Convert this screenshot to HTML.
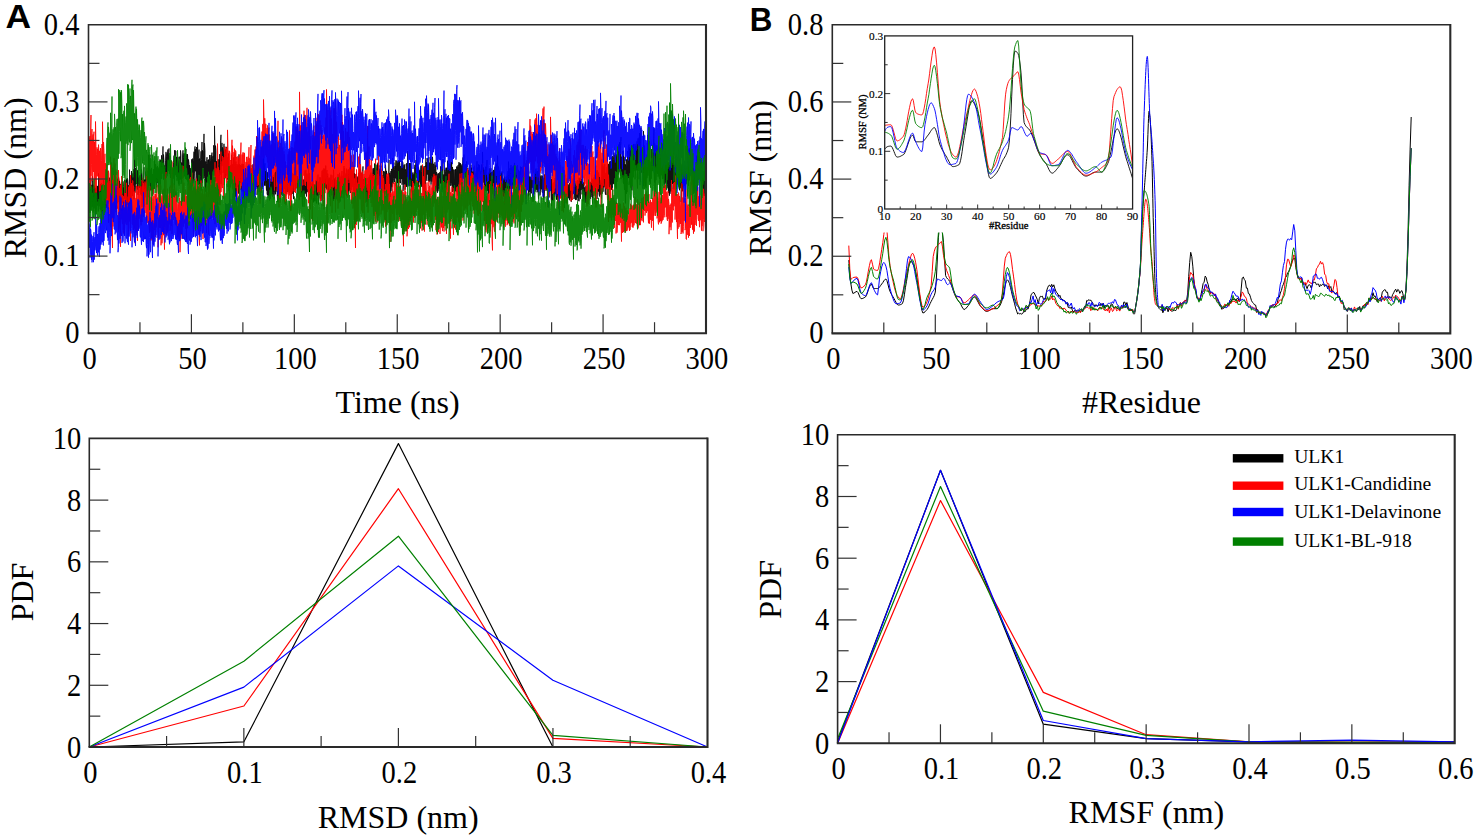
<!DOCTYPE html>
<html><head><meta charset="utf-8"><title>RMSD RMSF</title>
<style>html,body{margin:0;padding:0;background:#fff;overflow:hidden}svg{display:block}</style></head>
<body><svg width="1478" height="838" viewBox="0 0 1478 838">
<rect width="1478" height="838" fill="#fff"/>
<defs>
<clipPath id="clipA"><rect x="88.5" y="24.8" width="617.5" height="308.4"/></clipPath>
<clipPath id="clipB"><rect x="832.3" y="24.8" width="618.0" height="308.59999999999997"/></clipPath>
<clipPath id="clipI"><rect x="884.7" y="35.9" width="247.89999999999986" height="173.1"/></clipPath>
</defs>
<g clip-path="url(#clipA)"><polyline fill="none" stroke="#000000" stroke-width="0.8" stroke-linejoin="round" points="88.5,205.4 88.5,192.3 89,189.2 89,212.8 89.5,211.7 89.5,187.1 90,187.8 90,213 90.5,208.4 90.5,183.5 91,179.7 91,210.2 91.5,199.4 91.5,186.9 92,184.8 92,207.2 92.5,206.2 92.5,176.3 93,182.3 93,212.5 93.5,202.9 93.5,184.8 94,185.3 94,208.5 94.5,206.6 94.5,186.4 95,186.9 95,213.9 95.5,215.7 95.5,188.1 96,189.4 96,214 96.5,209.7 96.5,193.3 97,185.8 97,205.2 97.5,205.7 97.5,186.1 98,190.9 98,211.6 98.5,211.2 98.5,173.5 99,189.9 99,206.5 99.5,205.4 99.5,185.7 100,186 100,208.7 100.5,209.6 100.5,183.9 101,186.6 101,212.8 101.5,212.6 101.5,183.3 102,193.1 102,213.8 102.5,212.8 102.5,193.3 103,191.2 103,207.7 103.5,203.6 103.5,180 104,186.6 104,210.9 104.5,201.5 104.5,188.6 105,185.5 105,203.9 105.5,208.2 105.5,180 106,180.8 106,203.2 106.5,207.7 106.5,176.6 107,179.9 107,198.7 107.5,196.9 107.5,171.6 108,177.3 108,203.7 108.5,201.3 108.5,180.1 109,181.8 109,201.6 109.5,199 109.5,177.7 110,184.1 110,198.4 110.5,206 110.5,184 111,183.8 111,213.9 111.5,208 111.5,184.6 112,167.8 112,204.8 112.5,199.1 112.5,182.7 113,174.8 113,195 113.5,200.6 113.5,179.3 114,186.4 114,199.7 114.5,205.1 114.5,175.5 115,190.4 115,207.1 115.5,209.3 115.5,192.6 116,188.7 116,212.2 116.5,208.9 116.5,189.5 117,186.9 117,202 117.5,203.3 117.5,178.7 118,179.7 118,202 118.5,200.7 118.5,176.9 119,179.7 119,199.2 119.5,204.2 119.5,180.9 120,184.3 120,201.6 120.5,198.9 120.5,184.4 121,184.5 121,210.4 121.5,205.3 121.5,186.2 122,181.6 122,202.7 122.5,203.3 122.5,187.5 123,187.8 123,203.1 123.5,200.7 123.5,186.3 124,181.3 124,199 124.5,197.7 124.5,179.8 125,181.7 125,202.9 125.5,198.9 125.5,183.1 126,180.2 126,203.4 126.5,204.9 126.5,178.7 127,184.9 127,202.3 127.5,204.8 127.5,178.2 128,181.8 128,205.1 128.5,207.4 128.5,185.4 129,187.5 129,198.4 129.5,200.2 129.5,169.6 130,183.5 130,203.6 130.5,196.8 130.5,179.9 131,176.4 131,199.6 131.5,190.9 131.5,171.1 132,177.9 132,188.7 132.5,196.1 132.5,178 133,173.3 133,191.2 133.5,191.9 133.5,169.3 134,172.2 134,199.2 134.5,187.3 134.5,159.2 135,174.5 135,192.7 135.5,185.7 135.5,168 136,171.5 136,183.6 136.5,184.1 136.5,167 137,171.3 137,188.2 137.5,189.5 137.5,170.3 138,175.4 138,194.8 138.5,187.6 138.5,177.8 139,176.7 139,187.4 139.5,188 139.5,175.5 140,176.4 140,192.1 140.5,194.3 140.5,176.6 141,174.8 141,192.7 141.5,195.7 141.5,169.6 142,175.9 142,206.9 142.5,193.8 142.5,180.6 143,180.9 143,196.5 143.5,203.1 143.5,179 144,167.2 144,196.6 144.5,206.4 144.5,179.6 145,184.3 145,197.5 145.5,194.7 145.5,171.6 146,183 146,191.6 146.5,190.5 146.5,174.7 147,176.9 147,188.7 147.5,187.8 147.5,170.7 148,173.2 148,186.8 148.5,197.2 148.5,154.8 149,172.6 149,186 149.5,181.7 149.5,167.3 150,154.6 150,183.8 150.5,190.4 150.5,171.2 151,169.3 151,183 151.5,190.2 151.5,167.9 152,173.9 152,188.6 152.5,190.7 152.5,174.1 153,175.8 153,194.4 153.5,186.5 153.5,169.2 154,173.3 154,186.6 154.5,188.7 154.5,160.4 155,170.9 155,182.5 155.5,179.8 155.5,164.1 156,166.5 156,179.5 156.5,187.3 156.5,167.6 157,167.3 157,183.1 157.5,182 157.5,166 158,167.9 158,186.3 158.5,188.1 158.5,168.5 159,169.1 159,184.8 159.5,179.2 159.5,165.5 160,159.4 160,179.2 160.5,187.1 160.5,160.9 161,160.1 161,172.2 161.5,179.1 161.5,155.3 162,161.5 162,173.9 162.5,170.7 162.5,161 163,146.4 163,177.6 163.5,179.5 163.5,154.5 164,160.8 164,179.6 164.5,176.1 164.5,165.5 165,166.3 165,176.3 165.5,178.8 165.5,160.7 166,151.9 166,177.7 166.5,177.9 166.5,156.7 167,153.3 167,176.4 167.5,174.1 167.5,151.2 168,149.4 168,168.9 168.5,171 168.5,154.9 169,148.4 169,167.6 169.5,174 169.5,157.4 170,155.9 170,173.6 170.5,178 170.5,164.6 171,171.8 171,187.4 171.5,185.3 171.5,160.8 172,171.2 172,185.4 172.5,187.7 172.5,168.9 173,167.8 173,178.8 173.5,175.6 173.5,162.5 174,155.6 174,177.5 174.5,187.9 174.5,150.2 175,156.7 175,174.4 175.5,174.9 175.5,150.5 176,151 176,175.8 176.5,176.8 176.5,156.9 177,164.1 177,180.7 177.5,175.8 177.5,157.1 178,164.5 178,178.1 178.5,183.7 178.5,166 179,156.8 179,185.6 179.5,180.6 179.5,158.9 180,156.5 180,177.5 180.5,179.4 180.5,150.4 181,155 181,183.9 181.5,182.1 181.5,162.7 182,162.6 182,178.8 182.5,178.4 182.5,156 183,150.3 183,177.9 183.5,174.6 183.5,157.3 184,153.3 184,171.6 184.5,176.3 184.5,153.8 185,157.3 185,175.1 185.5,178.8 185.5,152.5 186,149 186,176.2 186.5,179.6 186.5,157.3 187,154 187,177.5 187.5,181.5 187.5,154.3 188,163.7 188,185.6 188.5,180.2 188.5,159.4 189,163.1 189,190.3 189.5,188.8 189.5,165.2 190,170 190,182.8 190.5,190.1 190.5,168.3 191,169.2 191,188.3 191.5,189.9 191.5,159.5 192,159.6 192,182.9 192.5,183 192.5,158.6 193,159.8 193,186.2 193.5,178.1 193.5,160.8 194,151.7 194,180.1 194.5,173.2 194.5,151.6 195,146.4 195,171.3 195.5,171.1 195.5,149.2 196,157.6 196,181.1 196.5,175.9 196.5,147 197,155 197,174 197.5,182.1 197.5,142.8 198,157.2 198,183.4 198.5,184.7 198.5,158.6 199,149.6 199,172 199.5,186.8 199.5,158.5 200,161.1 200,184.6 200.5,176.3 200.5,160.5 201,151.3 201,190.6 201.5,180.1 201.5,159.5 202,142 202,177.5 202.5,182.7 202.5,150.3 203,157.2 203,178.4 203.5,168.5 203.5,150.4 204,133.9 204,178.4 204.5,176.3 204.5,143.1 205,150.7 205,175.1 205.5,191.7 205.5,161.6 206,161.8 206,185.5 206.5,196.8 206.5,163.3 207,157.2 207,182.5 207.5,182.3 207.5,163.9 208,160 208,183.8 208.5,196.9 208.5,159.5 209,162.9 209,185.2 209.5,193.9 209.5,155.1 210,161.8 210,185.6 210.5,183.5 210.5,160.8 211,155 211,181.6 211.5,183.2 211.5,156.7 212,152.6 212,179.8 212.5,181.2 212.5,158.3 213,155.8 213,171.9 213.5,170.8 213.5,145.4 214,147.6 214,175.7 214.5,169 214.5,125.9 215,150.7 215,176.6 215.5,181.5 215.5,145.6 216,150.5 216,181.3 216.5,179.2 216.5,161.2 217,167.2 217,190.3 217.5,189.9 217.5,166.7 218,159.3 218,196.9 218.5,190.6 218.5,164.5 219,159.4 219,184.1 219.5,194.3 219.5,154.2 220,154.9 220,174.8 220.5,174.1 220.5,140.8 221,134.8 221,184.2 221.5,175.4 221.5,150.4 222,142.9 222,166 222.5,165.4 222.5,147.3 223,151.9 223,172.9 223.5,170.6 223.5,153.1 224,143.8 224,179 224.5,176 224.5,153.8 225,146.7 225,177.4 225.5,178.2 225.5,149.6 226,156 226,176.2 226.5,167.7 226.5,146.9 227,152.6 227,171.7 227.5,179.6 227.5,157.4 228,164.2 228,187 228.5,180.3 228.5,153.5 229,161.3 229,191.1 229.5,187.5 229.5,166.4 230,168 230,187.7 230.5,185.3 230.5,165.6 231,164.8 231,183.7 231.5,181.4 231.5,154.8 232,165 232,178.1 232.5,181.6 232.5,164.3 233,165.5 233,180.1 233.5,183.5 233.5,157.6 234,167.6 234,197.6 234.5,197.4 234.5,166.5 235,153.2 235,183.2 235.5,196.7 235.5,165.6 236,161.5 236,183.8 236.5,198.9 236.5,168.1 237,164 237,187.1 237.5,182.8 237.5,168 238,164.8 238,183.4 238.5,193.6 238.5,167.2 239,154.3 239,180.8 239.5,185.4 239.5,164.1 240,168.1 240,181.4 240.5,182.9 240.5,165.1 241,171.8 241,187.2 241.5,191 241.5,167 242,163.9 242,191.6 242.5,184.7 242.5,163.9 243,167.7 243,194 243.5,199.3 243.5,164.1 244,172.2 244,187.7 244.5,199.8 244.5,172.8 245,173 245,193.7 245.5,194.9 245.5,174.2 246,172.8 246,195 246.5,196.4 246.5,177.3 247,181.1 247,196 247.5,195.9 247.5,173.9 248,177 248,196.8 248.5,195.2 248.5,169 249,173.6 249,193.7 249.5,190.8 249.5,171.1 250,171.1 250,182.2 250.5,184.3 250.5,168.5 251,165.2 251,192.8 251.5,182.3 251.5,168.4 252,170.6 252,185.4 252.5,180.3 252.5,165.7 253,164.4 253,181.8 253.5,183.8 253.5,170.5 254,168 254,181.2 254.5,195.6 254.5,171.9 255,173 255,183.8 255.5,190.2 255.5,170.2 256,171.6 256,185.7 256.5,186.8 256.5,166.8 257,175.3 257,194.9 257.5,189.4 257.5,169.9 258,169.6 258,185.2 258.5,187.5 258.5,173.3 259,173.8 259,192.2 259.5,189.9 259.5,177.5 260,178.5 260,191.4 260.5,199 260.5,180.6 261,172.1 261,193 261.5,189.1 261.5,178.1 262,174.7 262,189.2 262.5,187.3 262.5,166.9 263,159.3 263,179.8 263.5,180.4 263.5,153.4 264,155.6 264,180 264.5,185.3 264.5,167.9 265,163.3 265,185.9 265.5,183.2 265.5,170.9 266,171.5 266,183.9 266.5,190.5 266.5,169.8 267,176 267,193.7 267.5,195.3 267.5,172.3 268,180.8 268,197.9 268.5,197.6 268.5,179 269,179.6 269,194.1 269.5,200.4 269.5,168.8 270,177.8 270,194.9 270.5,198.7 270.5,183.6 271,178.7 271,192 271.5,194.5 271.5,175.9 272,181.6 272,194.2 272.5,196.9 272.5,176.7 273,177 273,195.7 273.5,192.6 273.5,176.7 274,174.9 274,198.6 274.5,190.2 274.5,173.6 275,172.5 275,189.3 275.5,194.3 275.5,170.7 276,172.9 276,191.7 276.5,189.9 276.5,170.5 277,174.2 277,190.4 277.5,201.8 277.5,178.9 278,181.8 278,202.1 278.5,199.3 278.5,184.3 279,173.1 279,199.4 279.5,197.5 279.5,185.3 280,180.8 280,199.7 280.5,197.2 280.5,170.2 281,180.2 281,193.9 281.5,194.6 281.5,180.6 282,178.5 282,190.1 282.5,189 282.5,175.5 283,172.1 283,190.5 283.5,192.5 283.5,178.4 284,175.3 284,186.9 284.5,189.1 284.5,173.1 285,176.6 285,193.3 285.5,192.9 285.5,171.9 286,175.6 286,194.1 286.5,192.7 286.5,176.9 287,179.3 287,192 287.5,191.8 287.5,177.4 288,174.7 288,191.8 288.5,190.7 288.5,166.6 289,179.5 289,190.3 289.5,193.1 289.5,175.8 290,178.6 290,189 290.5,191.7 290.5,174.4 291,165.5 291,194.7 291.5,195 291.5,174.7 292,172.8 292,188.7 292.5,193.7 292.5,173 293,176.6 293,187.1 293.5,199.1 293.5,174 294,175.3 294,190.2 294.5,187.8 294.5,174.2 295,167.2 295,185.1 295.5,190.2 295.5,172.3 296,160.1 296,188.4 296.5,181.7 296.5,172.3 297,170.4 297,197.7 297.5,188.1 297.5,176.1 298,179.9 298,191.1 298.5,194 298.5,178.7 299,181.7 299,191.2 299.5,199.5 299.5,178.3 300,182.2 300,197.1 300.5,192.1 300.5,179.2 301,182 301,197 301.5,195 301.5,179.2 302,175.9 302,196.2 302.5,206.5 302.5,180.7 303,179.1 303,199 303.5,192.1 303.5,179.9 304,182.9 304,206.8 304.5,194.8 304.5,183.2 305,170.4 305,192.4 305.5,193.5 305.5,180 306,169.8 306,192.9 306.5,196.5 306.5,178.1 307,173.5 307,192.3 307.5,187.3 307.5,177.5 308,174.3 308,191.8 308.5,189.9 308.5,165.2 309,172.5 309,193.4 309.5,188.9 309.5,173 310,180.4 310,198.2 310.5,200.8 310.5,181.9 311,182.6 311,195.2 311.5,199.5 311.5,186.7 312,183.4 312,196.6 312.5,199.8 312.5,182 313,181.4 313,195.8 313.5,202.4 313.5,185.6 314,184 314,196.9 314.5,201.2 314.5,185.6 315,184.9 315,201.2 315.5,198.4 315.5,185.1 316,180.3 316,197.6 316.5,203.4 316.5,188 317,179.9 317,195.7 317.5,196.2 317.5,186.2 318,174.5 318,195.5 318.5,204.5 318.5,182.5 319,181.6 319,194.8 319.5,193 319.5,177.2 320,177.9 320,197.4 320.5,199 320.5,177.4 321,181.8 321,201.3 321.5,196.1 321.5,184.2 322,170.7 322,193.5 322.5,189.6 322.5,174.3 323,169.7 323,192.4 323.5,198.6 323.5,171.5 324,168.2 324,188.1 324.5,190.9 324.5,169 325,169.8 325,183.4 325.5,187.8 325.5,165.7 326,165.7 326,186.8 326.5,188.7 326.5,173 327,170.1 327,189.8 327.5,185.5 327.5,173.7 328,173.8 328,193 328.5,190.3 328.5,178.6 329,177.5 329,194 329.5,197.1 329.5,177.9 330,181.7 330,194.5 330.5,205.1 330.5,177.9 331,174.6 331,190.5 331.5,195.4 331.5,182.1 332,175.3 332,193.1 332.5,195 332.5,179.8 333,182.7 333,195.4 333.5,200.9 333.5,169.6 334,181.1 334,198.3 334.5,199.2 334.5,178.5 335,182 335,194.5 335.5,195.2 335.5,177.3 336,183 336,199.4 336.5,192.2 336.5,181.5 337,180.2 337,198.5 337.5,193.3 337.5,181.3 338,174 338,192.4 338.5,192.9 338.5,176.6 339,175.3 339,200.1 339.5,192.2 339.5,172.8 340,176.3 340,201.6 340.5,194.6 340.5,178.4 341,176.4 341,197.6 341.5,189.9 341.5,176.4 342,171 342,191.6 342.5,187.9 342.5,177.2 343,175.5 343,190.2 343.5,190.1 343.5,171.7 344,166 344,191.9 344.5,185.5 344.5,168.1 345,174.3 345,187.6 345.5,191.4 345.5,174.5 346,173.4 346,189 346.5,195.2 346.5,168.6 347,178.6 347,195.8 347.5,190.8 347.5,176.6 348,169.7 348,193.1 348.5,194.9 348.5,169.3 349,171.4 349,190.8 349.5,190.3 349.5,167.6 350,171.8 350,191.8 350.5,193 350.5,164.3 351,166.8 351,187.1 351.5,190 351.5,171.5 352,169.3 352,187 352.5,184.2 352.5,175.9 353,170.9 353,187.2 353.5,190.7 353.5,175.7 354,165.6 354,194.5 354.5,192.3 354.5,173.3 355,178.5 355,190.4 355.5,197.3 355.5,176.2 356,173.9 356,192.6 356.5,191.1 356.5,179.7 357,176.3 357,193.2 357.5,190.2 357.5,177.6 358,176.9 358,187.1 358.5,191.4 358.5,173 359,172.8 359,190.8 359.5,192.9 359.5,170.8 360,168.7 360,185.4 360.5,192 360.5,169.9 361,173.4 361,197.2 361.5,187.5 361.5,173.1 362,172.9 362,191 362.5,194 362.5,173.2 363,166.4 363,192.9 363.5,198.2 363.5,179 364,183.1 364,199.6 364.5,194.4 364.5,177.3 365,183.1 365,197.9 365.5,198.1 365.5,182.7 366,178.4 366,202.1 366.5,199.1 366.5,184.3 367,178 367,206.8 367.5,202.6 367.5,184 368,184.9 368,196.8 368.5,199.4 368.5,180.4 369,177.2 369,194.3 369.5,198 369.5,179.7 370,174.8 370,196.9 370.5,196.4 370.5,177.5 371,172.5 371,192.1 371.5,188.5 371.5,177.4 372,174.6 372,190.8 372.5,192.1 372.5,174.9 373,168.4 373,185.8 373.5,182.4 373.5,170 374,167.9 374,183.5 374.5,190 374.5,163.5 375,167.4 375,182.1 375.5,182.7 375.5,165.3 376,173.3 376,183 376.5,189.4 376.5,170.6 377,164.7 377,183.9 377.5,185.5 377.5,163.7 378,162.6 378,184.7 378.5,182 378.5,167.9 379,165.4 379,185 379.5,183.6 379.5,170.6 380,168.6 380,188.8 380.5,184.3 380.5,168.3 381,165.6 381,182.2 381.5,187.8 381.5,170.6 382,171.6 382,185.4 382.5,191.1 382.5,175 383,176.2 383,192.8 383.5,189.4 383.5,171 384,179.2 384,188.3 384.5,194.1 384.5,171.5 385,173.1 385,194.1 385.5,190.3 385.5,164.7 386,174.4 386,198.4 386.5,194.5 386.5,170.9 387,179.1 387,190.9 387.5,196.6 387.5,176.7 388,177.8 388,194.8 388.5,192.5 388.5,179.2 389,159.9 389,207 389.5,189.6 389.5,172.9 390,174.3 390,191.4 390.5,196.9 390.5,174.2 391,171 391,191.5 391.5,186.1 391.5,168.9 392,170.7 392,187 392.5,186.3 392.5,158.2 393,168.9 393,183.9 393.5,178.5 393.5,166.1 394,162.5 394,178.6 394.5,182.1 394.5,169.4 395,166 395,178.3 395.5,178.2 395.5,165.9 396,160.2 396,185.9 396.5,179.6 396.5,166 397,161 397,176 397.5,183.1 397.5,163.9 398,161.4 398,187.1 398.5,184.1 398.5,160.3 399,160.9 399,182.1 399.5,182.6 399.5,161.1 400,166.2 400,180.9 400.5,183.1 400.5,166.2 401,167.4 401,179 401.5,179 401.5,166.1 402,161.2 402,184.7 402.5,179.1 402.5,161.8 403,162.9 403,191.3 403.5,185.6 403.5,168.8 404,164.6 404,183 404.5,184.4 404.5,165.8 405,164.4 405,189.7 405.5,183 405.5,169.4 406,171.4 406,182.3 406.5,186.9 406.5,163.3 407,167.1 407,185.5 407.5,180.5 407.5,151.2 408,168.8 408,185.2 408.5,180 408.5,168.5 409,163.4 409,186.1 409.5,184.9 409.5,163 410,165.1 410,186.1 410.5,182.1 410.5,163.2 411,168.2 411,183.8 411.5,190.5 411.5,169.5 412,176.2 412,192.5 412.5,187.8 412.5,174.3 413,172.4 413,195.3 413.5,187.1 413.5,174.3 414,173.6 414,184.8 414.5,185.7 414.5,166.6 415,164.8 415,184.6 415.5,183.8 415.5,167.4 416,160 416,177.1 416.5,177.5 416.5,154.7 417,167.1 417,176.9 417.5,179 417.5,163.9 418,167.1 418,179.2 418.5,186.9 418.5,167.1 419,170.5 419,182.4 419.5,180.5 419.5,170.2 420,170.6 420,185.2 420.5,188.1 420.5,169.9 421,165.7 421,187 421.5,186.6 421.5,171.7 422,165.5 422,185.2 422.5,186.5 422.5,167.3 423,172.8 423,186.3 423.5,191 423.5,169.1 424,166.2 424,202.4 424.5,186.1 424.5,172.3 425,166.2 425,194.7 425.5,183.1 425.5,164.6 426,158.1 426,181.1 426.5,178.9 426.5,162.3 427,163.3 427,174.6 427.5,174.4 427.5,158.2 428,162.6 428,181 428.5,180.6 428.5,161.2 429,157.2 429,182 429.5,181.6 429.5,162.7 430,162.9 430,181.4 430.5,178 430.5,157.3 431,160.7 431,184.7 431.5,176.3 431.5,161.4 432,165.3 432,181.6 432.5,176.8 432.5,156.8 433,165.1 433,196.5 433.5,184.9 433.5,163.8 434,165.2 434,178.6 434.5,184.4 434.5,168.4 435,162.2 435,185.8 435.5,180.2 435.5,165.3 436,164.6 436,191.4 436.5,187 436.5,172.1 437,173.4 437,189.8 437.5,192.8 437.5,175.2 438,173.7 438,191.3 438.5,186.5 438.5,173.3 439,174.1 439,189.1 439.5,188.6 439.5,172.8 440,171.9 440,183 440.5,183.6 440.5,166.4 441,170 441,192.5 441.5,184.3 441.5,167 442,174.4 442,185.3 442.5,189.6 442.5,173.5 443,159.1 443,192.4 443.5,187.7 443.5,174.8 444,174.3 444,189 444.5,189.5 444.5,169.6 445,171.1 445,188.1 445.5,187.5 445.5,171.5 446,167.7 446,181.5 446.5,189.4 446.5,167.8 447,171.6 447,183.1 447.5,182.9 447.5,160.7 448,168 448,193.6 448.5,184.6 448.5,163.3 449,169.4 449,185.1 449.5,180.4 449.5,167.3 450,164.1 450,186.1 450.5,183.3 450.5,169 451,162.1 451,185.7 451.5,183.2 451.5,161.8 452,169 452,181 452.5,192 452.5,167 453,174 453,190.4 453.5,190.4 453.5,169.7 454,169.5 454,191.9 454.5,191.3 454.5,180 455,169.8 455,189.7 455.5,191.4 455.5,169.1 456,171.3 456,187.9 456.5,191.8 456.5,166.6 457,167.9 457,183.5 457.5,195.5 457.5,166.9 458,165.3 458,187 458.5,182.1 458.5,166.5 459,162 459,185.3 459.5,195.3 459.5,163.3 460,165.7 460,182.1 460.5,185 460.5,163.2 461,167.7 461,184.8 461.5,186.4 461.5,165.6 462,164.4 462,184.1 462.5,175.2 462.5,165.8 463,157.4 463,174.1 463.5,178.5 463.5,163.4 464,154.5 464,177.8 464.5,180.3 464.5,167.6 465,164.5 465,182.2 465.5,182.7 465.5,164.3 466,169.5 466,186.7 466.5,186.8 466.5,161.4 467,169.4 467,182.3 467.5,183.4 467.5,170.1 468,167.9 468,188.8 468.5,186.6 468.5,173.5 469,169.8 469,189.6 469.5,192.8 469.5,175.8 470,174.8 470,186 470.5,192.1 470.5,170.6 471,164.7 471,191 471.5,187.4 471.5,167.7 472,173.1 472,186.2 472.5,189.3 472.5,171.5 473,173.4 473,188 473.5,193.6 473.5,171.9 474,167.2 474,192 474.5,189.5 474.5,171 475,171.6 475,193.4 475.5,195.3 475.5,175.5 476,173.2 476,185.4 476.5,196.5 476.5,171.9 477,161.3 477,186.5 477.5,189.7 477.5,169.1 478,167.2 478,183.7 478.5,184.7 478.5,164.3 479,169.4 479,189.6 479.5,185.2 479.5,164.9 480,170.8 480,188.8 480.5,188 480.5,172.6 481,170.7 481,183.2 481.5,180.3 481.5,164.5 482,167 482,186.2 482.5,183.9 482.5,151.9 483,167.5 483,182.2 483.5,182.4 483.5,167.5 484,171.5 484,186.3 484.5,189.1 484.5,170.1 485,169.6 485,188 485.5,190.7 485.5,166.7 486,167.2 486,188 486.5,191.2 486.5,171.2 487,160 487,191 487.5,190.2 487.5,177.7 488,180.2 488,202.6 488.5,188.8 488.5,172.7 489,174.5 489,192.8 489.5,187.5 489.5,168.3 490,168.8 490,189.6 490.5,189.6 490.5,171.8 491,168.3 491,184.7 491.5,201.4 491.5,172.2 492,172.1 492,194.3 492.5,191.8 492.5,171.5 493,174 493,192.4 493.5,188.6 493.5,169.9 494,172.8 494,185.6 494.5,198.2 494.5,170.9 495,166.7 495,187 495.5,180.2 495.5,167.2 496,163.7 496,184.7 496.5,180.3 496.5,164.9 497,163.5 497,182.9 497.5,181.6 497.5,155.6 498,167.4 498,188.2 498.5,188.7 498.5,166.5 499,169.7 499,191.8 499.5,190.7 499.5,170.6 500,178.4 500,192.7 500.5,194.3 500.5,178.4 501,172.8 501,186.2 501.5,190.7 501.5,175.3 502,171.4 502,188 502.5,194.3 502.5,176.6 503,175.2 503,191.1 503.5,196.7 503.5,180.7 504,178.5 504,194.2 504.5,204.9 504.5,176.6 505,176.9 505,197.4 505.5,199 505.5,180.7 506,179.3 506,198.3 506.5,194 506.5,178.3 507,176.2 507,195.1 507.5,189.6 507.5,176.4 508,171 508,187.4 508.5,191.1 508.5,161.6 509,174.1 509,191.7 509.5,189.9 509.5,170.6 510,168.2 510,187.8 510.5,188.6 510.5,172.8 511,165 511,189.1 511.5,187.3 511.5,168.6 512,167.4 512,185.2 512.5,188.7 512.5,173.5 513,166.2 513,184.3 513.5,188.4 513.5,165.5 514,171.9 514,187.9 514.5,188.7 514.5,162.9 515,175.3 515,190.3 515.5,193 515.5,172.6 516,173.1 516,194.4 516.5,191.4 516.5,173.8 517,166.2 517,190.5 517.5,199 517.5,176.9 518,172.6 518,193.2 518.5,188.9 518.5,169.8 519,174.7 519,182.5 519.5,181.5 519.5,171.9 520,171.1 520,184.2 520.5,186.5 520.5,166.6 521,169.5 521,187.5 521.5,184.2 521.5,167.1 522,169.6 522,186.4 522.5,195.9 522.5,169.4 523,170.9 523,185.3 523.5,185.2 523.5,170.8 524,171.4 524,192.3 524.5,189.1 524.5,174.9 525,172.3 525,191.5 525.5,185.8 525.5,172.4 526,170.8 526,191 526.5,194.2 526.5,170.7 527,174.7 527,188.7 527.5,189.8 527.5,176 528,170.7 528,185 528.5,196.7 528.5,164.2 529,174.2 529,191.2 529.5,191.9 529.5,176.6 530,177.7 530,195.3 530.5,191 530.5,176.8 531,177 531,191.6 531.5,193.3 531.5,177.6 532,178.8 532,187.9 532.5,187.6 532.5,178.1 533,177.3 533,201.8 533.5,190.1 533.5,180.1 534,179.7 534,188.9 534.5,188.7 534.5,177.5 535,173.1 535,191.8 535.5,189.4 535.5,171.4 536,168.5 536,189.8 536.5,189.7 536.5,175.4 537,170.5 537,192.3 537.5,190.6 537.5,171.1 538,173.2 538,190.2 538.5,198.8 538.5,171.9 539,162.1 539,189.3 539.5,186.6 539.5,171.5 540,170.3 540,195.5 540.5,191.3 540.5,176.6 541,175.5 541,188 541.5,189.3 541.5,178.3 542,175.6 542,191.9 542.5,192.8 542.5,175.9 543,179.4 543,193.6 543.5,199.5 543.5,181.1 544,177.7 544,198.4 544.5,193.2 544.5,174.4 545,178 545,189.4 545.5,187.2 545.5,175.4 546,169.9 546,190.9 546.5,189.2 546.5,163.2 547,164.2 547,187.3 547.5,182.6 547.5,171.6 548,166.4 548,181.7 548.5,188.8 548.5,174 549,174.8 549,197.6 549.5,189 549.5,165.1 550,176.4 550,191.2 550.5,188.7 550.5,179.5 551,176.4 551,193.5 551.5,206.1 551.5,179.1 552,185.1 552,196.5 552.5,200.5 552.5,184.4 553,183.3 553,201 553.5,194.4 553.5,185.3 554,182.2 554,197.3 554.5,194 554.5,182.3 555,178 555,192 555.5,193.6 555.5,183.5 556,167.8 556,195.4 556.5,199.6 556.5,184.6 557,184.9 557,199.6 557.5,199 557.5,187.4 558,171.6 558,195.3 558.5,202 558.5,182 559,187.2 559,198.5 559.5,198.2 559.5,183.3 560,183.3 560,195.4 560.5,197.6 560.5,180.5 561,181.6 561,194.7 561.5,194.9 561.5,174.8 562,183.3 562,193.4 562.5,198.9 562.5,180.7 563,186.5 563,196.6 563.5,197.2 563.5,184.9 564,186.7 564,200.7 564.5,207.9 564.5,185.3 565,174.7 565,196.7 565.5,195.5 565.5,182.3 566,185.3 566,203.1 566.5,196.2 566.5,184.8 567,178.4 567,197.3 567.5,193.2 567.5,184 568,184.2 568,197 568.5,198.2 568.5,186.1 569,184.4 569,196.3 569.5,200.2 569.5,183 570,187.3 570,198.6 570.5,197.5 570.5,187.3 571,176.1 571,201.6 571.5,201.6 571.5,186.2 572,184.4 572,193.9 572.5,195.3 572.5,184.1 573,178.5 573,194 573.5,192.2 573.5,174.6 574,176.3 574,199 574.5,195.2 574.5,183.2 575,185.7 575,196.6 575.5,199.9 575.5,186.8 576,181 576,200.1 576.5,199.5 576.5,185.7 577,185.3 577,195.7 577.5,197.6 577.5,180.1 578,183.6 578,201 578.5,192.6 578.5,183.4 579,177.7 579,201.3 579.5,191.1 579.5,182.6 580,177.7 580,194.6 580.5,198.9 580.5,180.9 581,178.3 581,190.2 581.5,188.9 581.5,179.3 582,178.9 582,194.4 582.5,189.4 582.5,175.5 583,177.2 583,201.5 583.5,193.2 583.5,184.3 584,182.2 584,196.1 584.5,196.5 584.5,187.6 585,187.2 585,202.7 585.5,197 585.5,189.4 586,185.8 586,202.9 586.5,199.4 586.5,185.7 587,185.8 587,204.2 587.5,202.6 587.5,185.4 588,187.6 588,198.7 588.5,199.8 588.5,188.5 589,189.2 589,196.8 589.5,198.1 589.5,185.7 590,181.7 590,194.9 590.5,198.7 590.5,184.3 591,182 591,197 591.5,193.6 591.5,178.8 592,178.5 592,191.1 592.5,203.6 592.5,179.2 593,180.1 593,191.7 593.5,192.8 593.5,182.1 594,177.4 594,189.8 594.5,191.2 594.5,178.3 595,174.5 595,193.4 595.5,189.7 595.5,176.8 596,170.2 596,187.2 596.5,186.3 596.5,175.7 597,170.7 597,199 597.5,187.4 597.5,170.3 598,177.3 598,188.9 598.5,191.6 598.5,172.5 599,175.5 599,194 599.5,196.5 599.5,177 600,180.9 600,192 600.5,194.5 600.5,180.5 601,180.6 601,194.8 601.5,198.6 601.5,176.6 602,159.3 602,193.8 602.5,190.3 602.5,167.1 603,164.4 603,191.8 603.5,183.2 603.5,166.5 604,166.9 604,187.3 604.5,183 604.5,164.2 605,164.1 605,191.3 605.5,194.7 605.5,173.5 606,172.8 606,189.2 606.5,188.8 606.5,174.6 607,166.8 607,195 607.5,188.9 607.5,175.7 608,164.6 608,186.5 608.5,183 608.5,163.9 609,166.8 609,187.2 609.5,189.7 609.5,161.6 610,164.3 610,188.7 610.5,185.4 610.5,161.1 611,163.4 611,183.8 611.5,189.8 611.5,157.3 612,161.6 612,185.4 612.5,187.8 612.5,156 613,157.6 613,183.7 613.5,183.6 613.5,159.5 614,152.6 614,184.2 614.5,178.2 614.5,162.9 615,154.7 615,180.6 615.5,187.3 615.5,153.7 616,154.6 616,188.8 616.5,188.4 616.5,156.1 617,154.1 617,181.9 617.5,174.2 617.5,148.1 618,152.5 618,171.9 618.5,174.4 618.5,145.3 619,144.3 619,172.3 619.5,168.8 619.5,142 620,147.8 620,167.5 620.5,175.9 620.5,145.8 621,137.1 621,179.2 621.5,171.1 621.5,156.7 622,158 622,176.2 622.5,177.6 622.5,151.1 623,157.3 623,182 623.5,183.7 623.5,150.7 624,163 624,182.1 624.5,190 624.5,163.5 625,156.9 625,186 625.5,203.4 625.5,164.4 626,167 626,192.9 626.5,193.8 626.5,159.4 627,164.6 627,192.1 627.5,179 627.5,151 628,157.4 628,176.3 628.5,178.2 628.5,147.8 629,144.5 629,184.8 629.5,180.8 629.5,147.2 630,156.7 630,181.6 630.5,187.6 630.5,148.4 631,156 631,186 631.5,189.9 631.5,152.5 632,148.1 632,190.4 632.5,176.6 632.5,147.5 633,144.9 633,177.4 633.5,177.1 633.5,144.2 634,149.9 634,171.2 634.5,169.7 634.5,153.4 635,143.9 635,179.4 635.5,173.9 635.5,145.8 636,146.7 636,170.6 636.5,168.7 636.5,147.6 637,141.2 637,177.2 637.5,188.5 637.5,148.5 638,138.4 638,171 638.5,166.5 638.5,146.5 639,137.6 639,179.3 639.5,171.5 639.5,133 640,143 640,165.4 640.5,181.6 640.5,135.1 641,127.6 641,171.5 641.5,172.6 641.5,149 642,147.7 642,172.6 642.5,172.3 642.5,147.9 643,156.6 643,182.4 643.5,186.1 643.5,131.1 644,163.5 644,189 644.5,178.8 644.5,145.6 645,160.4 645,179.1 645.5,186.5 645.5,160.4 646,160.4 646,188.2 646.5,175.3 646.5,161.4 647,154.5 647,178.2 647.5,168.9 647.5,135.1 648,140.6 648,175.7 648.5,167.1 648.5,144.6 649,143.3 649,166.7 649.5,181.4 649.5,141.2 650,158.6 650,179.7 650.5,183.8 650.5,163.4 651,161.6 651,179 651.5,178.3 651.5,149.1 652,150.7 652,171.2 652.5,169.1 652.5,148.8 653,147.8 653,171.1 653.5,166.8 653.5,138.4 654,128.5 654,172.6 654.5,182.5 654.5,143.3 655,143.6 655,192.2 655.5,168 655.5,152 656,145.3 656,180.2 656.5,169.3 656.5,153.5 657,145.4 657,171 657.5,174 657.5,150.7 658,147.6 658,176.6 658.5,174.3 658.5,154.8 659,154.1 659,176.4 659.5,179 659.5,150.2 660,146.6 660,194.3 660.5,173.9 660.5,154 661,156.1 661,175.3 661.5,175.1 661.5,156.9 662,150.6 662,174.5 662.5,179.1 662.5,143.7 663,160.4 663,178.7 663.5,178.1 663.5,157 664,153.4 664,182.5 664.5,184.6 664.5,151.3 665,162.6 665,183.7 665.5,180.9 665.5,148.2 666,156.8 666,188.9 666.5,188.5 666.5,154.6 667,158 667,188.3 667.5,184.7 667.5,167.1 668,150.3 668,185.8 668.5,192.8 668.5,165.5 669,162.2 669,191.7 669.5,195.7 669.5,164.4 670,171.9 670,193.8 670.5,183.3 670.5,165.9 671,160.4 671,191.4 671.5,187.8 671.5,161.9 672,159.7 672,179 672.5,184 672.5,156 673,156.1 673,189.2 673.5,180.7 673.5,158 674,145.8 674,189.3 674.5,182 674.5,164.9 675,167.2 675,183.2 675.5,183.1 675.5,156.1 676,162.7 676,184.9 676.5,188.9 676.5,154.3 677,159.2 677,184.5 677.5,183.8 677.5,157.3 678,162.7 678,177.1 678.5,185.9 678.5,148.3 679,162.7 679,185 679.5,190.3 679.5,160.3 680,158.3 680,188.3 680.5,184.1 680.5,162.8 681,167.9 681,201.9 681.5,189.8 681.5,171.6 682,164.4 682,183.7 682.5,191.3 682.5,163.6 683,164.9 683,186.9 683.5,183.9 683.5,170.2 684,169.8 684,186.2 684.5,185.6 684.5,168.4 685,165.1 685,186.8 685.5,197 685.5,171.3 686,167.7 686,184.3 686.5,181.9 686.5,168.7 687,166.2 687,180.4 687.5,179.5 687.5,161 688,153.9 688,171.7 688.5,185.8 688.5,155.2 689,148.6 689,175.5 689.5,180.4 689.5,148.5 690,159.2 690,171.1 690.5,171.7 690.5,154.2 691,159.1 691,174.3 691.5,184.9 691.5,165.8 692,163 692,182.6 692.5,190 692.5,154.3 693,174.6 693,191.6 693.5,193.9 693.5,168.3 694,179 694,192.8 694.5,192.5 694.5,176.8 695,170.1 695,193.7 695.5,195.7 695.5,169.1 696,174.3 696,186.2 696.5,191.4 696.5,165.6 697,155.5 697,195.4 697.5,179.2 697.5,162.3 698,156 698,180.1 698.5,174.5 698.5,156.1 699,160 699,178.6 699.5,176.2 699.5,157.9 700,156.8 700,177.9 700.5,176.5 700.5,159.1 701,161.7 701,178.5 701.5,187.3 701.5,162 702,170.6 702,186.9 702.5,187.7 702.5,173.8 703,175.8 703,193.1 703.5,195.6 703.5,171 704,173.1 704,188.3 704.5,196.1 704.5,168.4 705,165.8 705,184.9 705.5,189.4 705.5,172.8 706,164.9 706,184.3" /><polyline fill="none" stroke="#ff0000" stroke-width="0.8" stroke-linejoin="round" points="88.5,197.8 88.5,150 89,149.8 89,197.1 89.5,178.1 89.5,137.3 90,136.1 90,189 90.5,183.9 90.5,130.1 91,115 91,175.9 91.5,164.7 91.5,141.2 92,129 92,180.8 92.5,176.2 92.5,137.8 93,134.4 93,170 93.5,171.9 93.5,136.2 94,131.7 94,188.7 94.5,178.7 94.5,141.9 95,149.8 95,193.8 95.5,187.6 95.5,121.5 96,146.5 96,192.1 96.5,192.5 96.5,154.6 97,147.3 97,175.4 97.5,176.3 97.5,149 98,148.9 98,172 98.5,177.8 98.5,144.6 99,151.8 99,173.9 99.5,191.4 99.5,150.8 100,153.1 100,191.1 100.5,189.1 100.5,148.1 101,152.4 101,183.3 101.5,185.4 101.5,160.5 102,144 102,194.3 102.5,200.9 102.5,121.7 103,150.2 103,201.1 103.5,201.5 103.5,142 104,150.9 104,189.9 104.5,198.2 104.5,162.5 105,153.8 105,196.2 105.5,199.1 105.5,163.2 106,169.4 106,204.2 106.5,200 106.5,171 107,164.5 107,202.9 107.5,209.1 107.5,176 108,170.5 108,208.7 108.5,222.9 108.5,170.9 109,173.9 109,215.3 109.5,209.2 109.5,182.5 110,180.9 110,220 110.5,227.3 110.5,156.7 111,192.7 111,221.4 111.5,231.7 111.5,162.5 112,185.4 112,233.4 112.5,248 112.5,197.1 113,167.7 113,226.5 113.5,218.7 113.5,182.2 114,158.2 114,218.5 114.5,211.4 114.5,170.2 115,163.6 115,205.8 115.5,200.7 115.5,176.9 116,169.4 116,209.7 116.5,214.9 116.5,176.8 117,171.3 117,204.7 117.5,208.7 117.5,188.5 118,181.2 118,214.8 118.5,231.8 118.5,170.1 119,188.2 119,228.6 119.5,224.2 119.5,188.1 120,193.4 120,232.6 120.5,246.8 120.5,184.9 121,193.6 121,219.6 121.5,218.2 121.5,176.1 122,181.2 122,221.5 122.5,224.1 122.5,195.1 123,196 123,230.5 123.5,233.4 123.5,196.3 124,200.7 124,225 124.5,235.3 124.5,181.7 125,197.3 125,221.4 125.5,222.3 125.5,193 126,201.7 126,224.7 126.5,219 126.5,182.8 127,197.1 127,225.1 127.5,221.8 127.5,204.7 128,196.6 128,235.8 128.5,232.3 128.5,186.6 129,198.5 129,221.7 129.5,221.2 129.5,184.7 130,191.8 130,214.7 130.5,241 130.5,175.1 131,187 131,211.2 131.5,212.3 131.5,183.1 132,193.5 132,223.6 132.5,224.7 132.5,180.4 133,181.2 133,223.9 133.5,230.2 133.5,185.6 134,192.1 134,221.1 134.5,228.6 134.5,192 135,191.3 135,243.2 135.5,223.2 135.5,199.9 136,197.9 136,231 136.5,232.1 136.5,185.8 137,206.1 137,228.5 137.5,240.8 137.5,201.5 138,186.3 138,221.7 138.5,229.8 138.5,184.4 139,189.5 139,218.7 139.5,213.9 139.5,193.6 140,184.8 140,212 140.5,222.1 140.5,182.3 141,180 141,225.4 141.5,214.9 141.5,193.3 142,186.4 142,222 142.5,208.5 142.5,184.4 143,177.7 143,209.2 143.5,216.9 143.5,183.1 144,189.9 144,207.4 144.5,213 144.5,188.8 145,181.5 145,213 145.5,205.8 145.5,187.8 146,182.7 146,220 146.5,220.4 146.5,183.2 147,167.8 147,223.2 147.5,222.4 147.5,181.3 148,197.1 148,217.3 148.5,224.8 148.5,186.6 149,198.6 149,223.9 149.5,232.9 149.5,192.8 150,186.5 150,231.7 150.5,227.4 150.5,200.6 151,196.9 151,240.6 151.5,235 151.5,198.2 152,198.3 152,239.7 152.5,236.8 152.5,201.4 153,189.2 153,243.8 153.5,239 153.5,198.8 154,196.1 154,228.3 154.5,230.1 154.5,209.7 155,193.7 155,234.7 155.5,237 155.5,193.9 156,196.4 156,227.7 156.5,226 156.5,197.5 157,185 157,216.3 157.5,219.1 157.5,197.7 158,197.8 158,247.3 158.5,221.7 158.5,186.8 159,189.6 159,226.3 159.5,227.8 159.5,187.2 160,184.7 160,225.4 160.5,228 160.5,184.3 161,186.8 161,245.3 161.5,223.5 161.5,199 162,195.5 162,243.3 162.5,232.2 162.5,199.1 163,190.2 163,221.3 163.5,235.2 163.5,194.4 164,188.6 164,228.9 164.5,249.6 164.5,176.6 165,198.7 165,233.9 165.5,221 165.5,202.1 166,172 166,222.4 166.5,234.9 166.5,195 167,200.6 167,223.5 167.5,232.5 167.5,188.7 168,198.8 168,231.5 168.5,227 168.5,197.5 169,194.2 169,224.6 169.5,222.3 169.5,186.8 170,191.8 170,230.8 170.5,226.3 170.5,189.2 171,185.1 171,216.9 171.5,226 171.5,182.5 172,161.6 172,233.9 172.5,212 172.5,187.4 173,183.3 173,213.5 173.5,219.9 173.5,190.6 174,189.1 174,217.8 174.5,213.6 174.5,185 175,190.3 175,224.3 175.5,224.4 175.5,191.5 176,192.5 176,225.4 176.5,225.7 176.5,193.4 177,204.5 177,238.6 177.5,233 177.5,211.2 178,203.4 178,237.1 178.5,232.7 178.5,204.4 179,202.2 179,239 179.5,229.7 179.5,197.6 180,206.5 180,252.2 180.5,235.3 180.5,200.9 181,203.5 181,235.3 181.5,230.7 181.5,197.4 182,197.9 182,238.8 182.5,221.5 182.5,192.3 183,165.9 183,221.3 183.5,226.7 183.5,188.1 184,182.7 184,213.3 184.5,223.4 184.5,195.5 185,197.3 185,214.4 185.5,228.8 185.5,189.5 186,196.8 186,219.9 186.5,239.6 186.5,196.1 187,198.4 187,225.5 187.5,228.3 187.5,191.8 188,183.9 188,219.5 188.5,223.7 188.5,186.3 189,189.6 189,223.3 189.5,216.5 189.5,178.8 190,185.4 190,203.8 190.5,219 190.5,177.1 191,179.2 191,215.7 191.5,210.6 191.5,189.3 192,172.7 192,214.4 192.5,222.2 192.5,190.7 193,190.6 193,222.4 193.5,236.3 193.5,183.6 194,186 194,216.5 194.5,211.4 194.5,188.1 195,187.4 195,210.1 195.5,207.8 195.5,192 196,188.5 196,212.7 196.5,227.6 196.5,178.7 197,188.3 197,210.4 197.5,219.6 197.5,192.8 198,186 198,224.8 198.5,233.5 198.5,187 199,194.6 199,237 199.5,245.4 199.5,184.1 200,201.9 200,231 200.5,231 200.5,200.4 201,180.5 201,223.9 201.5,226.2 201.5,195.7 202,193.1 202,224.7 202.5,213.9 202.5,189.1 203,189.8 203,239 203.5,217.3 203.5,197.9 204,193.9 204,216.2 204.5,221.5 204.5,188.2 205,188.6 205,223.7 205.5,220.6 205.5,196.5 206,193.5 206,216.8 206.5,233.1 206.5,186.1 207,186.1 207,217.6 207.5,210.9 207.5,195.5 208,192 208,221.5 208.5,234.5 208.5,183.6 209,185.7 209,217.2 209.5,219.2 209.5,186.6 210,184.5 210,212.1 210.5,218.9 210.5,180.2 211,180.1 211,214.3 211.5,217.1 211.5,190.3 212,180.2 212,217.6 212.5,213.9 212.5,175.6 213,192.9 213,209.7 213.5,220.1 213.5,180.2 214,176.7 214,216.8 214.5,208 214.5,186.7 215,162.2 215,224.2 215.5,210.5 215.5,182.6 216,167.9 216,206.8 216.5,197 216.5,172 217,169.2 217,202.7 217.5,208.3 217.5,143.6 218,170 218,200.9 218.5,190.9 218.5,167.4 219,175.5 219,204.8 219.5,197.2 219.5,175.4 220,170 220,205.2 220.5,193.4 220.5,163.4 221,151.5 221,192.1 221.5,186.2 221.5,168.9 222,161.3 222,186.8 222.5,188 222.5,156 223,161.4 223,185.7 223.5,198.7 223.5,159.3 224,157.2 224,185 224.5,179.5 224.5,147.2 225,152.4 225,178.1 225.5,174.6 225.5,155.6 226,148.9 226,177 226.5,183.3 226.5,147.8 227,147.4 227,173.5 227.5,178.1 227.5,129.9 228,149.7 228,181.9 228.5,177.7 228.5,157.8 229,150.6 229,189.2 229.5,180.3 229.5,151 230,153.4 230,184.6 230.5,175.5 230.5,160 231,161.1 231,183.2 231.5,180.2 231.5,152.4 232,139.8 232,184.5 232.5,189.2 232.5,145.6 233,154.1 233,186.5 233.5,195.6 233.5,156.4 234,152 234,185 234.5,187.2 234.5,148.6 235,153.3 235,182.8 235.5,175.9 235.5,150.4 236,151.7 236,188.2 236.5,184.6 236.5,156.9 237,160.6 237,202.9 237.5,186.9 237.5,156.6 238,156.6 238,184.6 238.5,178.2 238.5,159.4 239,158.1 239,186.7 239.5,201.2 239.5,155.5 240,154.9 240,190 240.5,178.6 240.5,153 241,142.6 241,183.8 241.5,185.7 241.5,166.3 242,154.5 242,187.5 242.5,189.4 242.5,154.5 243,152.3 243,178.4 243.5,189.5 243.5,154.6 244,152.7 244,183.5 244.5,191.4 244.5,153.2 245,165.9 245,190.4 245.5,186.3 245.5,167.3 246,161.9 246,194.1 246.5,187.3 246.5,156.9 247,161.4 247,182 247.5,182.7 247.5,161.3 248,156.7 248,187 248.5,189.9 248.5,160.3 249,147.2 249,183.9 249.5,190.7 249.5,158.3 250,158.3 250,180.7 250.5,199.2 250.5,158.7 251,145 251,193.1 251.5,192.3 251.5,168.2 252,168 252,190.5 252.5,194.1 252.5,172.8 253,164.5 253,191.3 253.5,191.4 253.5,165.7 254,155.6 254,193 254.5,189 254.5,160.2 255,149.6 255,187.7 255.5,180.4 255.5,156.7 256,146.5 256,177.9 256.5,181.4 256.5,136 257,154.1 257,186 257.5,182.1 257.5,137.6 258,149 258,175.4 258.5,185 258.5,149.9 259,150.6 259,188.3 259.5,188 259.5,155.6 260,157.1 260,203.7 260.5,187.7 260.5,155.3 261,147.1 261,182.6 261.5,173.7 261.5,149.9 262,131.5 262,170.6 262.5,157.5 262.5,124.7 263,123.8 263,147.8 263.5,158.3 263.5,99.5 264,118.4 264,157.7 264.5,143.9 264.5,118.4 265,118.3 265,155.4 265.5,155 265.5,123.8 266,124.3 266,153.9 266.5,156.9 266.5,134.4 267,127.9 267,155.9 267.5,162.4 267.5,125.3 268,129.5 268,159.8 268.5,169.3 268.5,132 269,127.6 269,176.2 269.5,167.9 269.5,134.5 270,149.6 270,170 270.5,176.8 270.5,149.9 271,144.9 271,181.5 271.5,172.3 271.5,144.5 272,144.6 272,172.1 272.5,181.5 272.5,138.2 273,132.3 273,173.7 273.5,177.1 273.5,145.9 274,135.8 274,177.9 274.5,190.4 274.5,143.2 275,144.1 275,170.6 275.5,171.9 275.5,137.3 276,155.9 276,186.8 276.5,185 276.5,155 277,149.9 277,191.1 277.5,187.2 277.5,145 278,120.8 278,178.1 278.5,184.1 278.5,140.6 279,142.2 279,207.4 279.5,179.6 279.5,146.1 280,153.2 280,202.6 280.5,192.5 280.5,143 281,146.8 281,192.3 281.5,188.3 281.5,149.2 282,138.5 282,183.1 282.5,186 282.5,149.3 283,147.5 283,190.5 283.5,198.1 283.5,156.3 284,151.3 284,194.5 284.5,203.7 284.5,154.3 285,169 285,198.2 285.5,203.4 285.5,161.5 286,165.8 286,205.1 286.5,196.3 286.5,166.6 287,164.8 287,194.4 287.5,184.4 287.5,164.7 288,154.3 288,185.6 288.5,198.9 288.5,154.4 289,151.3 289,190.6 289.5,195.4 289.5,130.4 290,170.9 290,202.7 290.5,211.1 290.5,168.9 291,151 291,210.8 291.5,204.2 291.5,147.1 292,155.1 292,193.7 292.5,188.2 292.5,147.4 293,148.9 293,191.4 293.5,182 293.5,159.6 294,147.8 294,184.8 294.5,192.1 294.5,144.1 295,141.5 295,188.1 295.5,193 295.5,148.5 296,126.5 296,176.8 296.5,187.8 296.5,134.7 297,128.9 297,183.2 297.5,171.4 297.5,125.9 298,138 298,171.5 298.5,190.2 298.5,144.1 299,130.8 299,200.1 299.5,190.1 299.5,91.9 300,125 300,179.3 300.5,192.2 300.5,125.4 301,142.3 301,191 301.5,177.8 301.5,124.9 302,144.4 302,171 302.5,185.4 302.5,137.5 303,122 303,175.9 303.5,175 303.5,140 304,110.7 304,185.2 304.5,177.2 304.5,120.9 305,116.4 305,172.5 305.5,186 305.5,115.1 306,116 306,181.9 306.5,181 306.5,129.3 307,107.8 307,168.6 307.5,189.3 307.5,134.5 308,131.6 308,180.3 308.5,203.2 308.5,135.4 309,119.3 309,177.5 309.5,222.4 309.5,125.6 310,149.7 310,199.1 310.5,209.3 310.5,141.8 311,136.2 311,189 311.5,191.9 311.5,152.1 312,150.6 312,218.5 312.5,220.8 312.5,139.7 313,134.8 313,197.9 313.5,186 313.5,150.5 314,125.6 314,190.8 314.5,178 314.5,132.1 315,142.6 315,171.8 315.5,197.8 315.5,134.4 316,117.8 316,174.5 316.5,181.1 316.5,123.7 317,137.9 317,175.4 317.5,192.3 317.5,113.7 318,128.1 318,190.2 318.5,194.2 318.5,114.1 319,133.6 319,182.4 319.5,193.7 319.5,142.2 320,120.4 320,197.4 320.5,201.3 320.5,140.8 321,125.2 321,183.9 321.5,194.8 321.5,134.2 322,130 322,200.2 322.5,190.8 322.5,145.7 323,135.8 323,206.2 323.5,203.7 323.5,134.7 324,139.4 324,209.3 324.5,206 324.5,130.7 325,127.3 325,193.2 325.5,179.1 325.5,132.4 326,117.6 326,178.9 326.5,184.4 326.5,89.4 327,116.5 327,231.8 327.5,176.5 327.5,139.5 328,110 328,194.4 328.5,177.1 328.5,138.4 329,139.8 329,184.5 329.5,190.8 329.5,118.8 330,107.7 330,175.8 330.5,206.2 330.5,117.8 331,110.3 331,174.4 331.5,190.9 331.5,118.5 332,127.4 332,212.8 332.5,190.8 332.5,134.1 333,137.2 333,186.8 333.5,187.5 333.5,110.9 334,108.1 334,186.7 334.5,175 334.5,108.6 335,126.7 335,171.2 335.5,212.4 335.5,95.9 336,126.8 336,192.1 336.5,185.7 336.5,121.8 337,132.7 337,192.3 337.5,201.1 337.5,152.2 338,147.1 338,208.6 338.5,185.6 338.5,135.4 339,146.7 339,203.1 339.5,183.6 339.5,144.9 340,152.8 340,200.1 340.5,197 340.5,136.7 341,122.5 341,179.9 341.5,191.5 341.5,130.1 342,114.8 342,193.9 342.5,192.1 342.5,122 343,127.8 343,198.3 343.5,195.5 343.5,131.3 344,154.6 344,195.1 344.5,209.2 344.5,141.4 345,152.2 345,193 345.5,188.2 345.5,128.2 346,150.1 346,194.9 346.5,194.9 346.5,151.6 347,131.6 347,186.5 347.5,197.6 347.5,132 348,134.7 348,179.8 348.5,174.7 348.5,119.8 349,136.3 349,183 349.5,178.2 349.5,137.1 350,147 350,191.4 350.5,188.5 350.5,152.6 351,160.2 351,194.1 351.5,203.4 351.5,155.4 352,164.1 352,204 352.5,190.8 352.5,161.8 353,165.3 353,208.5 353.5,203.1 353.5,154.6 354,166.2 354,202 354.5,228.1 354.5,178.5 355,184.5 355,216.2 355.5,248 355.5,176.5 356,174.4 356,223.5 356.5,224.8 356.5,169.4 357,181.8 357,219.2 357.5,214.3 357.5,183.7 358,182.7 358,221.1 358.5,206.4 358.5,156.6 359,167.6 359,199.4 359.5,197.8 359.5,153.9 360,172 360,193.7 360.5,199.2 360.5,164 361,172.3 361,198.9 361.5,210.3 361.5,173.1 362,172.5 362,210.5 362.5,212.7 362.5,171.2 363,174.9 363,213.2 363.5,203.9 363.5,183.5 364,174 364,201.8 364.5,219.1 364.5,175.8 365,170.4 365,203 365.5,198.8 365.5,152.7 366,153 366,187.7 366.5,185.4 366.5,160.3 367,151.5 367,190.6 367.5,189 367.5,125.9 368,150.8 368,212.7 368.5,192.4 368.5,163.3 369,146.5 369,195.2 369.5,197.4 369.5,159.5 370,159.3 370,190.7 370.5,190.6 370.5,165.4 371,170.8 371,203 371.5,192.2 371.5,159.8 372,170.8 372,206.9 372.5,196.5 372.5,177.4 373,174 373,202.1 373.5,214.2 373.5,175.9 374,182.8 374,216.1 374.5,203.4 374.5,175.1 375,178.8 375,206.4 375.5,221.6 375.5,158.7 376,178.4 376,213.9 376.5,214 376.5,178.6 377,170.5 377,222.5 377.5,220.2 377.5,180.1 378,173.8 378,217.6 378.5,204.6 378.5,155.5 379,183.3 379,215.6 379.5,206 379.5,178.9 380,175.9 380,205.6 380.5,198.8 380.5,174.2 381,162.9 381,214.4 381.5,208.4 381.5,173.6 382,168.7 382,209.8 382.5,200.8 382.5,175.4 383,175.8 383,210.6 383.5,205.4 383.5,178 384,181.7 384,213.5 384.5,220.1 384.5,193.5 385,189.4 385,213.5 385.5,226.7 385.5,184 386,188.2 386,210.9 386.5,224 386.5,176.3 387,173.9 387,212.1 387.5,206.2 387.5,179.4 388,173.3 388,205.2 388.5,209.4 388.5,174.9 389,178.8 389,219.6 389.5,223.2 389.5,183.9 390,198.4 390,242 390.5,217.8 390.5,192.8 391,193.9 391,222.8 391.5,213.4 391.5,193.6 392,192.1 392,212.7 392.5,213.9 392.5,188.5 393,182.6 393,220.8 393.5,210.4 393.5,193.8 394,191.2 394,212.6 394.5,219.9 394.5,182.6 395,184.5 395,208.7 395.5,207.8 395.5,182.4 396,181.5 396,210.5 396.5,215 396.5,182.9 397,190.6 397,220.6 397.5,208.4 397.5,186.4 398,185.7 398,214.8 398.5,207.2 398.5,193.2 399,179 399,221 399.5,214.3 399.5,186.2 400,189.5 400,218.7 400.5,214.5 400.5,185.9 401,198.7 401,219.3 401.5,226 401.5,201.2 402,189.8 402,217.5 402.5,219.6 402.5,191.8 403,202.9 403,220.6 403.5,246.3 403.5,192.3 404,193 404,226.8 404.5,223.6 404.5,198.2 405,184.8 405,231.4 405.5,217.1 405.5,191.4 406,192 406,223.8 406.5,221 406.5,198.9 407,203 407,236.3 407.5,231.3 407.5,203.5 408,201.8 408,221.7 408.5,229 408.5,200.8 409,201.1 409,219.4 409.5,227.3 409.5,196.8 410,197.1 410,215.5 410.5,221.4 410.5,190 411,188.6 411,216.3 411.5,217.5 411.5,188.1 412,186.9 412,214.2 412.5,207.5 412.5,181 413,183.3 413,212.9 413.5,222.5 413.5,183.2 414,195.5 414,211.5 414.5,217.7 414.5,189.4 415,195.8 415,217.3 415.5,215.2 415.5,184.8 416,189.7 416,211.8 416.5,210.9 416.5,179.8 417,187.2 417,208.2 417.5,208 417.5,179.1 418,190.2 418,204.6 418.5,215.5 418.5,189.6 419,191.9 419,219.9 419.5,214.2 419.5,185 420,188.2 420,215.9 420.5,228.5 420.5,196 421,196.8 421,220.1 421.5,222.7 421.5,193.1 422,193.7 422,230.6 422.5,216.4 422.5,164.6 423,188.1 423,214.7 423.5,214.4 423.5,176.3 424,188.7 424,212 424.5,231.6 424.5,182.3 425,167.2 425,219.6 425.5,213.2 425.5,184 426,193.1 426,210.8 426.5,211.1 426.5,190.9 427,182.4 427,224.7 427.5,217.5 427.5,192 428,190.4 428,219.2 428.5,209.8 428.5,186.4 429,180.7 429,214.9 429.5,216.8 429.5,185.8 430,193.4 430,216.8 430.5,222.3 430.5,195.5 431,184.8 431,216.4 431.5,221.6 431.5,195.6 432,187.5 432,227.5 432.5,217.1 432.5,193.8 433,177.3 433,206.1 433.5,206.6 433.5,178.3 434,173.9 434,197.9 434.5,203.3 434.5,175.7 435,181.9 435,201.5 435.5,219.8 435.5,185.9 436,175.4 436,230.2 436.5,221.7 436.5,198.8 437,204.4 437,234.5 437.5,228.4 437.5,207.3 438,196.6 438,229.1 438.5,232.1 438.5,204.2 439,199.5 439,225.1 439.5,221.7 439.5,196.8 440,200.3 440,233.9 440.5,220.1 440.5,191.9 441,201.4 441,218.8 441.5,227.4 441.5,192.7 442,204.2 442,224.5 442.5,231.1 442.5,203.8 443,196 443,223.9 443.5,227.9 443.5,181.2 444,195.3 444,231.6 444.5,214.5 444.5,188.3 445,190 445,218.4 445.5,224.2 445.5,188 446,187.3 446,217.8 446.5,233.9 446.5,185 447,183.3 447,212.6 447.5,210.7 447.5,180.4 448,181.4 448,209.6 448.5,209.2 448.5,189.7 449,173.7 449,207 449.5,230.5 449.5,185.7 450,190.6 450,215 450.5,238.6 450.5,192.3 451,195.7 451,221.4 451.5,215.2 451.5,197.7 452,186.6 452,216.4 452.5,214.1 452.5,193.5 453,198.4 453,222.3 453.5,234.8 453.5,194.9 454,187.9 454,222.7 454.5,222.9 454.5,203.6 455,190.9 455,222.9 455.5,229.5 455.5,201.7 456,202.4 456,223 456.5,218.6 456.5,187.4 457,196.8 457,215.8 457.5,217.4 457.5,186.6 458,196.7 458,215.9 458.5,222.1 458.5,194.9 459,184.6 459,221.8 459.5,226.4 459.5,192.3 460,173.6 460,215.8 460.5,223.1 460.5,177.9 461,181.2 461,215.3 461.5,217.1 461.5,183.3 462,173 462,206.3 462.5,198.2 462.5,182.7 463,180.8 463,220.6 463.5,202.2 463.5,184.1 464,174.8 464,210.1 464.5,209.7 464.5,183.5 465,179.5 465,204.8 465.5,208.2 465.5,177.6 466,183 466,209.6 466.5,206 466.5,177.9 467,174.4 467,201 467.5,215.1 467.5,168.8 468,174.9 468,206.1 468.5,194.2 468.5,175.1 469,175.1 469,195.7 469.5,204.7 469.5,173 470,165.7 470,195.7 470.5,211.1 470.5,177.3 471,174.4 471,201.6 471.5,198.3 471.5,172.9 472,172.6 472,204.2 472.5,206.4 472.5,173.4 473,181.1 473,198.4 473.5,209.9 473.5,174.7 474,182.6 474,213.7 474.5,204 474.5,165.7 475,176.1 475,209.7 475.5,204.3 475.5,186 476,177.1 476,210.2 476.5,210.2 476.5,181.6 477,179.6 477,211.3 477.5,215.4 477.5,179.2 478,180.2 478,208.2 478.5,216 478.5,188.4 479,171.5 479,207.3 479.5,213.9 479.5,178.1 480,179.8 480,210.3 480.5,229.7 480.5,183.6 481,174.3 481,208.3 481.5,211.2 481.5,173.7 482,172.3 482,200.2 482.5,201.7 482.5,163.3 483,182.6 483,207 483.5,210.9 483.5,187 484,185.7 484,211 484.5,221 484.5,185.4 485,190.8 485,218.9 485.5,229.9 485.5,199.5 486,199.4 486,232.4 486.5,220.6 486.5,196.2 487,196.9 487,229.1 487.5,231.4 487.5,193 488,195.8 488,218.6 488.5,227.6 488.5,194 489,195.5 489,226 489.5,226.3 489.5,184 490,194 490,224.2 490.5,231.3 490.5,201.1 491,181.2 491,224.2 491.5,223.8 491.5,194.3 492,189 492,240.1 492.5,250.4 492.5,199.1 493,200.4 493,227.2 493.5,223.6 493.5,183.3 494,199.3 494,227.3 494.5,231.7 494.5,206 495,196 495,225.6 495.5,223.2 495.5,187.5 496,186.8 496,221.9 496.5,212.8 496.5,194 497,182.7 497,218.8 497.5,219.4 497.5,185.1 498,185.5 498,212.3 498.5,213.7 498.5,183 499,179.9 499,217.6 499.5,214 499.5,188 500,190.9 500,217.4 500.5,204.8 500.5,176 501,188.6 501,214.6 501.5,215.6 501.5,185.3 502,180.6 502,217.3 502.5,218.5 502.5,191.9 503,191.7 503,221.3 503.5,228.1 503.5,201.4 504,200.9 504,223.1 504.5,219 504.5,195.7 505,193.3 505,225.3 505.5,226.7 505.5,195.2 506,198.3 506,220.8 506.5,216.8 506.5,188.2 507,190 507,225.2 507.5,224.1 507.5,190.4 508,188.7 508,223.6 508.5,213.5 508.5,196.9 509,192.4 509,221 509.5,225.8 509.5,190.7 510,189.3 510,219.3 510.5,214.4 510.5,194.3 511,185.6 511,210.9 511.5,216.9 511.5,193.7 512,185.4 512,215.6 512.5,214.3 512.5,192.6 513,192.7 513,221.7 513.5,214.6 513.5,197.4 514,185.2 514,223.4 514.5,210.8 514.5,188.8 515,189 515,217.5 515.5,208.1 515.5,177.6 516,186.7 516,206.1 516.5,212.3 516.5,177.8 517,184.1 517,209.3 517.5,205.4 517.5,165 518,187.3 518,216.9 518.5,214.4 518.5,180.7 519,187 519,215.2 519.5,228.5 519.5,187.1 520,178.9 520,232.2 520.5,212.3 520.5,179.3 521,174.8 521,202.7 521.5,211.6 521.5,174.8 522,168.9 522,204.9 522.5,198.3 522.5,174.1 523,166.4 523,202.3 523.5,189.9 523.5,172 524,147 524,189.4 524.5,190.6 524.5,154.7 525,165.5 525,194.8 525.5,190.2 525.5,163.5 526,168.8 526,198.7 526.5,193 526.5,160.3 527,164.3 527,188.6 527.5,184.3 527.5,142 528,145.3 528,175.9 528.5,174.8 528.5,138.3 529,137 529,163.8 529.5,160.3 529.5,136.2 530,119.1 530,160.5 530.5,162 530.5,125.6 531,127.6 531,158 531.5,169.7 531.5,140.2 532,131.9 532,167.7 532.5,180.1 532.5,134.1 533,135.7 533,167.2 533.5,173.2 533.5,138.9 534,135.8 534,172.8 534.5,164.3 534.5,125.7 535,119.5 535,154.1 535.5,161.3 535.5,121.6 536,118 536,148.7 536.5,156.5 536.5,113.7 537,123.9 537,159.6 537.5,163.3 537.5,130.2 538,124.8 538,170.1 538.5,165.6 538.5,131.9 539,140.4 539,173.7 539.5,181.1 539.5,133.3 540,134.6 540,172.8 540.5,171.2 540.5,145.3 541,134.1 541,170.6 541.5,156.4 541.5,127.3 542,120.8 542,167.8 542.5,158.1 542.5,122.1 543,108.4 543,163.1 543.5,152.6 543.5,118.2 544,106.6 544,160.5 544.5,164.2 544.5,123 545,133.5 545,190 545.5,170.6 545.5,123.4 546,134.5 546,174.9 546.5,184.5 546.5,141 547,152.4 547,177.8 547.5,207.2 547.5,151.7 548,144.3 548,192.5 548.5,186.2 548.5,154.6 549,159 549,196.6 549.5,178.1 549.5,151.7 550,145.3 550,186.1 550.5,171.8 550.5,116.9 551,137.7 551,172.9 551.5,162.8 551.5,135.3 552,146 552,173.2 552.5,194 552.5,141.9 553,150.4 553,177.3 553.5,200.2 553.5,144.9 554,148.3 554,192.3 554.5,189.3 554.5,153 555,144.5 555,188.4 555.5,181 555.5,155.6 556,153.8 556,179.1 556.5,193.5 556.5,156.6 557,162.7 557,185.6 557.5,193.9 557.5,158.6 558,162.5 558,189.9 558.5,208.6 558.5,161.5 559,162.4 559,180 559.5,195.2 559.5,148.1 560,161.2 560,197.7 560.5,198.6 560.5,164.9 561,166.9 561,195.2 561.5,197.9 561.5,176.4 562,175.9 562,211 562.5,202.8 562.5,179.2 563,166.7 563,209 563.5,212.3 563.5,178.6 564,169.9 564,199 564.5,194.7 564.5,170.5 565,175.3 565,192.2 565.5,196.5 565.5,160.9 566,164 566,200.8 566.5,198.2 566.5,161.1 567,155.9 567,204.1 567.5,181 567.5,161 568,158 568,183.2 568.5,180.5 568.5,160.8 569,148.8 569,180.5 569.5,181 569.5,157.7 570,151.9 570,181.1 570.5,190.6 570.5,138.9 571,162.9 571,201.3 571.5,191.4 571.5,161.2 572,168.1 572,191.3 572.5,200 572.5,164.7 573,166.9 573,191.5 573.5,187.6 573.5,155.3 574,156.7 574,186.8 574.5,183.4 574.5,150.2 575,158.4 575,182.7 575.5,182.1 575.5,157.9 576,160.8 576,179.3 576.5,185.5 576.5,151.4 577,144.7 577,194.6 577.5,189.6 577.5,156 578,141.8 578,188.7 578.5,181.6 578.5,150.1 579,139.3 579,183.7 579.5,173 579.5,120.8 580,149.3 580,171.6 580.5,181.1 580.5,144.2 581,129.1 581,174.2 581.5,178.4 581.5,147 582,145 582,181.2 582.5,181.2 582.5,148.5 583,144.8 583,178.3 583.5,177.4 583.5,145.4 584,150.6 584,172.3 584.5,185.3 584.5,153 585,148.5 585,183.8 585.5,176.1 585.5,146 586,157.8 586,191.7 586.5,187.4 586.5,154.8 587,149.2 587,206.4 587.5,193.3 587.5,162.7 588,177 588,192.6 588.5,204.1 588.5,164.1 589,164.2 589,200.4 589.5,188.7 589.5,159.8 590,151.7 590,189.6 590.5,172.3 590.5,154.8 591,143.6 591,170.6 591.5,183.2 591.5,149.6 592,145.9 592,185 592.5,185.5 592.5,155.3 593,151.5 593,185.3 593.5,196.1 593.5,157.2 594,169.7 594,188.6 594.5,195.7 594.5,175.5 595,156.6 595,203.4 595.5,192.8 595.5,168.1 596,165.6 596,207.5 596.5,192.9 596.5,160.6 597,159.5 597,193.2 597.5,184.6 597.5,159.4 598,141 598,189.1 598.5,187.5 598.5,144.9 599,151.9 599,174.9 599.5,176.9 599.5,153.2 600,143.1 600,184.9 600.5,182.1 600.5,149 601,140 601,207.1 601.5,183.7 601.5,159.6 602,152.7 602,191.5 602.5,190 602.5,152.6 603,147 603,186.2 603.5,185.1 603.5,143 604,130.3 604,176.5 604.5,179 604.5,144.7 605,137.7 605,185.6 605.5,187.8 605.5,159.9 606,149.4 606,189.2 606.5,185.9 606.5,144.5 607,163.3 607,192.4 607.5,200 607.5,153.1 608,177.1 608,208 608.5,222 608.5,174.7 609,182.6 609,215.5 609.5,208.8 609.5,187.4 610,187.5 610,217.8 610.5,211.7 610.5,184.8 611,196.1 611,210.6 611.5,220.4 611.5,198.3 612,198.4 612,211 612.5,214.8 612.5,188.2 613,196.6 613,217.4 613.5,215.6 613.5,198 614,200.6 614,218.7 614.5,227.8 614.5,200.6 615,200.8 615,219.2 615.5,220.9 615.5,202.9 616,205.9 616,233.5 616.5,224.1 616.5,202.3 617,210.6 617,232.7 617.5,225.6 617.5,203.2 618,210.5 618,223.8 618.5,225.1 618.5,205.1 619,208.2 619,222.9 619.5,225.2 619.5,203.4 620,203.5 620,220.4 620.5,222.8 620.5,203.9 621,210 621,223.8 621.5,241.6 621.5,212.9 622,208.7 622,229.1 622.5,232.9 622.5,209.9 623,211.7 623,229.2 623.5,232.1 623.5,203.1 624,210.4 624,229.9 624.5,231.2 624.5,206.2 625,213.8 625,225.9 625.5,232.5 625.5,209.8 626,207.8 626,226.6 626.5,231.1 626.5,215.1 627,210.1 627,230.7 627.5,229.1 627.5,210.2 628,216 628,227.5 628.5,227.2 628.5,215.4 629,214.4 629,226.7 629.5,230.9 629.5,208.7 630,208.4 630,230 630.5,224.8 630.5,203.8 631,211.2 631,223.2 631.5,222.2 631.5,205.7 632,204.9 632,226.5 632.5,227.1 632.5,206.7 633,205.7 633,227.7 633.5,223.5 633.5,204.7 634,207.9 634,225.4 634.5,220.4 634.5,207.1 635,197.1 635,218.4 635.5,223.1 635.5,202.7 636,207.2 636,221.7 636.5,223.6 636.5,204.3 637,211.3 637,222.2 637.5,227.3 637.5,199.3 638,205.2 638,228.4 638.5,226.1 638.5,206.7 639,204 639,220 639.5,220.2 639.5,203 640,205.8 640,219.1 640.5,225.1 640.5,202.2 641,204.6 641,220 641.5,217.3 641.5,203.8 642,197.8 642,221.2 642.5,214.8 642.5,204.6 643,201.5 643,211.9 643.5,222.4 643.5,196.7 644,198.9 644,208.5 644.5,210.8 644.5,194.3 645,196.9 645,215.6 645.5,208.8 645.5,192.8 646,193.9 646,210.6 646.5,212.9 646.5,191.4 647,198 647,210.3 647.5,211.2 647.5,194.7 648,198.8 648,216 648.5,223.3 648.5,202.5 649,194.1 649,216.2 649.5,223.7 649.5,204.8 650,201.6 650,218 650.5,219.8 650.5,199.8 651,203.9 651,218.1 651.5,227.7 651.5,202.2 652,202.9 652,219.3 652.5,220.8 652.5,197.9 653,201 653,213.8 653.5,230.3 653.5,197.9 654,190.5 654,215.8 654.5,209 654.5,193.1 655,194.3 655,209.7 655.5,215.9 655.5,189.4 656,198.2 656,212.7 656.5,211.5 656.5,191.8 657,192.6 657,218.4 657.5,216.1 657.5,197.3 658,200.8 658,220.8 658.5,224.4 658.5,200.4 659,191.9 659,214.6 659.5,222.3 659.5,193.4 660,190.2 660,215.6 660.5,221.1 660.5,199.8 661,197.6 661,223.7 661.5,223 661.5,193.3 662,195.1 662,221.3 662.5,218.2 662.5,195.1 663,197.8 663,219.9 663.5,213.9 663.5,185.7 664,193.1 664,217.4 664.5,215.5 664.5,185.2 665,186.3 665,207.7 665.5,207 665.5,184.7 666,186.4 666,217.1 666.5,216.4 666.5,192.1 667,192.4 667,219.3 667.5,220.9 667.5,199.2 668,191.2 668,219.2 668.5,216.3 668.5,198.9 669,203.2 669,234.2 669.5,223 669.5,206.6 670,204.9 670,227.3 670.5,220.7 670.5,206.6 671,203.5 671,230.2 671.5,221.5 671.5,180.1 672,192.2 672,221.7 672.5,222.4 672.5,189.6 673,188.8 673,208.2 673.5,210.3 673.5,182.9 674,184.5 674,206.4 674.5,204.8 674.5,182 675,191.1 675,219.6 675.5,207.9 675.5,175.6 676,195.5 676,211.2 676.5,222.1 676.5,194.2 677,199 677,220.9 677.5,238.9 677.5,194.1 678,197.4 678,228.9 678.5,219.6 678.5,192.5 679,195.5 679,227.2 679.5,224.1 679.5,196 680,204.4 680,217.6 680.5,223.9 680.5,207 681,200.8 681,234 681.5,232.3 681.5,200.6 682,182.7 682,232.1 682.5,231.7 682.5,197.7 683,197.6 683,233.5 683.5,226.5 683.5,188.4 684,198 684,220.8 684.5,220.7 684.5,203.5 685,197.9 685,230.1 685.5,228.5 685.5,201.5 686,205.5 686,238.9 686.5,239.5 686.5,211.8 687,189.5 687,234.2 687.5,234.9 687.5,206 688,204.4 688,228.7 688.5,237.7 688.5,206.7 689,204.7 689,232.7 689.5,235.9 689.5,204 690,201.1 690,227.2 690.5,228 690.5,204 691,181.7 691,215.7 691.5,224.7 691.5,193.9 692,171.7 692,220.3 692.5,229.7 692.5,184.7 693,196.1 693,219.8 693.5,233.7 693.5,201 694,200.9 694,225.8 694.5,231.5 694.5,195 695,196.7 695,225 695.5,220.6 695.5,192.8 696,190.2 696,219.2 696.5,225.9 696.5,197.4 697,187 697,213.9 697.5,214.8 697.5,186.4 698,187.5 698,218.7 698.5,220.9 698.5,196.2 699,196.8 699,214 699.5,227.2 699.5,194.5 700,199.5 700,219.7 700.5,220.1 700.5,195.7 701,195.8 701,219.9 701.5,230.7 701.5,199 702,181.1 702,226.2 702.5,222.1 702.5,196.4 703,193.7 703,231.2 703.5,219.7 703.5,188.8 704,192 704,219.3 704.5,222 704.5,199 705,193.4 705,224.8 705.5,231.2 705.5,193.1 706,191.3 706,227.5" /><polyline fill="none" stroke="#0000ff" stroke-width="0.8" stroke-linejoin="round" points="88.5,241.9 88.5,228.5 89,222.3 89,241.8 89.5,247.7 89.5,229.5 90,224.2 90,257.7 90.5,254.1 90.5,228.8 91,230.8 91,248.3 91.5,259.9 91.5,234.6 92,237.9 92,262.4 92.5,257 92.5,241.4 93,236.1 93,254 93.5,262.2 93.5,237.8 94,232.2 94,259.9 94.5,259.2 94.5,238.9 95,237 95,250.3 95.5,246 95.5,211.6 96,223.5 96,246.6 96.5,253 96.5,224.7 97,227.7 97,251.7 97.5,255.5 97.5,234 98,235.9 98,250.1 98.5,252.4 98.5,232.4 99,226.2 99,255.1 99.5,257 99.5,232.8 100,223 100,249.6 100.5,245.8 100.5,217.9 101,213.6 101,244.7 101.5,241.4 101.5,212.2 102,212 102,242.2 102.5,242.1 102.5,211.3 103,214.7 103,245 103.5,245.4 103.5,213.9 104,207.7 104,240.8 104.5,229.1 104.5,205.6 105,211.5 105,230.1 105.5,233.1 105.5,205.7 106,206.1 106,225 106.5,230.4 106.5,211.1 107,200.3 107,231.4 107.5,237.5 107.5,211.9 108,200.7 108,240.7 108.5,238.9 108.5,207.3 109,211.5 109,244.8 109.5,232.5 109.5,214 110,214.6 110,253.3 110.5,238.8 110.5,201 111,192.9 111,229.9 111.5,236.1 111.5,193.3 112,183.6 112,218.3 112.5,217.7 112.5,203.3 113,203.3 113,221.4 113.5,222.1 113.5,202 114,201.4 114,229 114.5,229.6 114.5,193.2 115,208.4 115,234.4 115.5,231.7 115.5,202.8 116,183.5 116,232.7 116.5,230.9 116.5,195.3 117,214.1 117,230 117.5,240.1 117.5,215.2 118,217.5 118,252.2 118.5,247.7 118.5,220.5 119,211.9 119,243.5 119.5,234.1 119.5,210.8 120,195.8 120,238.9 120.5,233.1 120.5,213.3 121,197.6 121,231 121.5,236 121.5,208.5 122,210.2 122,242.9 122.5,230.9 122.5,205.3 123,213.7 123,241.6 123.5,232.3 123.5,201.7 124,208.4 124,228.6 124.5,236 124.5,209.2 125,207.3 125,243.3 125.5,224.4 125.5,200.1 126,209.7 126,236.3 126.5,238.6 126.5,205.2 127,202.3 127,239.5 127.5,242.1 127.5,212.2 128,206.7 128,239.4 128.5,244.7 128.5,202.9 129,208.2 129,236.7 129.5,234.9 129.5,201.7 130,208.8 130,227.6 130.5,231.1 130.5,198.1 131,198.2 131,233.5 131.5,228.5 131.5,199.7 132,208.8 132,247.3 132.5,230.3 132.5,216.1 133,214.2 133,237.3 133.5,233.2 133.5,213.6 134,215.7 134,238.5 134.5,242.2 134.5,211.9 135,213.5 135,235.8 135.5,246 135.5,219.8 136,215.4 136,235.6 136.5,233.6 136.5,207.9 137,207.7 137,237.5 137.5,238 137.5,202.9 138,199.3 138,224.3 138.5,231 138.5,202.3 139,200.6 139,228.8 139.5,227.8 139.5,205.5 140,213.7 140,236.1 140.5,237.4 140.5,218.7 141,214.4 141,238.5 141.5,244.8 141.5,210.8 142,208.8 142,239.5 142.5,241.2 142.5,208.4 143,211.9 143,230.3 143.5,242 143.5,192.3 144,212.9 144,233.8 144.5,239.3 144.5,210.5 145,218.7 145,235.5 145.5,239.1 145.5,219.1 146,216.9 146,243.9 146.5,248.2 146.5,215.6 147,216.9 147,256.4 147.5,244.4 147.5,225.1 148,224.3 148,240.7 148.5,257.7 148.5,222.3 149,220.8 149,254.6 149.5,237.6 149.5,222.4 150,212.1 150,244.8 150.5,252.2 150.5,217.8 151,224.4 151,238.5 151.5,238.3 151.5,221.9 152,222.5 152,248.7 152.5,258 152.5,220.6 153,220.6 153,242.4 153.5,245.3 153.5,227.2 154,223.2 154,246.6 154.5,239.2 154.5,213.3 155,215.8 155,241.7 155.5,230.3 155.5,211.8 156,205.7 156,235.2 156.5,231 156.5,198.9 157,217.4 157,237.8 157.5,230.9 157.5,213.4 158,203.4 158,256.4 158.5,237.6 158.5,218.8 159,217.2 159,239.9 159.5,236.8 159.5,215.1 160,216.3 160,238.8 160.5,235.2 160.5,207.5 161,215.3 161,226.5 161.5,234.8 161.5,203.5 162,206.1 162,225.8 162.5,232 162.5,210.1 163,212.9 163,227.6 163.5,233.1 163.5,211 164,204.4 164,233.9 164.5,227.4 164.5,212.1 165,202.8 165,242.5 165.5,230.2 165.5,216.7 166,211.5 166,237.4 166.5,231.7 166.5,216.8 167,217.7 167,235.8 167.5,233.1 167.5,220.8 168,220.5 168,239.7 168.5,237.2 168.5,220.8 169,202.9 169,239.3 169.5,244.3 169.5,217.2 170,213.1 170,242.5 170.5,236 170.5,220.5 171,219.3 171,239 171.5,241.1 171.5,215.3 172,217.7 172,239.1 172.5,236.3 172.5,206.5 173,218.5 173,239 173.5,237.3 173.5,223.9 174,213 174,235.1 174.5,233.4 174.5,212 175,213.7 175,231.9 175.5,239.3 175.5,216.9 176,218.4 176,235.8 176.5,240 176.5,220 177,222.9 177,242.2 177.5,244.9 177.5,226.2 178,228 178,243.6 178.5,252.8 178.5,224.2 179,223.4 179,239 179.5,241.2 179.5,224.1 180,219.9 180,240.5 180.5,236 180.5,213 181,218.9 181,232.9 181.5,234.1 181.5,211.8 182,218 182,233.9 182.5,238.7 182.5,215.3 183,214.3 183,234.1 183.5,238.9 183.5,219.3 184,212.5 184,232.3 184.5,239.5 184.5,220 185,218.9 185,239.8 185.5,241.8 185.5,217.9 186,215.3 186,241 186.5,242.1 186.5,216.3 187,222 187,242.6 187.5,244 187.5,206 188,223.4 188,248.6 188.5,254 188.5,222.3 189,223 189,238.1 189.5,240.6 189.5,221.1 190,222 190,244.6 190.5,241 190.5,215.5 191,221.1 191,241.8 191.5,241.6 191.5,215 192,213.6 192,238.3 192.5,237.4 192.5,213.8 193,212.7 193,233.7 193.5,237 193.5,213.4 194,216.9 194,236.6 194.5,229.8 194.5,214.2 195,211.1 195,228.3 195.5,237.3 195.5,213.7 196,210.7 196,228 196.5,236 196.5,211.1 197,213 197,234.8 197.5,246.1 197.5,217.6 198,216.5 198,234.8 198.5,234.9 198.5,211.4 199,216.3 199,231.3 199.5,234.6 199.5,213.8 200,217 200,236.9 200.5,229.5 200.5,212.9 201,208 201,240.1 201.5,228 201.5,209.5 202,206.7 202,231.2 202.5,233.6 202.5,206.9 203,211.2 203,233 203.5,228.9 203.5,215.1 204,201.7 204,233.1 204.5,237.7 204.5,211.1 205,204 205,242.1 205.5,242.3 205.5,222.8 206,219.9 206,246 206.5,242.4 206.5,223.2 207,225.3 207,242.2 207.5,249.6 207.5,210.2 208,214.5 208,248.5 208.5,232 208.5,213.7 209,212.4 209,243.8 209.5,236.2 209.5,215.2 210,208.1 210,236 210.5,231.2 210.5,215.8 211,212.8 211,237.7 211.5,236 211.5,215.1 212,221.7 212,233.4 212.5,237.8 212.5,218.7 213,210.4 213,234.7 213.5,248.6 213.5,216.2 214,212.4 214,240.5 214.5,232.3 214.5,205.1 215,209.6 215,229 215.5,235.4 215.5,212 216,209.9 216,226.2 216.5,227.3 216.5,210.2 217,202.3 217,229.5 217.5,223.8 217.5,201.4 218,202.5 218,223.5 218.5,231.5 218.5,206.4 219,208 219,225.1 219.5,230.3 219.5,211.1 220,210.8 220,234.1 220.5,240.5 220.5,213.7 221,217.4 221,237.7 221.5,240.2 221.5,217.3 222,213.7 222,243.2 222.5,243.9 222.5,219.1 223,214.6 223,238 223.5,238 223.5,216.3 224,211.8 224,235.9 224.5,233.3 224.5,212.2 225,211.1 225,225.9 225.5,222.9 225.5,203.3 226,205.5 226,222.8 226.5,228.9 226.5,204.1 227,206.2 227,233.7 227.5,226.9 227.5,204.2 228,205.7 228,230 228.5,231.3 228.5,203.4 229,205 229,221.6 229.5,222.8 229.5,190.5 230,201.4 230,229.5 230.5,225.4 230.5,203.2 231,199.4 231,223.2 231.5,223.9 231.5,207.1 232,204.8 232,223.3 232.5,221.5 232.5,198.4 233,193.2 233,217.8 233.5,211 233.5,192.8 234,189.7 234,212.4 234.5,215 234.5,187.8 235,199.4 235,219.7 235.5,223.8 235.5,203.2 236,197.1 236,229.1 236.5,224.4 236.5,191.4 237,212.1 237,224.7 237.5,240.4 237.5,208.1 238,205.8 238,230.3 238.5,226.2 238.5,204.7 239,195.6 239,220.3 239.5,219.5 239.5,201.6 240,199 240,224.8 240.5,218.9 240.5,200.1 241,188.4 241,210.1 241.5,220.6 241.5,189.6 242,191.9 242,210.9 242.5,213.3 242.5,182.4 243,186.6 243,203.2 243.5,207.4 243.5,169.1 244,179.1 244,215.6 244.5,224 244.5,191.5 245,179.5 245,214.9 245.5,211.7 245.5,168.2 246,169.5 246,208.2 246.5,203.1 246.5,185.1 247,177.7 247,202.6 247.5,199.8 247.5,180.1 248,166 248,198.2 248.5,202.9 248.5,168.9 249,164.6 249,197.5 249.5,202.6 249.5,166.3 250,172.1 250,198.3 250.5,205.2 250.5,174.2 251,173.6 251,217.8 251.5,209.2 251.5,187.4 252,187.8 252,208.2 252.5,206.4 252.5,182.8 253,186.5 253,204.1 253.5,205.2 253.5,177.3 254,157.6 254,203 254.5,200.7 254.5,172.7 255,169.6 255,197.1 255.5,194 255.5,157.1 256,149.4 256,188.9 256.5,179.2 256.5,153.5 257,137 257,166.9 257.5,175.9 257.5,120.2 258,139.5 258,171.9 258.5,173.5 258.5,141.5 259,127.9 259,171 259.5,160.5 259.5,127.4 260,140.4 260,177.6 260.5,179.1 260.5,141.4 261,139.9 261,188.5 261.5,187.1 261.5,147.8 262,146.3 262,182.5 262.5,176.4 262.5,141.6 263,140.7 263,207.5 263.5,187.7 263.5,137.6 264,136.2 264,179.1 264.5,181.2 264.5,145 265,136.2 265,165.9 265.5,170.6 265.5,133.6 266,143.5 266,167.3 266.5,180.5 266.5,135.1 267,134 267,168.1 267.5,167.8 267.5,139.7 268,134.9 268,178.4 268.5,177.1 268.5,148.2 269,122.9 269,174.1 269.5,187.3 269.5,140.9 270,140.7 270,176 270.5,174.2 270.5,145.2 271,140.7 271,179.9 271.5,181.6 271.5,133.2 272,125.8 272,167.1 272.5,168.6 272.5,132.3 273,131.3 273,154.1 273.5,168.3 273.5,134.1 274,133 274,163.3 274.5,165.5 274.5,110.9 275,132.3 275,162.9 275.5,157.6 275.5,118.2 276,141.2 276,166.6 276.5,165.4 276.5,136.4 277,139.3 277,168.6 277.5,182.5 277.5,146.8 278,142.2 278,194.7 278.5,185 278.5,150.2 279,147.3 279,183.9 279.5,182.5 279.5,131.8 280,153.8 280,178.7 280.5,171.7 280.5,145.2 281,133.3 281,183.6 281.5,168.8 281.5,136.4 282,149 282,172.5 282.5,195.9 282.5,148 283,119.5 283,175.2 283.5,172.5 283.5,136.4 284,134 284,174.8 284.5,180.7 284.5,143.2 285,141.1 285,178.1 285.5,172.9 285.5,148.5 286,142.6 286,167.9 286.5,161.9 286.5,129.8 287,139.9 287,173.7 287.5,174.9 287.5,131.9 288,146.2 288,175.5 288.5,182.7 288.5,149.1 289,149 289,181.2 289.5,172.7 289.5,149.4 290,148.1 290,180.5 290.5,185.5 290.5,145.9 291,141 291,181.9 291.5,173.6 291.5,142.8 292,134.5 292,160.7 292.5,163.6 292.5,130 293,122.5 293,160.4 293.5,160 293.5,115.5 294,122.2 294,162.6 294.5,158.5 294.5,116.4 295,115.3 295,175.2 295.5,156.7 295.5,119.6 296,112.4 296,149.5 296.5,151.6 296.5,126.9 297,124 297,153 297.5,151.5 297.5,117.8 298,131.3 298,164.4 298.5,157.1 298.5,134.4 299,124.2 299,167.7 299.5,187.2 299.5,131 300,140.7 300,179.3 300.5,168.2 300.5,142.9 301,130.5 301,186.1 301.5,171.8 301.5,114.5 302,133.6 302,164.3 302.5,160.3 302.5,132 303,122.2 303,150.7 303.5,155.7 303.5,117.4 304,128.9 304,155.1 304.5,157.9 304.5,115.1 305,114.8 305,153.4 305.5,149.6 305.5,118.9 306,128 306,154.5 306.5,152.9 306.5,128.3 307,127 307,160.5 307.5,168.4 307.5,122.3 308,115.3 308,151.5 308.5,152.6 308.5,109.4 309,115.6 309,154 309.5,163.7 309.5,117.2 310,117.7 310,139.1 310.5,149.5 310.5,111.4 311,121.5 311,162.1 311.5,169.9 311.5,123.4 312,129.9 312,181.5 312.5,180.1 312.5,137.8 313,130.4 313,171.7 313.5,165 313.5,128.4 314,118 314,167.5 314.5,166 314.5,138.9 315,135.8 315,163.6 315.5,157.5 315.5,113 316,124.3 316,157.1 316.5,153.3 316.5,128.5 317,121.1 317,157.1 317.5,144.9 317.5,105 318,93.9 318,163.3 318.5,154.6 318.5,124.8 319,115.2 319,149.6 319.5,145.1 319.5,112.2 320,110.6 320,134.7 320.5,131.2 320.5,100.3 321,104.9 321,137.9 321.5,143.4 321.5,98.4 322,93.4 322,139.1 322.5,127.4 322.5,93.4 323,94.1 323,134.8 323.5,128.9 323.5,95.1 324,90.2 324,131.6 324.5,134.2 324.5,98.5 325,112 325,131.8 325.5,140.4 325.5,104.3 326,106.6 326,148.5 326.5,141.4 326.5,104.2 327,107.8 327,134.3 327.5,137.8 327.5,107 328,103.7 328,144.3 328.5,138.1 328.5,100.9 329,107.3 329,141.3 329.5,149 329.5,96.1 330,119.8 330,139.3 330.5,151.1 330.5,114.3 331,106.5 331,144.6 331.5,163.1 331.5,99.6 332,90.4 332,144 332.5,166.9 332.5,104.4 333,100.2 333,138 333.5,143.4 333.5,101.8 334,105.2 334,138.2 334.5,168.5 334.5,100 335,99 335,139.5 335.5,142.6 335.5,92.4 336,116.5 336,154.2 336.5,135 336.5,114.2 337,98.6 337,148.4 337.5,139.5 337.5,115.4 338,99.6 338,136.4 338.5,136.1 338.5,100.9 339,110.6 339,128 339.5,133.4 339.5,102.1 340,103.7 340,139.9 340.5,138.8 340.5,103 341,110.1 341,147.3 341.5,163.1 341.5,90.8 342,117 342,148.4 342.5,146 342.5,127.1 343,124.6 343,160.2 343.5,148.5 343.5,125.1 344,126.3 344,152.6 344.5,143.9 344.5,118.7 345,108.2 345,152 345.5,147.3 345.5,118.4 346,116.1 346,141.5 346.5,146.5 346.5,115.5 347,96.5 347,143.7 347.5,143.7 347.5,110.4 348,92.1 348,145.8 348.5,150.8 348.5,108.1 349,114.2 349,144 349.5,149.9 349.5,116 350,111.6 350,144.6 350.5,169.2 350.5,117.7 351,118.5 351,146.6 351.5,149.8 351.5,107.8 352,122.2 352,167.1 352.5,148.5 352.5,114.5 353,128.5 353,146.1 353.5,150.3 353.5,132.1 354,133.7 354,167 354.5,160.7 354.5,114.7 355,125.6 355,166.8 355.5,154 355.5,121.3 356,111.9 356,144.3 356.5,152 356.5,111.5 357,121.8 357,142.8 357.5,167.4 357.5,113.5 358,106.1 358,134.5 358.5,147.8 358.5,90.6 359,111 359,136.5 359.5,141.2 359.5,118.7 360,97.8 360,164.2 360.5,146.6 360.5,103.8 361,94 361,153.2 361.5,151.5 361.5,112.3 362,110.8 362,143.2 362.5,144 362.5,109 363,115.2 363,151.7 363.5,146.6 363.5,121.3 364,116.7 364,146.5 364.5,160 364.5,127.1 365,119.7 365,159.4 365.5,157.4 365.5,113.2 366,132.4 366,169.5 366.5,166.6 366.5,115 367,113.8 367,166.9 367.5,164 367.5,137.3 368,126.1 368,166.1 368.5,156.2 368.5,122.2 369,119.6 369,155.5 369.5,159.1 369.5,119 370,125.4 370,156.3 370.5,156.3 370.5,129.7 371,119.2 371,160.1 371.5,149.1 371.5,123.4 372,125.8 372,158.9 372.5,160.5 372.5,120.5 373,120.6 373,158.3 373.5,157.2 373.5,119 374,99 374,142.9 374.5,147.1 374.5,99.5 375,120 375,143.2 375.5,143 375.5,113.2 376,111.8 376,144.5 376.5,143.7 376.5,115.4 377,127.7 377,160.1 377.5,156.6 377.5,125.5 378,118 378,154.4 378.5,155.6 378.5,126 379,136.9 379,154 379.5,156.5 379.5,128.7 380,129.9 380,189.2 380.5,165.3 380.5,137.4 381,128.7 381,161.7 381.5,163 381.5,135.7 382,122.3 382,160.2 382.5,170.9 382.5,127 383,134.9 383,162.4 383.5,160.2 383.5,128.2 384,123.3 384,153.3 384.5,162.7 384.5,135.1 385,123.2 385,168.2 385.5,157.2 385.5,122.5 386,134.2 386,157.4 386.5,162.2 386.5,119.4 387,130.5 387,149.2 387.5,153.6 387.5,117.6 388,116.5 388,162.9 388.5,154.8 388.5,109.6 389,116.5 389,157.4 389.5,158.6 389.5,121 390,128.4 390,150.4 390.5,163.9 390.5,122.9 391,123.8 391,164.3 391.5,163.8 391.5,135.5 392,126.5 392,159.2 392.5,168.4 392.5,128.7 393,134.5 393,164.3 393.5,166.5 393.5,135.1 394,129.6 394,161.4 394.5,150.2 394.5,122.9 395,127 395,156.4 395.5,144 395.5,109.7 396,117.9 396,142.3 396.5,151.5 396.5,120.6 397,115.5 397,157.2 397.5,156.2 397.5,115.6 398,128.1 398,162.5 398.5,151.3 398.5,126.8 399,128.4 399,152.6 399.5,161.4 399.5,123.3 400,135.5 400,160 400.5,162 400.5,135.6 401,139 401,161.2 401.5,162.3 401.5,133.3 402,118.6 402,168.1 402.5,160.3 402.5,126 403,129.6 403,159.8 403.5,152.2 403.5,125 404,130.1 404,158.7 404.5,158.6 404.5,119.5 405,128.3 405,152.3 405.5,156.3 405.5,128.7 406,121.2 406,152.8 406.5,151.5 406.5,121.9 407,134.3 407,153.5 407.5,150.2 407.5,132.8 408,128.5 408,186.6 408.5,162.8 408.5,125.5 409,108.6 409,148.6 409.5,159.8 409.5,127.9 410,116.4 410,157 410.5,162.2 410.5,131.3 411,121.4 411,161.8 411.5,178.4 411.5,133.9 412,130.5 412,161.7 412.5,162.2 412.5,133 413,136 413,168.9 413.5,156.2 413.5,134 414,125.4 414,150.8 414.5,162.9 414.5,101.8 415,131.1 415,151.8 415.5,151.7 415.5,128.7 416,138.8 416,159 416.5,173 416.5,143.3 417,136.6 417,177.1 417.5,181 417.5,136 418,147.6 418,181 418.5,180.7 418.5,141.3 419,128.3 419,164.5 419.5,156.6 419.5,132 420,118.5 420,162.6 420.5,157.5 420.5,106.1 421,119.8 421,148.5 421.5,157.6 421.5,115.9 422,121.6 422,146 422.5,162.8 422.5,123.3 423,117.8 423,159.3 423.5,158.7 423.5,131.8 424,122.4 424,148.3 424.5,143.3 424.5,108.7 425,106.5 425,142 425.5,158.9 425.5,98.7 426,106.7 426,143 426.5,133.9 426.5,95.6 427,111.2 427,155.8 427.5,144.9 427.5,112.3 428,103.5 428,170 428.5,154.4 428.5,104.6 429,118.1 429,150.9 429.5,145.9 429.5,120 430,119.1 430,153.6 430.5,159 430.5,124.3 431,115 431,150.8 431.5,163.3 431.5,116.5 432,109.7 432,146.9 432.5,155.2 432.5,116.1 433,102.8 433,144.1 433.5,152.2 433.5,112.8 434,116.7 434,149.3 434.5,146 434.5,107.6 435,98 435,149.5 435.5,155.2 435.5,119.6 436,117.7 436,162.9 436.5,167 436.5,129.8 437,119.7 437,161.4 437.5,169.4 437.5,128.7 438,117 438,161.9 438.5,159.4 438.5,98.3 439,123.5 439,156.9 439.5,159.8 439.5,119.7 440,120.5 440,145.5 440.5,160.2 440.5,126.8 441,119.3 441,158 441.5,180.3 441.5,115 442,119.4 442,169 442.5,158.4 442.5,128.4 443,123.4 443,163.4 443.5,158.5 443.5,115.8 444,90.6 444,157.4 444.5,170.1 444.5,117.9 445,109.2 445,162.2 445.5,152.5 445.5,123.4 446,113.8 446,152.9 446.5,156.9 446.5,117.6 447,130 447,157 447.5,152.6 447.5,115.9 448,125.2 448,170.1 448.5,168.2 448.5,115 449,126.1 449,168 449.5,168.8 449.5,118.2 450,119.2 450,171.1 450.5,155.5 450.5,128.7 451,132.6 451,162.4 451.5,160 451.5,123.4 452,126.3 452,160.2 452.5,164.2 452.5,114.2 453,116.7 453,152.8 453.5,159 453.5,103.3 454,99.8 454,157.8 454.5,134.1 454.5,93.9 455,97.1 455,144.6 455.5,130.6 455.5,94.3 456,94.1 456,159.7 456.5,135.7 456.5,89.6 457,85.1 457,142.7 457.5,147.7 457.5,100.1 458,100.7 458,143.7 458.5,142.8 458.5,102 459,100.2 459,147.8 459.5,137.3 459.5,97.3 460,112.8 460,132.5 460.5,131.3 460.5,101.1 461,100.4 461,146.9 461.5,143 461.5,113.6 462,116.8 462,141.6 462.5,144.2 462.5,112.1 463,126.2 463,178.4 463.5,171.8 463.5,126.1 464,127.6 464,176.9 464.5,190.9 464.5,135.6 465,139.5 465,170.3 465.5,171.4 465.5,146.3 466,128.9 466,172.6 466.5,167.5 466.5,126.8 467,119.9 467,154.9 467.5,167.3 467.5,120.2 468,121.7 468,163.3 468.5,164.5 468.5,123.1 469,132.5 469,167 469.5,185.3 469.5,126.4 470,127.5 470,170.8 470.5,175.7 470.5,131.7 471,132 471,163.6 471.5,162.9 471.5,131.6 472,138.6 472,171.3 472.5,169.2 472.5,140.7 473,133.5 473,165 473.5,171 473.5,133.5 474,137.4 474,183.1 474.5,172.5 474.5,141.5 475,153.1 475,186.6 475.5,184.5 475.5,156.9 476,155 476,177.7 476.5,191.3 476.5,151 477,146.9 477,180.3 477.5,181.4 477.5,152.9 478,143.8 478,182.7 478.5,177.4 478.5,125.5 479,148.4 479,184.7 479.5,186.5 479.5,152.7 480,144.9 480,186.6 480.5,180.4 480.5,149.9 481,141.6 481,185.6 481.5,189.6 481.5,147.1 482,143.5 482,188.7 482.5,174 482.5,139.4 483,127.5 483,169.8 483.5,163.8 483.5,141.1 484,134.4 484,175 484.5,170.9 484.5,142.4 485,135.1 485,167.1 485.5,184.3 485.5,137.8 486,133.4 486,167.1 486.5,174.6 486.5,150 487,146.7 487,172.6 487.5,181.8 487.5,146.2 488,133.4 488,167.3 488.5,180.9 488.5,139.6 489,129.9 489,173.7 489.5,165.4 489.5,135.4 490,138.7 490,164.3 490.5,172.5 490.5,138.9 491,126.8 491,158 491.5,155 491.5,120 492,126.7 492,179.2 492.5,157.2 492.5,117.7 493,127.2 493,159.3 493.5,164.6 493.5,135.6 494,122.4 494,157.1 494.5,161.5 494.5,134.1 495,139.3 495,201.2 495.5,176.6 495.5,117.9 496,141.4 496,167.4 496.5,175.9 496.5,146 497,142.4 497,180 497.5,185 497.5,139.5 498,134.5 498,176.6 498.5,184.4 498.5,138.9 499,147.5 499,176.3 499.5,183.2 499.5,137.5 500,130.7 500,174.9 500.5,174.7 500.5,143.1 501,142 501,173.4 501.5,164 501.5,122.9 502,145.3 502,177.5 502.5,183.5 502.5,149.2 503,151.9 503,175 503.5,173.4 503.5,152 504,146.7 504,179.9 504.5,177.2 504.5,150.6 505,144.9 505,174.4 505.5,181.8 505.5,137.7 506,140.7 506,167.7 506.5,179.7 506.5,139.9 507,140.8 507,185.2 507.5,185.6 507.5,140.8 508,151.3 508,184.8 508.5,175.5 508.5,141.4 509,139.6 509,175.5 509.5,179.3 509.5,141.3 510,144.9 510,186 510.5,173.6 510.5,152.9 511,151 511,173.5 511.5,207.3 511.5,146.6 512,148.7 512,179 512.5,182.3 512.5,146.5 513,139.5 513,186.6 513.5,168.9 513.5,141.3 514,132.8 514,172.3 514.5,178.3 514.5,144 515,126.4 515,165 515.5,185.2 515.5,141.2 516,129 516,175 516.5,169.8 516.5,141.3 517,141.9 517,178.8 517.5,173.6 517.5,132.1 518,122.1 518,184.5 518.5,190.4 518.5,144.5 519,144.4 519,186.2 519.5,190.2 519.5,155.8 520,151.4 520,182.6 520.5,181.6 520.5,155.2 521,154.7 521,185 521.5,181.3 521.5,152.9 522,145.2 522,182.7 522.5,174.9 522.5,150.9 523,144.5 523,180.9 523.5,175.5 523.5,137.9 524,128.4 524,166.9 524.5,164.9 524.5,135.9 525,135.3 525,176.2 525.5,187 525.5,142.6 526,140.6 526,204.2 526.5,193.3 526.5,156.9 527,150.8 527,183.2 527.5,190.3 527.5,152.5 528,146 528,171.6 528.5,190.2 528.5,142.3 529,130.9 529,163.1 529.5,159.3 529.5,130.5 530,129.9 530,173.5 530.5,170.4 530.5,136.2 531,143.6 531,179.5 531.5,179.7 531.5,144.8 532,139.9 532,176.8 532.5,168.1 532.5,145.3 533,141.3 533,198.6 533.5,178 533.5,132 534,143.8 534,181.6 534.5,193.8 534.5,124.6 535,132.7 535,174 535.5,173.3 535.5,135.7 536,148.6 536,176.9 536.5,172.3 536.5,133.6 537,138.2 537,184.5 537.5,167.5 537.5,145.1 538,133.9 538,177.4 538.5,171.4 538.5,114.3 539,128.3 539,194.4 539.5,170 539.5,125.3 540,138.5 540,162.8 540.5,166.8 540.5,120.3 541,132.7 541,162.1 541.5,159.2 541.5,116.4 542,126.3 542,173.7 542.5,167.2 542.5,137.9 543,130.5 543,196.6 543.5,166.6 543.5,140.3 544,119.6 544,166.7 544.5,166.9 544.5,133.7 545,140.1 545,171.3 545.5,174.8 545.5,134.8 546,150 546,175.2 546.5,184.3 546.5,148.6 547,137.2 547,185.2 547.5,188.6 547.5,156.3 548,157.4 548,189.7 548.5,207.5 548.5,162.6 549,142.3 549,184.6 549.5,191.7 549.5,148 550,144.2 550,185.1 550.5,190.8 550.5,141.1 551,134.7 551,172.7 551.5,171.1 551.5,143.7 552,143.5 552,176.1 552.5,169.8 552.5,132.5 553,136.8 553,164.5 553.5,165.3 553.5,140.5 554,133.5 554,170.1 554.5,167.1 554.5,137.3 555,134.4 555,170.6 555.5,164.4 555.5,142.4 556,135.7 556,195.7 556.5,167.9 556.5,141.6 557,131.1 557,171.4 557.5,180.2 557.5,138.1 558,153.1 558,189.7 558.5,195.3 558.5,159.8 559,151.3 559,193.1 559.5,215 559.5,153 560,148.3 560,195.6 560.5,187.7 560.5,161.7 561,151.8 561,188.2 561.5,194.8 561.5,145.1 562,150.7 562,190.7 562.5,184.9 562.5,152.4 563,151.6 563,195.1 563.5,173 563.5,144.5 564,138.3 564,175.5 564.5,185.9 564.5,128.6 565,136.2 565,160.2 565.5,153.3 565.5,122.5 566,134.2 566,155.5 566.5,160.8 566.5,133.1 567,131.7 567,162.7 567.5,167 567.5,141.5 568,120.1 568,183.1 568.5,169.3 568.5,130.5 569,132.6 569,169.6 569.5,179 569.5,136.4 570,145.7 570,180.7 570.5,183.3 570.5,140.6 571,134.2 571,174.4 571.5,164.8 571.5,147.1 572,138 572,168.1 572.5,173 572.5,134.8 573,132.6 573,167.4 573.5,163 573.5,139.7 574,138.6 574,194.3 574.5,177.1 574.5,127.9 575,145.2 575,173.2 575.5,172.6 575.5,133 576,137.9 576,173 576.5,168.5 576.5,130.4 577,135.9 577,171.4 577.5,172.3 577.5,136 578,122.1 578,160.2 578.5,157.8 578.5,124.5 579,121.5 579,175.3 579.5,155.7 579.5,115.8 580,104.6 580,146.5 580.5,152.8 580.5,120.6 581,118.7 581,150.7 581.5,164.8 581.5,130 582,131.1 582,176.8 582.5,183.7 582.5,123.8 583,123.3 583,158.6 583.5,155.6 583.5,126.6 584,127.7 584,169.9 584.5,169.4 584.5,136 585,123.7 585,163.9 585.5,156.4 585.5,121.6 586,123.5 586,155.5 586.5,165.5 586.5,129.4 587,135.2 587,162 587.5,157.2 587.5,128.2 588,118.6 588,159.5 588.5,149.3 588.5,121.3 589,129.3 589,174.3 589.5,174 589.5,115.2 590,119.2 590,153.3 590.5,151.1 590.5,115.5 591,123.3 591,157 591.5,143.8 591.5,110.8 592,103.2 592,144.5 592.5,141.4 592.5,112.1 593,110 593,138.4 593.5,133.9 593.5,99.9 594,107.8 594,140.6 594.5,141.6 594.5,108.6 595,99.7 595,153.4 595.5,179.2 595.5,121.5 596,124.8 596,148.1 596.5,158.4 596.5,118.8 597,106 597,157.6 597.5,151.6 597.5,113.9 598,120.9 598,146.6 598.5,141 598.5,109.2 599,108.9 599,142.7 599.5,139.1 599.5,108.3 600,113.9 600,138 600.5,148.5 600.5,92.9 601,108.9 601,144.3 601.5,138.3 601.5,122.3 602,108.2 602,141.3 602.5,137.1 602.5,120 603,117.6 603,145.7 603.5,162.6 603.5,116.1 604,119.3 604,141.5 604.5,134.5 604.5,114.7 605,110.8 605,148.9 605.5,141.9 605.5,113.4 606,100.9 606,135.7 606.5,135.1 606.5,115.1 607,113.1 607,139.2 607.5,161.4 607.5,117.8 608,117.8 608,147.1 608.5,156.6 608.5,131.4 609,130.3 609,154.3 609.5,160.1 609.5,138.1 610,113.9 610,157.4 610.5,159.3 610.5,134.8 611,135.1 611,168.6 611.5,167 611.5,124 612,130.2 612,154.7 612.5,148.4 612.5,120.7 613,115.3 613,156.6 613.5,155.3 613.5,119.2 614,113 614,144.4 614.5,150.3 614.5,115.9 615,133 615,155.7 615.5,162.4 615.5,120.8 616,121.7 616,155.4 616.5,151.9 616.5,125.4 617,120.7 617,149.4 617.5,159.1 617.5,125.9 618,126.5 618,151.4 618.5,150.5 618.5,122.3 619,129.4 619,152 619.5,169.8 619.5,105.8 620,113.2 620,153.9 620.5,144.8 620.5,122.1 621,95.5 621,154.3 621.5,141.7 621.5,110.6 622,119.2 622,154.8 622.5,169.2 622.5,119.6 623,117.1 623,152.6 623.5,155.6 623.5,126.4 624,119.4 624,143.5 624.5,147.4 624.5,120.8 625,126.2 625,152.7 625.5,160.7 625.5,126.3 626,133.6 626,157.6 626.5,156.7 626.5,122.6 627,130.6 627,152.9 627.5,156.8 627.5,132.1 628,132.8 628,150.9 628.5,160.4 628.5,122 629,122.9 629,157.3 629.5,149.4 629.5,118.1 630,118.3 630,144.8 630.5,150.3 630.5,128.9 631,129.4 631,160.5 631.5,156.3 631.5,125 632,126.9 632,155.5 632.5,155.9 632.5,128.9 633,128.6 633,154.2 633.5,153.5 633.5,130.1 634,122.6 634,156.6 634.5,162.8 634.5,124.2 635,126.5 635,160 635.5,156.8 635.5,115.9 636,124.4 636,147.6 636.5,150.4 636.5,118.2 637,112.8 637,143.3 637.5,144.2 637.5,116.1 638,113.1 638,144.3 638.5,150 638.5,118.4 639,124.6 639,148.8 639.5,165 639.5,124.8 640,130.3 640,185.1 640.5,159.7 640.5,142.2 641,126 641,162.4 641.5,170.2 641.5,131 642,129.9 642,166.6 642.5,188.5 642.5,136 643,136.4 643,167.6 643.5,158.4 643.5,138.4 644,134.7 644,166.6 644.5,159.9 644.5,135.8 645,135.4 645,156.3 645.5,160.3 645.5,140 646,140.6 646,165.4 646.5,164.4 646.5,142.7 647,140.4 647,167.3 647.5,156.7 647.5,135.2 648,124 648,160 648.5,150.1 648.5,116.8 649,116.7 649,152.7 649.5,145.3 649.5,114.3 650,112.8 650,135.1 650.5,149 650.5,105.7 651,107.7 651,138.4 651.5,146 651.5,113.7 652,114 652,146.4 652.5,152.4 652.5,111.4 653,118.2 653,148.7 653.5,152.5 653.5,127.1 654,132.6 654,172.6 654.5,155.4 654.5,127.7 655,128.8 655,153.4 655.5,152.1 655.5,131.1 656,121.1 656,150.7 656.5,164.3 656.5,120.9 657,120.9 657,155.8 657.5,150.1 657.5,127.7 658,118.4 658,151.6 658.5,150.2 658.5,101.4 659,122.5 659,149.7 659.5,155.3 659.5,123.1 660,123 660,157.9 660.5,146.7 660.5,124.2 661,123.4 661,155.5 661.5,167.8 661.5,129.7 662,141.1 662,158.9 662.5,165.8 662.5,137.1 663,134.1 663,165.1 663.5,169.1 663.5,139.5 664,143.8 664,171.1 664.5,167.7 664.5,128 665,133 665,159.6 665.5,164.5 665.5,136.8 666,123.5 666,164.8 666.5,154.5 666.5,137 667,136.6 667,162.7 667.5,153.5 667.5,135.9 668,135.5 668,160.5 668.5,160 668.5,129.2 669,123.6 669,156.9 669.5,165 669.5,132.5 670,109.9 670,170.4 670.5,163 670.5,132 671,111.9 671,161.3 671.5,159.8 671.5,122.8 672,114.4 672,153.9 672.5,158 672.5,113.7 673,119.2 673,152 673.5,151.4 673.5,121.1 674,120.4 674,155.8 674.5,152.4 674.5,116.4 675,133 675,171.7 675.5,172.3 675.5,142 676,145.2 676,172.6 676.5,174 676.5,145.4 677,135.3 677,193.3 677.5,185.1 677.5,141.9 678,131.3 678,170.1 678.5,163.1 678.5,127.5 679,130 679,173.8 679.5,158.5 679.5,124.8 680,133.7 680,159.7 680.5,179.2 680.5,127.1 681,132.8 681,155.2 681.5,157.7 681.5,134.9 682,132.2 682,175.1 682.5,183.8 682.5,132.5 683,154.5 683,174 683.5,188.6 683.5,162.7 684,133.6 684,202.6 684.5,192.9 684.5,160.7 685,165.5 685,186.4 685.5,222.4 685.5,145.8 686,146.1 686,189.7 686.5,168.8 686.5,135.6 687,126.6 687,176.7 687.5,166 687.5,122.6 688,134 688,166.5 688.5,156.3 688.5,117.5 689,129 689,159.3 689.5,171.5 689.5,124.2 690,126 690,162.7 690.5,176.1 690.5,134.3 691,121.4 691,175.1 691.5,173.4 691.5,142.4 692,137.5 692,174.1 692.5,167.1 692.5,136.9 693,148.7 693,179.7 693.5,170.8 693.5,133.1 694,143.3 694,171.3 694.5,170.3 694.5,138.6 695,148.5 695,174.5 695.5,184.9 695.5,145.4 696,151.8 696,186.5 696.5,199.3 696.5,144.3 697,150.7 697,191.1 697.5,187.9 697.5,141 698,156.4 698,178.3 698.5,179.9 698.5,149.1 699,140.4 699,175.2 699.5,206.6 699.5,144.4 700,136.5 700,172.3 700.5,181.2 700.5,107.3 701,123.1 701,169.1 701.5,204.9 701.5,138.3 702,140.4 702,177.1 702.5,177.3 702.5,138.5 703,130.8 703,178.3 703.5,167.9 703.5,128.9 704,136.1 704,162.8 704.5,165.8 704.5,128.8 705,121.4 705,171.1 705.5,157.1 705.5,110.6 706,136.7 706,180.2" /><polyline fill="none" stroke="#008000" stroke-width="0.8" stroke-linejoin="round" points="88.5,216.4 88.5,191.7 89,192.8 89,210 89.5,221.8 89.5,183.2 90,185 90,216.9 90.5,226.8 90.5,190.8 91,187.3 91,210.9 91.5,209 91.5,186 92,188.6 92,220.6 92.5,219 92.5,192.8 93,201.4 93,213.4 93.5,217 93.5,196.6 94,179.3 94,218.6 94.5,209.9 94.5,195.3 95,192.7 95,219.2 95.5,212.9 95.5,193.4 96,201.1 96,214.1 96.5,214.3 96.5,193 97,198.3 97,225.1 97.5,218.7 97.5,201.7 98,204.6 98,219.5 98.5,219.7 98.5,199 99,200.7 99,216 99.5,217.2 99.5,192.1 100,191.6 100,218.9 100.5,215.1 100.5,191.9 101,193.1 101,208.2 101.5,223.4 101.5,188.8 102,185.4 102,207.9 102.5,210.2 102.5,185.7 103,184.4 103,219.5 103.5,207.2 103.5,190.7 104,189.9 104,215 104.5,211.3 104.5,185.2 105,193.2 105,212.3 105.5,199.2 105.5,179.7 106,169.3 106,198.5 106.5,182.5 106.5,146 107,137.9 107,182.5 107.5,161.9 107.5,128.9 108,122.4 108,165.1 108.5,163.4 108.5,126.9 109,133.5 109,165.1 109.5,162.1 109.5,133.5 110,132.6 110,160.8 110.5,164.5 110.5,112.8 111,134.2 111,161.8 111.5,195.3 111.5,133.9 112,96.5 112,161.6 112.5,179.7 112.5,136 113,129.3 113,164.8 113.5,175.1 113.5,132.5 114,127.3 114,177.6 114.5,197.5 114.5,113.9 115,124.1 115,166.9 115.5,185.5 115.5,127.1 116,131.4 116,174.8 116.5,161.1 116.5,125.3 117,119.1 117,185.8 117.5,171.3 117.5,126.2 118,118.6 118,158.5 118.5,158.5 118.5,89.2 119,100.9 119,153.8 119.5,131.4 119.5,90.4 120,90 120,126.5 120.5,141.2 120.5,92.3 121,103.7 121,158.2 121.5,155.5 121.5,90.2 122,107.1 122,146.9 122.5,193.6 122.5,114.1 123,130.6 123,175.6 123.5,170.3 123.5,112.6 124,110.7 124,177.9 124.5,176.7 124.5,105.9 125,127.9 125,192.8 125.5,164.2 125.5,122.9 126,116.5 126,143.8 126.5,141.2 126.5,103.4 127,108 127,179.5 127.5,141.1 127.5,84.3 128,91.8 128,145.1 128.5,139.1 128.5,84.7 129,104.8 129,138.8 129.5,142.4 129.5,99.3 130,88.5 130,150.8 130.5,146.9 130.5,95.9 131,104.5 131,129.9 131.5,143.1 131.5,88.8 132,79.8 132,138 132.5,140.1 132.5,86.9 133,84.6 133,177.4 133.5,151 133.5,90.1 134,113.9 134,141.2 134.5,160.1 134.5,113.3 135,123.1 135,156.9 135.5,167.1 135.5,113.1 136,106.6 136,161.2 136.5,183.5 136.5,108.8 137,126.6 137,166.2 137.5,157.4 137.5,119.3 138,130.4 138,165.2 138.5,177.2 138.5,129.5 139,124.4 139,186.1 139.5,171.3 139.5,125.3 140,137.9 140,156.9 140.5,186.2 140.5,137.2 141,130.1 141,162.9 141.5,173.3 141.5,119.8 142,117.6 142,154.5 142.5,163.4 142.5,121.1 143,135.1 143,180.8 143.5,161.7 143.5,120.9 144,127.7 144,163.9 144.5,164.8 144.5,132 145,142 145,174.1 145.5,179.3 145.5,142.7 146,136.3 146,173.9 146.5,176 146.5,149.9 147,154.5 147,204.5 147.5,186.9 147.5,151.8 148,143.2 148,190.3 148.5,186.5 148.5,145.1 149,153.6 149,181.6 149.5,210.1 149.5,151.3 150,147 150,180.4 150.5,182.9 150.5,158.3 151,159.2 151,192.3 151.5,210.7 151.5,144.9 152,156.1 152,195 152.5,196.1 152.5,154.7 153,163.4 153,189.3 153.5,187.9 153.5,160.7 154,152.4 154,188.3 154.5,185.4 154.5,156.2 155,156.9 155,193.2 155.5,181.5 155.5,155.8 156,150.7 156,192.9 156.5,178.4 156.5,153.8 157,147.3 157,182.3 157.5,179.4 157.5,163 158,156.2 158,190.3 158.5,193.8 158.5,166.7 159,160.9 159,196.9 159.5,201.9 159.5,161.5 160,163.4 160,202.5 160.5,202.4 160.5,161.7 161,166.4 161,193.9 161.5,190.8 161.5,166.3 162,159 162,188.6 162.5,194.3 162.5,163.1 163,166.2 163,195 163.5,203.5 163.5,162.6 164,164.5 164,200.5 164.5,195.9 164.5,168.3 165,166.3 165,206.4 165.5,202.5 165.5,178.6 166,180.2 166,197.2 166.5,207.5 166.5,173.8 167,177.7 167,208.2 167.5,198.3 167.5,171.8 168,159.7 168,194.3 168.5,191.9 168.5,160.5 169,165.7 169,182 169.5,207.1 169.5,153.2 170,157.8 170,193.1 170.5,188.3 170.5,144.3 171,167.6 171,190.2 171.5,197.9 171.5,160.5 172,175.7 172,209.7 172.5,211.8 172.5,173.2 173,167.2 173,196.8 173.5,196.5 173.5,167.1 174,170.8 174,192.4 174.5,197.3 174.5,156.5 175,155.4 175,186 175.5,195.4 175.5,156.2 176,164.6 176,183.9 176.5,195.3 176.5,166.2 177,167.1 177,201.7 177.5,191.5 177.5,150.2 178,163.7 178,203.2 178.5,193.1 178.5,172.6 179,173.8 179,196.9 179.5,189.7 179.5,158.7 180,161.4 180,192.3 180.5,193 180.5,163.1 181,170.3 181,198.2 181.5,205.6 181.5,174 182,165.2 182,195.7 182.5,201.4 182.5,179.3 183,169.3 183,201.5 183.5,193.4 183.5,172 184,171.7 184,199.2 184.5,201.5 184.5,169 185,142.3 185,194.7 185.5,186.4 185.5,147.6 186,156.3 186,194.1 186.5,194.6 186.5,168.2 187,171.8 187,202.6 187.5,207.2 187.5,175.3 188,177.6 188,207 188.5,218.4 188.5,174.7 189,180 189,225.5 189.5,215.8 189.5,185.1 190,180.3 190,211 190.5,211.2 190.5,183 191,182.6 191,204.6 191.5,209 191.5,162.8 192,180.9 192,206.5 192.5,217.9 192.5,180.5 193,179 193,211.4 193.5,207 193.5,187.7 194,186.4 194,215.7 194.5,221.6 194.5,179.3 195,186 195,210.2 195.5,230.3 195.5,181 196,194.4 196,219.2 196.5,219.6 196.5,192.8 197,189.4 197,218.4 197.5,229.4 197.5,181.1 198,192.5 198,210.6 198.5,216.7 198.5,190.3 199,174.9 199,223.4 199.5,224.7 199.5,191.5 200,187.3 200,217.2 200.5,222 200.5,183.2 201,182.9 201,223.1 201.5,220.7 201.5,187 202,191.6 202,218.2 202.5,211.5 202.5,180.1 203,168 203,207.5 203.5,210.5 203.5,186.7 204,188.7 204,217.3 204.5,215.1 204.5,178.9 205,182 205,218.4 205.5,225.3 205.5,187.6 206,188.6 206,218.8 206.5,217.1 206.5,182.7 207,186.4 207,217.7 207.5,219.3 207.5,176.8 208,184.4 208,211.3 208.5,217.5 208.5,171.8 209,180.8 209,215.8 209.5,216.3 209.5,174.8 210,191.1 210,209.3 210.5,208.3 210.5,190.7 211,184.7 211,215.7 211.5,214.6 211.5,188.3 212,179.7 212,205.1 212.5,212.7 212.5,175.9 213,171.2 213,198.9 213.5,201.9 213.5,169.6 214,171.3 214,202.8 214.5,201.8 214.5,179.3 215,177.2 215,208.2 215.5,215.6 215.5,187.1 216,189.5 216,218.1 216.5,216.6 216.5,193.1 217,183.3 217,222.4 217.5,222.5 217.5,185.4 218,188.6 218,213.5 218.5,214.6 218.5,189.3 219,195.3 219,222.8 219.5,223.6 219.5,197.6 220,196.3 220,224.3 220.5,219.8 220.5,194.6 221,194.5 221,229.1 221.5,228.5 221.5,200.2 222,200 222,219.2 222.5,224.5 222.5,196 223,195.6 223,226.3 223.5,223.7 223.5,203.6 224,196.3 224,229.2 224.5,228.3 224.5,178.2 225,197.1 225,214.7 225.5,211.7 225.5,195.9 226,193.2 226,214 226.5,219.3 226.5,183.4 227,189.6 227,217.3 227.5,213.5 227.5,184.1 228,180.8 228,211.8 228.5,213.5 228.5,181.4 229,166.2 229,210.7 229.5,207.3 229.5,171.4 230,172.9 230,207.8 230.5,200.7 230.5,171.9 231,181.2 231,204.3 231.5,204.1 231.5,172.6 232,172.8 232,208.2 232.5,204.7 232.5,179.6 233,179.7 233,213.6 233.5,210.5 233.5,183.7 234,183.5 234,214.2 234.5,216.5 234.5,176.5 235,195 235,243.4 235.5,220.7 235.5,200.7 236,201.2 236,224.2 236.5,234.6 236.5,204.5 237,202.5 237,223 237.5,224.7 237.5,199.8 238,197.5 238,226.5 238.5,222.3 238.5,200.4 239,196.4 239,222.1 239.5,221.1 239.5,181.1 240,190.1 240,228.4 240.5,226.4 240.5,205.4 241,208 241,232.6 241.5,230.4 241.5,204.2 242,214.9 242,243 242.5,240.8 242.5,196.8 243,215.7 243,233.8 243.5,238.8 243.5,199.2 244,203.3 244,233.8 244.5,240.5 244.5,191.7 245,206.2 245,241.1 245.5,233.7 245.5,207.2 246,196 246,236.1 246.5,233 246.5,197.8 247,197.9 247,234.6 247.5,231 247.5,201.9 248,195.9 248,228.3 248.5,224.4 248.5,207.5 249,186.7 249,226.2 249.5,237.5 249.5,207.6 250,191.8 250,229 250.5,228.7 250.5,192.8 251,195.6 251,218.5 251.5,218.7 251.5,173.4 252,196.7 252,228.7 252.5,227.9 252.5,191 253,195 253,217.2 253.5,240.4 253.5,175.1 254,193.7 254,223.4 254.5,222.1 254.5,203.7 255,197.5 255,219.6 255.5,224.8 255.5,196.1 256,201.9 256,238.6 256.5,227.3 256.5,197.7 257,200.8 257,224.1 257.5,225.5 257.5,204.3 258,187.7 258,219.9 258.5,231.7 258.5,187.7 259,191.6 259,216.8 259.5,216.6 259.5,192.8 260,168.6 260,233.1 260.5,214.5 260.5,191.4 261,194.9 261,219.4 261.5,213.4 261.5,190.9 262,186.7 262,212.2 262.5,223.1 262.5,193.8 263,190.2 263,218.6 263.5,215.6 263.5,196.8 264,195.8 264,231.4 264.5,242.5 264.5,206.3 265,196.5 265,232.4 265.5,222.2 265.5,203.5 266,199.6 266,227.7 266.5,220.6 266.5,202.9 267,196.8 267,224.2 267.5,219.7 267.5,198.5 268,196 268,227.6 268.5,221.2 268.5,195.6 269,197.3 269,213.6 269.5,218.4 269.5,198.3 270,189.9 270,215.2 270.5,212.5 270.5,195.3 271,186.7 271,208.5 271.5,221 271.5,188.3 272,195.9 272,222.5 272.5,218.4 272.5,195.4 273,193.9 273,226.5 273.5,221.6 273.5,196.4 274,203.4 274,228.4 274.5,231.9 274.5,196.7 275,204.5 275,221.3 275.5,227.9 275.5,203.9 276,204.5 276,233.7 276.5,230.9 276.5,200.9 277,202.3 277,228.8 277.5,230.8 277.5,196.2 278,199.7 278,223.5 278.5,220.8 278.5,195 279,206.2 279,226 279.5,229.9 279.5,203.4 280,197.9 280,227.3 280.5,226.7 280.5,197.8 281,199.1 281,227.3 281.5,223.9 281.5,205.4 282,192.3 282,218.5 282.5,218.4 282.5,198.5 283,196.9 283,230.2 283.5,221 283.5,193.4 284,201.9 284,226.2 284.5,220.1 284.5,194.2 285,194.8 285,224.2 285.5,226.1 285.5,201.7 286,207.1 286,235 286.5,224.5 286.5,199.3 287,207 287,227.6 287.5,229.5 287.5,207.2 288,200.6 288,244.4 288.5,231.1 288.5,210.7 289,200.7 289,238.7 289.5,229.6 289.5,201.1 290,211.5 290,236 290.5,230.1 290.5,206.6 291,205.6 291,224.6 291.5,231.7 291.5,200.5 292,200.6 292,233.5 292.5,230.8 292.5,206 293,203.5 293,224.1 293.5,221.1 293.5,206.2 294,203.6 294,223.1 294.5,222.4 294.5,196.5 295,201.5 295,221.8 295.5,221.2 295.5,201.5 296,198.5 296,225.2 296.5,217.8 296.5,193.5 297,194.3 297,232 297.5,222.2 297.5,196.2 298,180.5 298,213.5 298.5,208.1 298.5,183.3 299,179.4 299,213.5 299.5,215 299.5,193.4 300,186.8 300,213.4 300.5,209.8 300.5,184.2 301,173.6 301,222.8 301.5,213 301.5,194.5 302,192.6 302,217.7 302.5,214.5 302.5,196.2 303,190.6 303,219.6 303.5,216.2 303.5,200.2 304,190.7 304,225.1 304.5,217.3 304.5,195.7 305,197.1 305,218.1 305.5,221.5 305.5,197.3 306,200.8 306,220.5 306.5,238.5 306.5,199.3 307,200.3 307,228 307.5,233.3 307.5,208.2 308,206.3 308,238.7 308.5,235.5 308.5,208.9 309,211.4 309,237.4 309.5,252 309.5,208.1 310,194.2 310,231.8 310.5,236.5 310.5,188.7 311,196.5 311,216.8 311.5,218.8 311.5,186.6 312,190 312,224.5 312.5,220.2 312.5,198.5 313,194.2 313,230.1 313.5,221.4 313.5,205.5 314,194.9 314,228.6 314.5,233.1 314.5,206.6 315,184.6 315,227.3 315.5,226.3 315.5,190.3 316,193.6 316,222.7 316.5,224.5 316.5,196.1 317,194.9 317,215.5 317.5,229.8 317.5,197.9 318,195.9 318,225.1 318.5,237.6 318.5,209.2 319,191.9 319,226.5 319.5,237.7 319.5,206.7 320,202.5 320,228.2 320.5,228.8 320.5,209.9 321,201.6 321,226.3 321.5,220.4 321.5,203.7 322,203.8 322,233.2 322.5,223.5 322.5,183.8 323,202.4 323,224.2 323.5,222.1 323.5,204.6 324,200.2 324,226.5 324.5,240 324.5,183.4 325,211 325,235.6 325.5,232.8 325.5,214.5 326,206.9 326,233.8 326.5,252.8 326.5,205.4 327,204.3 327,229.4 327.5,232.8 327.5,196.9 328,192.7 328,222.9 328.5,220.6 328.5,197.9 329,191.9 329,223.6 329.5,214.6 329.5,197.1 330,189.8 330,225.2 330.5,223.5 330.5,189.1 331,192.8 331,213.9 331.5,219 331.5,187.1 332,187.4 332,224 332.5,220 332.5,197 333,190.7 333,221.9 333.5,222.2 333.5,199.4 334,199.5 334,222.3 334.5,222.4 334.5,198.7 335,196.5 335,220.4 335.5,220.3 335.5,200.1 336,188.9 336,219 336.5,220.4 336.5,190.1 337,189.5 337,214.5 337.5,219.7 337.5,186.3 338,177.3 338,238.8 338.5,215.5 338.5,187.9 339,181.6 339,227 339.5,215.6 339.5,192.7 340,200.5 340,224.4 340.5,221 340.5,196.9 341,196.3 341,230.1 341.5,221.6 341.5,195.2 342,190.4 342,210.3 342.5,220.7 342.5,186.1 343,193.4 343,218 343.5,217.5 343.5,183.8 344,185.8 344,217.8 344.5,215.1 344.5,191.8 345,178.3 345,218.3 345.5,220.2 345.5,190.1 346,190.4 346,218.9 346.5,241.8 346.5,193.5 347,199.5 347,226.2 347.5,225.1 347.5,198.5 348,194.5 348,218.4 348.5,219.3 348.5,191.8 349,191.9 349,216.8 349.5,228.6 349.5,195.1 350,200.9 350,232.3 350.5,231.5 350.5,203.3 351,199.6 351,238.3 351.5,234.1 351.5,203.3 352,200.4 352,222.3 352.5,230.2 352.5,201.2 353,192.1 353,229.8 353.5,220.6 353.5,198.2 354,197.3 354,228.3 354.5,222.3 354.5,192.6 355,202.3 355,221.1 355.5,224.1 355.5,196.2 356,201.9 356,219.7 356.5,221.6 356.5,203.1 357,188.6 357,220.5 357.5,221.3 357.5,190.4 358,194.2 358,221.2 358.5,229.3 358.5,193.7 359,184 359,217.6 359.5,220.8 359.5,192.1 360,188.1 360,222.1 360.5,214.5 360.5,190.5 361,191.9 361,213.5 361.5,216.9 361.5,192 362,190.8 362,218.7 362.5,215 362.5,192.1 363,191.9 363,226.5 363.5,222.6 363.5,188.8 364,205.3 364,224 364.5,232.7 364.5,207 365,186.3 365,221.3 365.5,219.7 365.5,178 366,199.4 366,225.3 366.5,218.5 366.5,191.9 367,193.6 367,225.7 367.5,220.3 367.5,203.8 368,199.3 368,223.2 368.5,230 368.5,199.6 369,199 369,218.9 369.5,221.7 369.5,195 370,198.2 370,229.1 370.5,221 370.5,180 371,200.8 371,227.9 371.5,219.1 371.5,191.6 372,192.3 372,226.6 372.5,239.3 372.5,189.1 373,198.3 373,223.3 373.5,223.5 373.5,199.1 374,186.3 374,224.3 374.5,216.2 374.5,180.9 375,179.6 375,210.2 375.5,211.6 375.5,164.5 376,181.9 376,223.9 376.5,212.9 376.5,190.7 377,190.7 377,217.8 377.5,220.4 377.5,193.6 378,190.5 378,221.2 378.5,220.4 378.5,201.7 379,202.3 379,229.7 379.5,229.3 379.5,197 380,199.4 380,223.4 380.5,217.1 380.5,190.5 381,196.6 381,238.4 381.5,234.8 381.5,188.6 382,195 382,226.5 382.5,224 382.5,200.2 383,201.1 383,227.9 383.5,227.2 383.5,204 384,208.4 384,222.5 384.5,219.3 384.5,195.2 385,191 385,216.3 385.5,220.2 385.5,196.2 386,198.4 386,233.6 386.5,226.5 386.5,189.9 387,198.5 387,225.2 387.5,223 387.5,197.3 388,193.6 388,221.3 388.5,222.8 388.5,204.8 389,202.5 389,221 389.5,248.1 389.5,201.6 390,208.1 390,230.7 390.5,229.9 390.5,205 391,209.6 391,241.8 391.5,232.4 391.5,205.8 392,204.8 392,236.4 392.5,229.1 392.5,208.2 393,199.7 393,236.5 393.5,234.4 393.5,198.5 394,195.9 394,229.3 394.5,223.7 394.5,205.8 395,203.8 395,224.7 395.5,228.4 395.5,199.9 396,199.4 396,221 396.5,228.6 396.5,180.2 397,194.2 397,229.2 397.5,219.3 397.5,194.7 398,187 398,220.2 398.5,221.7 398.5,171.2 399,196 399,212.2 399.5,217 399.5,186.9 400,190.3 400,219.4 400.5,221.1 400.5,185.4 401,195.1 401,224.5 401.5,227.9 401.5,190.8 402,195.8 402,219.8 402.5,234.1 402.5,209.8 403,203.9 403,235.3 403.5,227.1 403.5,206.2 404,194.4 404,234 404.5,226.2 404.5,202.9 405,200.5 405,231.3 405.5,224.5 405.5,196.7 406,195.3 406,226.3 406.5,231.3 406.5,206.2 407,196.9 407,228.3 407.5,223.3 407.5,177.4 408,188.2 408,220.8 408.5,225.4 408.5,195.7 409,195.3 409,221.7 409.5,218.6 409.5,192.9 410,179.8 410,224.9 410.5,216.4 410.5,197.9 411,199.3 411,217.8 411.5,230.4 411.5,201 412,200.9 412,230 412.5,227.9 412.5,200.9 413,190.4 413,214.3 413.5,215.9 413.5,197.4 414,193.6 414,215 414.5,216.5 414.5,188.1 415,183.6 415,222.9 415.5,212.1 415.5,184.4 416,173.4 416,212.6 416.5,215.7 416.5,182.6 417,190.3 417,234.1 417.5,210.7 417.5,182.6 418,184.9 418,222.4 418.5,224.2 418.5,194.9 419,189.7 419,222.2 419.5,232.7 419.5,202.3 420,196 420,225.5 420.5,228 420.5,184.6 421,200.1 421,221 421.5,218.1 421.5,199.2 422,196 422,218.7 422.5,226.4 422.5,198.4 423,198.6 423,230.2 423.5,229.2 423.5,196 424,200.8 424,224.5 424.5,223.1 424.5,207.1 425,198.7 425,221.3 425.5,224.5 425.5,191.2 426,192.2 426,219.1 426.5,213.5 426.5,195 427,198.2 427,213.2 427.5,221 427.5,200.1 428,196.5 428,223.4 428.5,226.6 428.5,192 429,200.8 429,218.2 429.5,229.1 429.5,193.8 430,194.2 430,231.7 430.5,225.5 430.5,198.4 431,208.1 431,224.4 431.5,227.4 431.5,205.1 432,196.4 432,227.9 432.5,231.4 432.5,195.2 433,195.8 433,219.3 433.5,225.2 433.5,191.9 434,190.6 434,220.9 434.5,223 434.5,192 435,197 435,216.5 435.5,215.9 435.5,185.9 436,197.9 436,225.3 436.5,231.8 436.5,200 437,199.8 437,222.2 437.5,234.1 437.5,197 438,206.5 438,229.4 438.5,229.6 438.5,204.4 439,196.9 439,228.8 439.5,221 439.5,178.5 440,199.4 440,222 440.5,218.8 440.5,188.4 441,183.5 441,211.3 441.5,223.3 441.5,189.2 442,171.1 442,216.4 442.5,222.8 442.5,179.6 443,190.7 443,217 443.5,205.9 443.5,189.6 444,182.2 444,217.6 444.5,210.7 444.5,182.6 445,182.6 445,226.1 445.5,219.5 445.5,190.6 446,176.2 446,230.5 446.5,215.2 446.5,196.1 447,198 447,225.4 447.5,228.3 447.5,193.1 448,192.1 448,223.8 448.5,223.4 448.5,195.1 449,181.3 449,241.1 449.5,229.9 449.5,201.9 450,203.4 450,221.6 450.5,220.7 450.5,205.9 451,195.8 451,217.6 451.5,219 451.5,202.3 452,197 452,228.4 452.5,218.7 452.5,201.7 453,195.8 453,219.2 453.5,223.7 453.5,194.3 454,196.8 454,221 454.5,227.7 454.5,185.1 455,199.4 455,220.3 455.5,224.9 455.5,198.3 456,198.8 456,219.6 456.5,232.2 456.5,201.7 457,205.9 457,228.3 457.5,234.9 457.5,202 458,199 458,235.4 458.5,232 458.5,185.8 459,193 459,219.9 459.5,229.8 459.5,191.8 460,192.6 460,227.1 460.5,226.1 460.5,199.7 461,194.4 461,220.9 461.5,225.4 461.5,196.3 462,182.2 462,218.1 462.5,214.1 462.5,197.5 463,186.6 463,216 463.5,217.3 463.5,192.8 464,189.5 464,223.4 464.5,211.4 464.5,196.6 465,173 465,214.2 465.5,213.4 465.5,192.5 466,192.7 466,227.7 466.5,212.5 466.5,171.5 467,188.9 467,216.8 467.5,217.4 467.5,186.2 468,195.9 468,216 468.5,232.5 468.5,187.6 469,199.9 469,229.1 469.5,217.9 469.5,193.5 470,192.2 470,226.9 470.5,224.2 470.5,193.4 471,191.5 471,213.5 471.5,222.9 471.5,182.9 472,184.6 472,217.4 472.5,204.4 472.5,183.5 473,177.9 473,210.6 473.5,209.9 473.5,181.6 474,190.7 474,223 474.5,223.3 474.5,198.9 475,192 475,217.8 475.5,224 475.5,195.3 476,185.3 476,230.3 476.5,225 476.5,196.3 477,204.7 477,222.6 477.5,252.4 477.5,200.8 478,211.8 478,234.6 478.5,229 478.5,189.2 479,202.8 479,233 479.5,251.5 479.5,203.3 480,202.1 480,234.3 480.5,240.3 480.5,200.7 481,206.4 481,238.7 481.5,231.3 481.5,212.6 482,211.2 482,235.9 482.5,247.1 482.5,204.8 483,207.2 483,225.5 483.5,221.9 483.5,201.2 484,201 484,226.3 484.5,212.7 484.5,196.3 485,186 485,236.2 485.5,216.9 485.5,193.3 486,186.8 486,212.4 486.5,224 486.5,181.6 487,192 487,219 487.5,233.7 487.5,209.4 488,205.4 488,233 488.5,229.6 488.5,206.3 489,213.2 489,243 489.5,243.6 489.5,200 490,205.8 490,237.6 490.5,229.2 490.5,184.3 491,193.3 491,218.7 491.5,214.7 491.5,185.4 492,175.7 492,219.8 492.5,209.1 492.5,186.3 493,189.7 493,215.1 493.5,220.9 493.5,192.3 494,188.3 494,216.8 494.5,221.6 494.5,202 495,197.9 495,232.8 495.5,238.8 495.5,199.5 496,190.7 496,220.5 496.5,219.7 496.5,187.3 497,196 497,211.5 497.5,222.5 497.5,196.5 498,194.3 498,212.8 498.5,213.2 498.5,186.6 499,187.6 499,223.4 499.5,220.3 499.5,198.1 500,187.6 500,230.2 500.5,215.8 500.5,198.9 501,189.8 501,226.5 501.5,221 501.5,182.7 502,194.5 502,224.1 502.5,220.4 502.5,199.2 503,190 503,245.7 503.5,230.7 503.5,197.2 504,196.1 504,230.2 504.5,221.8 504.5,202.4 505,190.5 505,220.1 505.5,218.1 505.5,188.2 506,193 506,217.8 506.5,210 506.5,187.4 507,182.7 507,219.1 507.5,220.3 507.5,191.5 508,194.5 508,214.7 508.5,223.1 508.5,183.8 509,196.3 509,217.2 509.5,224.4 509.5,196.7 510,202.4 510,250 510.5,228.5 510.5,204.2 511,204.2 511,226.8 511.5,224.3 511.5,206.3 512,195.5 512,226.8 512.5,222.3 512.5,202.5 513,194.6 513,215.2 513.5,219.1 513.5,177.7 514,181.8 514,213.3 514.5,213.7 514.5,181.5 515,165.5 515,227.8 515.5,226.2 515.5,189 516,189.1 516,213 516.5,219.2 516.5,186.8 517,192.9 517,227.7 517.5,227.2 517.5,203.3 518,184.7 518,218.9 518.5,221.5 518.5,195.5 519,198.7 519,225.3 519.5,235.9 519.5,200.2 520,207 520,235.3 520.5,226.2 520.5,196 521,194.3 521,224.2 521.5,225.3 521.5,188.8 522,184.9 522,222.4 522.5,223 522.5,196.8 523,194.4 523,223 523.5,220.5 523.5,177.5 524,187.3 524,230.5 524.5,227.2 524.5,188.9 525,194.3 525,219.8 525.5,217.9 525.5,190.2 526,199.1 526,218.4 526.5,227.2 526.5,199.4 527,194.4 527,245.5 527.5,219.1 527.5,201.3 528,192.8 528,224.4 528.5,226.3 528.5,195.8 529,204.1 529,227 529.5,218.7 529.5,199.6 530,192.4 530,223.8 530.5,224.4 530.5,195.2 531,199.5 531,217.6 531.5,228.4 531.5,197.2 532,205.1 532,227.1 532.5,245.3 532.5,193.8 533,202.7 533,220.5 533.5,231.1 533.5,198.6 534,195.9 534,228.2 534.5,219.7 534.5,195.1 535,184.2 535,222.4 535.5,226 535.5,201.2 536,203.8 536,233.5 536.5,219.7 536.5,204.1 537,201.5 537,230.7 537.5,236.3 537.5,203.2 538,202.9 538,226 538.5,228.7 538.5,198.1 539,191.7 539,223.4 539.5,240.3 539.5,202.8 540,204.1 540,234.2 540.5,223.4 540.5,208.8 541,196.4 541,230.5 541.5,240.7 541.5,197.7 542,197.7 542,225.7 542.5,222.8 542.5,202.4 543,197.8 543,226.9 543.5,231 543.5,197.4 544,204.1 544,223.6 544.5,221.2 544.5,200.5 545,196.7 545,226.2 545.5,235.8 545.5,202 546,208.2 546,226.7 546.5,249.8 546.5,200.2 547,196.1 547,236 547.5,226.4 547.5,188.4 548,196.7 548,233.7 548.5,229.1 548.5,204.4 549,200.1 549,234.2 549.5,236.6 549.5,201.6 550,210.2 550,234.8 550.5,232.3 550.5,210.4 551,203.3 551,236.6 551.5,233.4 551.5,199.7 552,200.4 552,222.4 552.5,222.7 552.5,200.6 553,200.4 553,224.6 553.5,231.4 553.5,193.3 554,203 554,227 554.5,225.9 554.5,195.5 555,196.3 555,246.4 555.5,224.6 555.5,208.7 556,209 556,242 556.5,231.1 556.5,206.8 557,201.4 557,231.5 557.5,222.9 557.5,197.3 558,205.5 558,227.2 558.5,244.3 558.5,206.5 559,201.9 559,229.3 559.5,229 559.5,205 560,200.6 560,231.4 560.5,222.1 560.5,205.6 561,201.1 561,218.4 561.5,218.9 561.5,200.5 562,173 562,221.5 562.5,220.6 562.5,199 563,191.7 563,218.4 563.5,233.4 563.5,203.7 564,198.7 564,218.6 564.5,224.3 564.5,191.7 565,196.2 565,222.1 565.5,225.4 565.5,199.1 566,193.7 566,226.6 566.5,218 566.5,197.4 567,202.7 567,225.3 567.5,231.2 567.5,196.7 568,206.8 568,235.3 568.5,235.3 568.5,205.4 569,204.5 569,242.4 569.5,244.7 569.5,211.4 570,209.7 570,241.9 570.5,242.3 570.5,210.6 571,206.8 571,245.8 571.5,241.1 571.5,217.2 572,211.6 572,237.7 572.5,239.8 572.5,216.3 573,221.8 573,235.8 573.5,259.5 573.5,217.6 574,214.5 574,238 574.5,236.9 574.5,217.3 575,212 575,246.5 575.5,240.6 575.5,215 576,211.5 576,243.4 576.5,245.1 576.5,204.3 577,219.2 577,250.4 577.5,249.2 577.5,201.3 578,216.5 578,235.7 578.5,240.7 578.5,204.9 579,218 579,242.4 579.5,236.3 579.5,217.7 580,214.9 580,245.4 580.5,241.2 580.5,210.5 581,217.7 581,248.7 581.5,235.4 581.5,211.5 582,199.2 582,234.6 582.5,231.6 582.5,201.5 583,189 583,231.9 583.5,226.3 583.5,200.1 584,191.6 584,224.7 584.5,231 584.5,195.3 585,202.2 585,228.1 585.5,225.7 585.5,207.3 586,201.9 586,230.5 586.5,231.9 586.5,204 587,195.4 587,233 587.5,237.6 587.5,202.8 588,190.7 588,227.3 588.5,225.7 588.5,179.7 589,194 589,230.1 589.5,222.1 589.5,205.6 590,191.8 590,233.5 590.5,231 590.5,206.9 591,205 591,229.7 591.5,239.5 591.5,204.9 592,206.3 592,229.4 592.5,235.4 592.5,198 593,208.8 593,223.2 593.5,228.6 593.5,196.7 594,191.3 594,227.1 594.5,233.4 594.5,198.4 595,199.9 595,230.6 595.5,232.7 595.5,188.3 596,205.9 596,231.3 596.5,225.9 596.5,200.1 597,206.3 597,224.5 597.5,233.9 597.5,200.7 598,209.3 598,230.7 598.5,235.9 598.5,197.9 599,209.5 599,238.8 599.5,228.8 599.5,204.4 600,204.9 600,237 600.5,235.2 600.5,208.8 601,204.5 601,233.3 601.5,232.8 601.5,213.9 602,188.3 602,230 602.5,231.6 602.5,204.3 603,215 603,235 603.5,237.6 603.5,203.7 604,218.8 604,248.4 604.5,246.7 604.5,220.1 605,217.4 605,239.8 605.5,247.7 605.5,213.7 606,216.8 606,241.2 606.5,235.4 606.5,206.4 607,206.5 607,233 607.5,229 607.5,207.7 608,189 608,231.9 608.5,234.9 608.5,195.2 609,199.4 609,225.2 609.5,234.4 609.5,205 610,201 610,232.1 610.5,229.5 610.5,199.9 611,198.2 611,227.1 611.5,242.7 611.5,199.9 612,198.1 612,238.6 612.5,232.3 612.5,192.3 613,189.7 613,227 613.5,228.8 613.5,196.8 614,195.1 614,224.8 614.5,223.5 614.5,180.3 615,178.1 615,213.3 615.5,215.5 615.5,171.2 616,179 616,203 616.5,204 616.5,171.9 617,175.2 617,198.9 617.5,197 617.5,146.6 618,163.4 618,214.9 618.5,212.4 618.5,175.1 619,169.2 619,212.1 619.5,206.4 619.5,179 620,177.6 620,214.1 620.5,217.3 620.5,168.8 621,174.8 621,213.3 621.5,210.9 621.5,171.8 622,184.5 622,218.6 622.5,218.7 622.5,176.7 623,174.9 623,217.8 623.5,201.4 623.5,179.7 624,176.2 624,220.8 624.5,213.6 624.5,178.2 625,170.3 625,232.8 625.5,214.4 625.5,173.8 626,176.3 626,216.5 626.5,221.6 626.5,174.1 627,175.1 627,219.8 627.5,210.5 627.5,177.8 628,176.2 628,208.2 628.5,214.4 628.5,183.3 629,178.3 629,208.8 629.5,195.1 629.5,175.3 630,173.2 630,191.6 630.5,199.8 630.5,156.8 631,156.6 631,209.3 631.5,194.1 631.5,145.4 632,155.6 632,185.8 632.5,186.1 632.5,148.1 633,149.4 633,193.6 633.5,197.7 633.5,160.5 634,168.1 634,209.9 634.5,195.5 634.5,155.1 635,164.4 635,208.6 635.5,206.6 635.5,165.4 636,169.4 636,201.3 636.5,202.5 636.5,178.8 637,164.7 637,215.9 637.5,229.3 637.5,169.7 638,163.5 638,203.5 638.5,204.5 638.5,162.2 639,145.9 639,200.2 639.5,225.2 639.5,162.9 640,173.2 640,203 640.5,201.9 640.5,162.1 641,166.9 641,206.9 641.5,218 641.5,180.9 642,167.2 642,208.8 642.5,205.9 642.5,147.4 643,157.6 643,204.4 643.5,209.7 643.5,172.6 644,163.9 644,189.6 644.5,188.2 644.5,160.2 645,159.9 645,196.4 645.5,204.6 645.5,159.3 646,157.4 646,197.1 646.5,206.2 646.5,161 647,156.8 647,195.3 647.5,201.1 647.5,162.6 648,150.3 648,187.4 648.5,202.9 648.5,133.3 649,127.1 649,184 649.5,184.9 649.5,144.5 650,149.4 650,183 650.5,187.7 650.5,148.5 651,149.2 651,199.1 651.5,185.1 651.5,165.4 652,157.7 652,198.8 652.5,189 652.5,145.4 653,152.6 653,190.7 653.5,186.6 653.5,165.9 654,166.8 654,190.4 654.5,196.3 654.5,155.8 655,160.1 655,190.9 655.5,191.5 655.5,167.2 656,166.5 656,193.5 656.5,192.5 656.5,151.1 657,167.5 657,203.3 657.5,215.7 657.5,154.6 658,149.6 658,184.9 658.5,183.7 658.5,143.2 659,135.8 659,174 659.5,190.8 659.5,153.8 660,158.7 660,187.7 660.5,194.7 660.5,148.1 661,158.4 661,203.3 661.5,201.3 661.5,142.7 662,153.1 662,193.2 662.5,193.7 662.5,151.9 663,149.5 663,185.7 663.5,183.8 663.5,138.9 664,113.6 664,188 664.5,163.7 664.5,132.2 665,131 665,174 665.5,173.2 665.5,112.2 666,139.4 666,160.5 666.5,189.9 666.5,133.5 667,105.7 667,180.2 667.5,173.3 667.5,121.9 668,134.8 668,168.8 668.5,156.7 668.5,114.7 669,114.8 669,167.2 669.5,159.3 669.5,102.6 670,116.8 670,145.7 670.5,156.3 670.5,83.4 671,102.8 671,163.1 671.5,167.9 671.5,110.6 672,113.1 672,162.2 672.5,163.2 672.5,104 673,120.1 673,165 673.5,162.1 673.5,119.2 674,130.7 674,181.7 674.5,159.6 674.5,125.3 675,127.9 675,167.1 675.5,156.4 675.5,118.5 676,129.9 676,195.7 676.5,189.3 676.5,124.6 677,138.1 677,159.9 677.5,177.7 677.5,136.1 678,127.1 678,172.6 678.5,186.7 678.5,113.8 679,150.6 679,188.5 679.5,182.2 679.5,145.9 680,144.2 680,181.2 680.5,183.2 680.5,137.7 681,140.3 681,169.4 681.5,181.9 681.5,121.9 682,130.3 682,173.4 682.5,174.5 682.5,137.1 683,117.4 683,178.9 683.5,168.9 683.5,110.7 684,120.2 684,176.6 684.5,169.7 684.5,123.7 685,141.3 685,176.5 685.5,178.9 685.5,114 686,144.2 686,171.4 686.5,174 686.5,139.3 687,154.9 687,180.5 687.5,196.3 687.5,145.8 688,162.7 688,198.7 688.5,189.8 688.5,152.6 689,152.8 689,206 689.5,206.3 689.5,155.1 690,164 690,216.9 690.5,184.9 690.5,139.5 691,165.2 691,195.2 691.5,181.3 691.5,162.4 692,149 692,180.4 692.5,202 692.5,164.9 693,153.4 693,205.8 693.5,190.7 693.5,172.6 694,170.9 694,202.8 694.5,197.6 694.5,172.6 695,178.6 695,202.9 695.5,205.9 695.5,175.9 696,162.1 696,208.3 696.5,197.8 696.5,165 697,166.3 697,186.3 697.5,182.1 697.5,156.6 698,149.4 698,185.5 698.5,183.5 698.5,155.3 699,145 699,175.9 699.5,179.5 699.5,152.2 700,157.8 700,194.6 700.5,195.4 700.5,162.8 701,164.2 701,209.1 701.5,200.9 701.5,158 702,163.8 702,198 702.5,192.4 702.5,167.3 703,162.3 703,184.7 703.5,180.3 703.5,160.9 704,157.5 704,179.6 704.5,180.9 704.5,157.9 705,155 705,185.1 705.5,195 705.5,165.3 706,152.9 706,203.5" /></g><line x1="88.5" y1="256.10" x2="107.5" y2="256.10" stroke="#333" stroke-width="1.2"/><line x1="88.5" y1="179.00" x2="107.5" y2="179.00" stroke="#333" stroke-width="1.2"/><line x1="88.5" y1="101.90" x2="107.5" y2="101.90" stroke="#333" stroke-width="1.2"/><line x1="88.5" y1="294.65" x2="99.5" y2="294.65" stroke="#333" stroke-width="1.2"/><line x1="88.5" y1="217.55" x2="99.5" y2="217.55" stroke="#333" stroke-width="1.2"/><line x1="88.5" y1="140.45" x2="99.5" y2="140.45" stroke="#333" stroke-width="1.2"/><line x1="88.5" y1="63.35" x2="99.5" y2="63.35" stroke="#333" stroke-width="1.2"/><line x1="191.42" y1="333.2" x2="191.42" y2="314.2" stroke="#333" stroke-width="1.2"/><line x1="294.33" y1="333.2" x2="294.33" y2="314.2" stroke="#333" stroke-width="1.2"/><line x1="397.25" y1="333.2" x2="397.25" y2="314.2" stroke="#333" stroke-width="1.2"/><line x1="500.17" y1="333.2" x2="500.17" y2="314.2" stroke="#333" stroke-width="1.2"/><line x1="603.08" y1="333.2" x2="603.08" y2="314.2" stroke="#333" stroke-width="1.2"/><line x1="139.96" y1="333.2" x2="139.96" y2="322.2" stroke="#333" stroke-width="1.2"/><line x1="242.88" y1="333.2" x2="242.88" y2="322.2" stroke="#333" stroke-width="1.2"/><line x1="345.79" y1="333.2" x2="345.79" y2="322.2" stroke="#333" stroke-width="1.2"/><line x1="448.71" y1="333.2" x2="448.71" y2="322.2" stroke="#333" stroke-width="1.2"/><line x1="551.62" y1="333.2" x2="551.62" y2="322.2" stroke="#333" stroke-width="1.2"/><line x1="654.54" y1="333.2" x2="654.54" y2="322.2" stroke="#333" stroke-width="1.2"/><path d="M88.5,333.2 L88.5,24.8 L706.0,24.8" fill="none" stroke="#2a2a2a" stroke-width="1.6" stroke-linejoin="miter"/><path d="M87.7,333.2 L706.0,333.2 L706.0,24.0" fill="none" stroke="#2a2a2a" stroke-width="2.1" stroke-linejoin="miter"/><text transform="translate(79.50,343.10) scale(0.92,1)" text-anchor="end" font-size="31" font-family="Liberation Serif, serif">0</text><text transform="translate(79.50,266.00) scale(0.92,1)" text-anchor="end" font-size="31" font-family="Liberation Serif, serif">0.1</text><text transform="translate(79.50,188.90) scale(0.92,1)" text-anchor="end" font-size="31" font-family="Liberation Serif, serif">0.2</text><text transform="translate(79.50,111.80) scale(0.92,1)" text-anchor="end" font-size="31" font-family="Liberation Serif, serif">0.3</text><text transform="translate(79.50,34.70) scale(0.92,1)" text-anchor="end" font-size="31" font-family="Liberation Serif, serif">0.4</text><text transform="translate(89.50,368.90) scale(0.92,1)" text-anchor="middle" font-size="31" font-family="Liberation Serif, serif">0</text><text transform="translate(192.42,368.90) scale(0.92,1)" text-anchor="middle" font-size="31" font-family="Liberation Serif, serif">50</text><text transform="translate(295.33,368.90) scale(0.92,1)" text-anchor="middle" font-size="31" font-family="Liberation Serif, serif">100</text><text transform="translate(398.25,368.90) scale(0.92,1)" text-anchor="middle" font-size="31" font-family="Liberation Serif, serif">150</text><text transform="translate(501.17,368.90) scale(0.92,1)" text-anchor="middle" font-size="31" font-family="Liberation Serif, serif">200</text><text transform="translate(604.08,368.90) scale(0.92,1)" text-anchor="middle" font-size="31" font-family="Liberation Serif, serif">250</text><text transform="translate(707.00,368.90) scale(0.92,1)" text-anchor="middle" font-size="31" font-family="Liberation Serif, serif">300</text><text transform="translate(26.00,177.90) rotate(-90)" text-anchor="middle" font-size="32" font-family="Liberation Serif, serif">RMSD (nm)</text><text x="397.60" y="413.30" text-anchor="middle" font-size="32" font-family="Liberation Serif, serif">Time (ns)</text><text transform="translate(5.6,27.9) scale(1.09,1)" font-size="32.5" font-weight="bold" font-family="Liberation Sans, sans-serif">A</text><g clip-path="url(#clipB)"><polyline fill="none" stroke="#000000" stroke-width="1.0" stroke-linejoin="round" points="848.8,260.1 849.8,273.6 850.8,283.3 851.9,290.1 852.9,293.5 853.9,293.1 855,292.4 856,291.7 857,291.4 858,292.5 859.1,295 860.1,297.5 861.1,298.7 862.2,298.6 863.2,298.2 864.2,297.7 865.3,297.1 866.3,295.7 867.3,293.2 868.3,290.1 869.4,287.1 870.4,284.9 871.4,284 872.5,286.2 873.5,288.5 874.5,288.5 875.6,288.5 876.6,288.5 877.6,288.5 878.6,288 879.7,286.8 880.7,285.4 881.7,284 882.8,282.6 883.8,280.9 884.8,279.6 885.9,279 886.9,280.5 887.9,284 888.9,288.1 890,291.4 891,293.5 892,295.3 893.1,297 894.1,298.7 895.1,300.6 896.2,302.7 897.2,304.4 898.2,305 899.2,305 900.3,304.7 901.3,304.3 902.3,303.7 903.4,300.8 904.4,294.8 905.4,287.7 906.5,281.3 907.5,275.2 908.5,268.5 909.5,263.2 910.6,261.1 911.6,261.7 912.6,263.3 913.7,265.6 914.7,268.2 915.7,272.1 916.8,277.6 917.8,283.9 918.8,289.9 919.8,296.6 920.9,304.2 921.9,310.4 922.9,313 924,312.6 925,311.8 926,310.7 927.1,309.5 928.1,307.9 929.1,305.9 930.1,303.6 931.2,301.4 932.2,299.5 933.2,297.7 934.3,295.4 935.3,292.1 936.3,279.8 937.4,258 938.4,237.2 939.4,227.9 940.4,228.3 941.5,229.2 942.5,233.8 943.5,242.4 944.6,260.6 945.6,275.5 946.6,277.7 947.7,279 948.7,279.9 949.7,281.3 950.8,283.5 951.8,286.2 952.8,289.2 953.8,292.2 954.9,294.9 955.9,297.1 956.9,298.8 958,300.2 959,301.5 960,302.9 961,304.8 962.1,307 963.1,308.7 964.1,309.5 965.2,309.1 966.2,308.1 967.2,306.9 968.3,305.6 969.3,304.2 970.3,302.4 971.3,300.5 972.4,298.8 973.4,297.6 974.4,297.1 975.5,297.7 976.5,299.1 977.5,301 978.6,303 979.6,305 980.6,306.4 981.6,307.5 982.7,308.7 983.7,309.7 984.7,310.6 985.8,311.2 986.8,311.4 987.8,311.2 988.9,310.7 989.9,310.1 990.9,309.4 991.9,308.9 993,308.7 994,308.7 995,308.7 996.1,308.7 997.1,308.7 998.1,308.2 999.2,306.8 1000.2,305 1001.2,302.9 1002.2,299.8 1003.3,295.1 1004.3,289.8 1005.3,284.9 1006.4,281.2 1007.4,279.8 1008.4,280.8 1009.5,283.6 1010.5,287.4 1011.5,291.8 1012.5,296.2 1013.6,300 1014.6,303.8 1015.6,307.9 1016.7,311.2 1017.7,314 1018.7,313.1 1019.8,314 1020.8,313.5 1021.8,314.2 1022.8,313.3 1023.9,311.1 1024.9,312 1025.9,310.1 1027,308.4 1028,309.2 1029,306 1030.1,300.5 1031.1,294.6 1032.1,293.7 1033.1,292.4 1034.2,292.8 1035.2,295.1 1036.2,297 1037.3,299.6 1038.3,303.9 1039.3,298.6 1040.4,296.3 1041.4,296.5 1042.4,296.2 1043.5,299.4 1044.5,298.4 1045.5,299.1 1046.5,291.3 1047.6,287.8 1048.6,285.7 1049.6,285.1 1050.7,286.9 1051.7,284.3 1052.7,287 1053.8,284.8 1054.8,288.3 1055.8,291 1056.8,292.7 1057.9,294 1058.9,296.6 1059.9,295.3 1061,298.7 1062,299.2 1063,299.8 1064,300.7 1065.1,301.1 1066.1,303.5 1067.1,302.6 1068.2,307.4 1069.2,307.3 1070.2,308.4 1071.3,306.9 1072.3,310.1 1073.3,312 1074.3,310.7 1075.4,310.3 1076.4,310.6 1077.4,310.2 1078.5,310.3 1079.5,310.3 1080.5,312.3 1081.6,310.1 1082.6,310.4 1083.6,308.6 1084.6,306.3 1085.7,307.1 1086.7,300.5 1087.7,301 1088.8,299.5 1089.8,300.6 1090.8,300.1 1091.9,301.8 1092.9,303.4 1093.9,304.6 1094.9,306.5 1096,304.6 1097,306.2 1098,305.9 1099.1,304.4 1100.1,305.8 1101.1,303.5 1102.2,305.2 1103.2,303.1 1104.2,307.9 1105.2,305.3 1106.3,306.5 1107.3,305.6 1108.3,305.7 1109.4,308.2 1110.4,306 1111.4,303.8 1112.5,304.4 1113.5,308.1 1114.5,308.2 1115.5,306.7 1116.6,307.2 1117.6,308.9 1118.6,307.9 1119.7,308.7 1120.7,307.2 1121.7,306.9 1122.8,307.4 1123.8,302.1 1124.8,302.1 1125.8,305.1 1126.9,302.5 1127.9,306 1128.9,309.8 1130,308.6 1131,310 1132,310.8 1133.1,312 1133.3,313.6 1133.5,313.8 1133.7,313.9 1133.9,314 1134.1,314.1 1134.3,314.1 1134.5,313.9 1134.7,313.3 1134.9,312.3 1135.1,311.1 1135.3,309.7 1135.5,308.2 1135.7,306.7 1135.9,305.1 1136.2,303.7 1136.4,302.3 1136.6,301 1136.8,299.7 1137,298.3 1137.2,297 1137.4,295.6 1137.6,294.2 1137.8,292.7 1138,291.2 1138.2,289.6 1138.4,287.9 1138.6,286.1 1138.8,284.2 1139,282.2 1139.2,280.1 1139.4,277.8 1139.7,275.4 1139.9,272.8 1140.1,270 1140.3,267.1 1140.5,263 1140.7,257.3 1140.9,250.6 1141.1,243.5 1141.3,236.5 1141.5,230.3 1141.7,225.4 1141.9,221.5 1142.1,218 1142.3,214.8 1142.5,211.8 1142.7,208.9 1142.9,206.3 1143.2,203.7 1143.4,201.1 1143.6,198.6 1143.8,196.1 1144,193.4 1144.2,190.7 1144.4,187.9 1144.6,185.2 1144.8,182.5 1145,179.9 1145.2,177.3 1145.4,174.8 1145.6,172.2 1145.8,169.6 1146,166.9 1146.2,164.2 1146.4,161.4 1146.7,158.5 1146.9,155.5 1147.1,152.3 1147.3,149 1147.5,145 1147.7,140.1 1147.9,134.7 1148.1,129 1148.3,123.6 1148.5,118.7 1148.7,114.8 1148.9,112.2 1149.1,111.2 1149.3,111.8 1149.5,113.2 1149.7,115.2 1150,117.4 1150.2,119.8 1150.4,122.7 1150.6,126.1 1150.8,130 1151,134.3 1151.2,139 1151.4,144.1 1151.6,149.6 1151.8,155.3 1152,161.4 1152.2,168.7 1152.4,177.9 1152.6,188.1 1152.8,198.6 1153,208.7 1153.2,217.7 1153.5,225.9 1153.7,234.4 1153.9,242.9 1154.1,251.2 1154.3,259.2 1154.5,266.6 1154.7,273.3 1154.9,279.1 1155.1,283.7 1155.3,287.1 1155.5,289.7 1155.7,292.1 1155.9,294.4 1156.1,296.5 1156.3,298.4 1156.5,300.2 1156.8,301.7 1157,303.1 1157.2,304.3 1157.4,305.2 1157.6,305.9 1157.8,306.4 1158,306.8 1158.2,307.1 1158.4,307.4 1158.6,307.7 1158.8,308 1159,308.3 1159.2,308.6 1159.4,308.8 1159.6,309 1159.8,309.2 1160,309.4 1160.3,309.6 1160.5,309.8 1160.7,309.9 1160.9,310 1161.1,310.1 1161.3,310.2 1161.5,310.2 1161.7,310.2 1161.9,309.4 1162.1,309.2 1162.3,310.5 1162.5,311.2 1162.7,310.4 1162.9,312.8 1163.1,310 1163.3,311.3 1163.5,311.4 1163.8,310.5 1164,308.3 1165,310.5 1166,308.1 1167,308.4 1168.1,311.8 1169.1,308.4 1170.1,310.2 1171.2,311 1172.2,311 1173.2,311 1174.3,309.7 1175.3,311 1176.3,309.7 1177.3,307.6 1178.4,306.3 1179.4,305.9 1180.4,303.1 1181.5,303.7 1182.5,302.9 1183.5,303 1184.6,301.7 1185.6,300.3 1186.6,300.8 1187.7,292.9 1188.7,276.7 1189.7,262.5 1190.7,252.3 1191.8,256.7 1192.8,266.2 1193.8,278.7 1194.9,288.4 1195.9,291.7 1196.9,297.3 1197.9,298 1199,301 1200,300.1 1201,294.5 1202.1,289.3 1203.1,283.6 1204.1,282.2 1205.2,276.1 1206.2,277.5 1207.2,281.9 1208.2,284.5 1209.3,290.3 1210.3,292.5 1211.3,292.3 1212.4,293.6 1213.4,293.6 1214.4,294.3 1215.5,295.1 1216.5,297.9 1217.5,299 1218.5,300.4 1219.6,305.5 1220.6,304.6 1221.6,309.2 1222.7,308.7 1223.7,308.3 1224.7,307.3 1225.8,304.7 1226.8,305.9 1227.8,303.7 1228.8,304.2 1229.9,300.5 1230.9,302.8 1231.9,299.2 1233,299.7 1234,299 1235,298.9 1236.1,301 1237.1,298.3 1238.1,298.4 1239.2,301.7 1240.2,300.1 1241.2,288.9 1242.2,278.1 1243.3,277 1244.3,279.4 1245.3,280.8 1246.4,288.2 1247.4,288.1 1248.4,293.6 1249.4,293.9 1250.5,297.2 1251.5,300.7 1252.5,302.3 1253.6,303.5 1254.6,304.9 1255.6,305.1 1256.7,310 1257.7,309.6 1258.7,313.8 1259.8,311.7 1260.8,312.4 1261.8,312.1 1262.8,312.6 1263.9,313.8 1264.9,314.5 1265.9,315.6 1267,313.1 1268,313.6 1269,309.6 1270,308.7 1271.1,306.8 1272.1,306.7 1273.1,305.4 1274.2,306.8 1275.2,306.3 1276.2,304.5 1277.3,303.3 1278.3,297.6 1279.3,297.2 1280.3,293 1281.4,290.5 1282.4,286.5 1283.4,284.3 1284.5,280.8 1285.5,277.6 1286.5,276.5 1287.6,272.7 1288.6,271.8 1289.6,269.1 1290.7,266.4 1291.7,262.6 1292.7,260 1293.7,258.3 1294.8,258.5 1295.8,267.4 1296.8,273.2 1297.9,276 1298.9,277.5 1299.9,279.2 1300.9,277.9 1302,280.2 1303,283.1 1304,284.6 1305.1,283.4 1306.1,286.1 1307.1,288.7 1308.2,285.4 1309.2,284.7 1310.2,285.3 1311.2,288 1312.3,284.9 1313.3,281.9 1314.3,282.4 1315.4,282.3 1316.4,284.7 1317.4,284.2 1318.5,284 1319.5,286.9 1320.5,284.6 1321.5,285.6 1322.6,284.1 1323.6,284.4 1324.6,286.5 1325.7,284.7 1326.7,285.2 1327.7,288.8 1328.8,285.7 1329.8,287.8 1330.8,286.5 1331.8,291.3 1332.9,290.6 1333.9,291.9 1334.9,293.6 1336,293.3 1337,292.5 1338,297.6 1339.1,296.2 1340.1,299.9 1341.1,301.3 1342.2,302.4 1343.2,303.7 1344.2,309.6 1345.2,308.6 1346.3,309 1347.3,311.5 1348.3,309.4 1349.4,308.2 1350.4,310.3 1351.4,307.9 1352.4,311.1 1353.5,310.4 1354.5,309.4 1355.5,310.9 1356.6,311.4 1357.6,308.8 1358.6,309.6 1359.7,306.5 1360.7,310.3 1361.7,309.8 1362.8,306.9 1363.8,305.1 1364.8,306.4 1365.8,305.6 1366.9,304.5 1367.9,303.7 1368.9,300.1 1370,299.9 1371,300.4 1372,297.1 1373,292.7 1374.1,296.5 1375.1,295.9 1376.1,298.7 1377.2,301.8 1378.2,300 1379.2,298.6 1380.3,298 1381.3,297.5 1382.3,292.1 1383.3,291 1384.4,289.7 1385.4,289.9 1386.4,292.4 1387.5,292.2 1388.5,298.8 1389.5,296.6 1390.6,297.3 1391.6,297.9 1392.6,294.7 1393.7,292.8 1394.7,290.5 1395.7,289.2 1396.7,292.1 1397.8,289.4 1398.8,290.2 1399.8,293.4 1400.9,291.3 1401.9,290.6 1402.9,293.8 1403.9,299.3 1405,299.7 1406,288.1 1407,265.9 1408.1,229.2 1409.1,185.7 1410.1,149.9 1411.2,117" /><polyline fill="none" stroke="#ff0000" stroke-width="1.0" stroke-linejoin="round" points="848.8,245.6 849.8,268.9 850.8,279.4 851.9,278.6 852.9,277.6 853.9,277.4 855,277.2 856,277.1 857,277.1 858,278.8 859.1,282.5 860.1,286.2 861.1,287.9 862.2,287.6 863.2,287 864.2,286 865.3,284.8 866.3,282.1 867.3,277.2 868.3,271.3 869.4,265.7 870.4,261.4 871.4,259.7 872.5,264.2 873.5,269 874.5,269.7 875.6,270.1 876.6,270.4 877.6,270.5 878.6,268.3 879.7,262.9 880.7,256.1 881.7,249.7 882.8,242.7 883.8,234.5 884.8,227.8 885.9,225 886.9,230.2 887.9,242.3 888.9,255.8 890,265.5 891,271.3 892,276.7 893.1,281.7 894.1,286.2 895.1,290 896.2,293.2 897.2,295.6 898.2,297.1 899.2,298.2 900.3,298.7 901.3,297.4 902.3,294 903.4,289.2 904.4,283.7 905.4,278.4 906.5,274 907.5,269.8 908.5,265.2 909.5,260.8 910.6,256.9 911.6,254.2 912.6,253.2 913.7,254.9 914.7,258.2 915.7,262.8 916.8,269.5 917.8,277.5 918.8,286 919.8,294 920.9,300.7 921.9,305.4 922.9,307.2 924,306.8 925,305.8 926,304 927.1,301.6 928.1,298.6 929.1,294.9 930.1,290.5 931.2,285.6 932.2,271.4 933.2,256.6 934.3,251.2 935.3,248.1 936.3,246.6 937.4,245.5 938.4,244.7 939.4,243.7 940.4,242.4 941.5,241.6 942.5,246.9 943.5,255.3 944.6,261.6 945.6,266.8 946.6,270.3 947.7,273.1 948.7,275.6 949.7,278.4 950.8,281.6 951.8,285 952.8,288.3 953.8,291.4 954.9,294.5 955.9,296.4 956.9,296.6 958,296.8 959,296.9 960,297.1 961,298.2 962.1,300.2 963.1,302.1 964.1,302.9 965.2,302.6 966.2,301.8 967.2,300.9 968.3,300 969.3,299.1 970.3,298 971.3,296.9 972.4,295.9 973.4,295.2 974.4,294.9 975.5,295.6 976.5,297.2 977.5,299.5 978.6,301.9 979.6,304.1 980.6,305.7 981.6,306.9 982.7,308.1 983.7,309.1 984.7,310 985.8,310.6 986.8,310.8 987.8,310.7 988.9,310.5 989.9,310.1 990.9,309.7 991.9,309.2 993,308.7 994,308.1 995,307.4 996.1,306.6 997.1,305.7 998.1,304.9 999.2,304.1 1000.2,303 1001.2,301.4 1002.2,294 1003.3,280.2 1004.3,266.1 1005.3,258.2 1006.4,255.6 1007.4,253.5 1008.4,252.2 1009.5,251.7 1010.5,254.4 1011.5,261 1012.5,269.3 1013.6,276.9 1014.6,284.4 1015.6,292.7 1016.7,299.9 1017.7,304 1018.7,307.1 1019.8,309.3 1020.8,309.6 1021.8,310.5 1022.8,309.2 1023.9,310.2 1024.9,308.7 1025.9,306.2 1027,307.9 1028,306.2 1029,306.1 1030.1,305.7 1031.1,304.1 1032.1,304.2 1033.1,302.9 1034.2,304.5 1035.2,304.6 1036.2,305.3 1037.3,305.6 1038.3,305.8 1039.3,306.5 1040.4,305 1041.4,306.2 1042.4,303.9 1043.5,301 1044.5,302.5 1045.5,301 1046.5,298.7 1047.6,297.8 1048.6,300.5 1049.6,299.2 1050.7,299.1 1051.7,296 1052.7,300 1053.8,298.6 1054.8,300.1 1055.8,303.3 1056.8,304.8 1057.9,306.1 1058.9,306.1 1059.9,308.6 1061,307.6 1062,308.2 1063,308.8 1064,308.1 1065.1,308.7 1066.1,310.4 1067.1,311.1 1068.2,312.9 1069.2,312.5 1070.2,311.6 1071.3,311.6 1072.3,311.3 1073.3,312.8 1074.3,311.8 1075.4,311.2 1076.4,313 1077.4,311.5 1078.5,313 1079.5,311.2 1080.5,312.6 1081.6,309.7 1082.6,310.1 1083.6,309.9 1084.6,309.2 1085.7,307.4 1086.7,307.4 1087.7,307.3 1088.8,308.5 1089.8,307.6 1090.8,310.7 1091.9,308.2 1092.9,307.3 1093.9,309.6 1094.9,309.6 1096,308.5 1097,310.3 1098,310.6 1099.1,309.2 1100.1,306.9 1101.1,308.1 1102.2,307.5 1103.2,309.1 1104.2,309.4 1105.2,310.9 1106.3,309 1107.3,311.1 1108.3,307.6 1109.4,312.8 1110.4,308.8 1111.4,308.1 1112.5,311.5 1113.5,310.6 1114.5,307.5 1115.5,307.1 1116.6,310.8 1117.6,310.2 1118.6,309.1 1119.7,311.1 1120.7,309.1 1121.7,306.3 1122.8,308.3 1123.8,306 1124.8,306.5 1125.8,306.9 1126.9,305.8 1127.9,309.1 1128.9,308.4 1130,311 1131,310 1132,309.8 1133.1,309.7 1133.3,311.8 1133.5,311.9 1133.7,312 1133.9,312.1 1134.1,312.2 1134.3,312.2 1134.5,312 1134.7,311.5 1134.9,310.8 1135.1,309.8 1135.3,308.7 1135.5,307.5 1135.7,306.2 1135.9,304.9 1136.2,303.7 1136.4,302.5 1136.6,301.3 1136.8,300 1137,298.7 1137.2,297.3 1137.4,295.8 1137.6,294.4 1137.8,292.8 1138,291.2 1138.2,289.6 1138.4,287.9 1138.6,286.1 1138.8,284.3 1139,282.4 1139.2,280.5 1139.4,278.5 1139.7,276.4 1139.9,274.2 1140.1,272 1140.3,269.8 1140.5,267.2 1140.7,264.2 1140.9,261 1141.1,257.5 1141.3,253.8 1141.5,250.2 1141.7,246.5 1141.9,243.1 1142.1,239.9 1142.3,237 1142.5,234.2 1142.7,231.3 1142.9,228.4 1143.2,225.4 1143.4,222.4 1143.6,219.4 1143.8,216.5 1144,213.7 1144.2,211 1144.4,208.5 1144.6,206.3 1144.8,204.2 1145,202.5 1145.2,201.1 1145.4,200 1145.6,199.4 1145.8,199.2 1146,199.3 1146.2,199.7 1146.4,200.3 1146.7,201.2 1146.9,202.3 1147.1,203.6 1147.3,205.1 1147.5,206.8 1147.7,208.6 1147.9,210.6 1148.1,212.7 1148.3,215 1148.5,217.3 1148.7,219.7 1148.9,222.2 1149.1,224.8 1149.3,227.4 1149.5,230 1149.7,233.6 1150,238.1 1150.2,242 1150.4,244.8 1150.6,247.2 1150.8,249.5 1151,251.5 1151.2,253.4 1151.4,255.3 1151.6,257.2 1151.8,259.2 1152,261.5 1152.2,264 1152.4,266.9 1152.6,270.3 1152.8,274 1153,278 1153.2,281.9 1153.5,285.8 1153.7,289.4 1153.9,292.6 1154.1,295.2 1154.3,297.1 1154.5,298.7 1154.7,300.1 1154.9,301.4 1155.1,302.5 1155.3,303.4 1155.5,304.1 1155.7,304.5 1155.9,304.7 1156.1,304.9 1156.3,305.1 1156.5,305.2 1156.8,305.4 1157,305.5 1157.2,305.7 1157.4,305.8 1157.6,305.9 1157.8,306 1158,306.1 1158.2,306.2 1158.4,306.3 1158.6,306.4 1158.8,306.5 1159,306.6 1159.2,306.6 1159.4,306.7 1159.6,306.8 1159.8,306.8 1160,306.9 1160.3,306.9 1160.5,307 1160.7,307 1160.9,307.1 1161.1,307.1 1161.3,307.2 1161.5,307.2 1161.7,307.3 1161.9,308.2 1162.1,305 1162.3,308.7 1162.5,307.7 1162.7,309.6 1162.9,308.5 1163.1,307.8 1163.3,308.4 1163.5,309.7 1163.8,310 1164,309.8 1165,308.3 1166,307.7 1167,307.9 1168.1,309 1169.1,308.1 1170.1,310.2 1171.2,310.5 1172.2,307.7 1173.2,307.9 1174.3,308.8 1175.3,307.7 1176.3,307 1177.3,304.2 1178.4,309.2 1179.4,304.7 1180.4,302.4 1181.5,306.2 1182.5,302.6 1183.5,301.9 1184.6,300.4 1185.6,301.2 1186.6,301 1187.7,297.4 1188.7,285.1 1189.7,276.3 1190.7,272.4 1191.8,274.2 1192.8,274.6 1193.8,281.4 1194.9,286.4 1195.9,291.5 1196.9,297.5 1197.9,297.2 1199,300.4 1200,298.3 1201,296.3 1202.1,293.5 1203.1,291 1204.1,291.2 1205.2,285.3 1206.2,285.7 1207.2,289.5 1208.2,291.2 1209.3,291.6 1210.3,294.2 1211.3,292.1 1212.4,293.5 1213.4,293.1 1214.4,294.7 1215.5,295.5 1216.5,300.9 1217.5,300 1218.5,302.3 1219.6,305.3 1220.6,304.9 1221.6,305.7 1222.7,308.4 1223.7,307.8 1224.7,304.2 1225.8,304.9 1226.8,306.2 1227.8,304 1228.8,306.3 1229.9,303 1230.9,303.7 1231.9,301.9 1233,300.9 1234,301.5 1235,301.2 1236.1,303.1 1237.1,300.8 1238.1,300.1 1239.2,301.4 1240.2,298.7 1241.2,296.2 1242.2,291.9 1243.3,293.2 1244.3,296.2 1245.3,296.7 1246.4,298.7 1247.4,303.5 1248.4,303.9 1249.4,304.6 1250.5,306.2 1251.5,307.1 1252.5,306.9 1253.6,308.6 1254.6,308.1 1255.6,308.3 1256.7,312.8 1257.7,310.3 1258.7,311.7 1259.8,313.1 1260.8,314 1261.8,312.6 1262.8,313.4 1263.9,312.5 1264.9,313.5 1265.9,316.4 1267,312.9 1268,310.7 1269,309.4 1270,307.7 1271.1,306.2 1272.1,304.7 1273.1,305.1 1274.2,304.8 1275.2,304.2 1276.2,305.1 1277.3,302.6 1278.3,302.9 1279.3,300.3 1280.3,299.9 1281.4,300.9 1282.4,297.7 1283.4,294.8 1284.5,288.5 1285.5,275.7 1286.5,264.8 1287.6,259.2 1288.6,259.4 1289.6,263 1290.7,266.6 1291.7,264.1 1292.7,260.6 1293.7,254.9 1294.8,256.3 1295.8,263.8 1296.8,272.4 1297.9,278.6 1298.9,277.8 1299.9,279.1 1300.9,278.1 1302,282.9 1303,281.8 1304,283.7 1305.1,282.3 1306.1,284.7 1307.1,282.8 1308.2,279.9 1309.2,282.4 1310.2,282.3 1311.2,283.9 1312.3,282.3 1313.3,279.7 1314.3,280.1 1315.4,275.1 1316.4,268.8 1317.4,267.6 1318.5,265.2 1319.5,264.1 1320.5,261.3 1321.5,264.1 1322.6,262.6 1323.6,265.6 1324.6,274 1325.7,275.5 1326.7,281.8 1327.7,284.2 1328.8,283.7 1329.8,290.3 1330.8,291 1331.8,293.1 1332.9,290.3 1333.9,285.7 1334.9,279.5 1336,280.5 1337,287.4 1338,296.4 1339.1,296.7 1340.1,298.4 1341.1,303.4 1342.2,303 1343.2,303.6 1344.2,307.2 1345.2,307.8 1346.3,308.8 1347.3,310.2 1348.3,308.8 1349.4,307.8 1350.4,308.8 1351.4,309.9 1352.4,311.3 1353.5,309.8 1354.5,306.9 1355.5,309.7 1356.6,308.5 1357.6,308.9 1358.6,307.6 1359.7,309.4 1360.7,309.4 1361.7,309 1362.8,305.9 1363.8,305.6 1364.8,304 1365.8,305.7 1366.9,302.2 1367.9,304.7 1368.9,298.5 1370,298 1371,299.1 1372,298.7 1373,297.7 1374.1,298.8 1375.1,299.3 1376.1,298.8 1377.2,299.7 1378.2,300.2 1379.2,300.2 1380.3,299.6 1381.3,301.5 1382.3,296.3 1383.3,298.6 1384.4,300.9 1385.4,297.4 1386.4,298.3 1387.5,296.5 1388.5,298.2 1389.5,299.3 1390.6,300.5 1391.6,300 1392.6,298.7 1393.7,296.8 1394.7,297.5 1395.7,295.1 1396.7,296.4 1397.8,296.9 1398.8,298.5 1399.8,300.1 1400.9,301.5 1401.9,296 1402.9,299.4 1403.9,299.6 1405,298 1406,290 1407,271.7 1408.1,241.8 1409.1,206.1 1410.1,176.2 1411.2,148.2" /><polyline fill="none" stroke="#0000ff" stroke-width="1.0" stroke-linejoin="round" points="848.8,267.1 849.8,278.3 850.8,283.3 851.9,282.5 852.9,281.3 853.9,280.4 855,279.4 856,278.7 857,278.4 858,280.4 859.1,285.1 860.1,290 861.1,292.9 862.2,294 863.2,294.8 864.2,295.4 865.3,295.6 866.3,294.6 867.3,292.2 868.3,289.1 869.4,286 870.4,283.6 871.4,282.7 872.5,285 873.5,288.5 874.5,290.7 875.6,292.8 876.6,294.3 877.6,294.9 878.6,287.3 879.7,276.9 880.7,271.6 881.7,266.9 882.8,263.7 883.8,262.4 884.8,263.6 885.9,266.1 886.9,270.4 887.9,276.8 888.9,283.4 890,288.5 891,292.1 892,295.6 893.1,298.8 894.1,301.3 895.1,303.1 896.2,303.7 897.2,303.6 898.2,303.5 899.2,303.3 900.3,302.9 901.3,301 902.3,296.8 903.4,291.3 904.4,285.6 905.4,278 906.5,268.4 907.5,260.1 908.5,256.6 909.5,257.1 910.6,258.4 911.6,260.3 912.6,262.4 913.7,265.9 914.7,271.3 915.7,277.2 916.8,282.7 917.8,288.1 918.8,294.1 919.8,300 920.9,305.1 921.9,308.7 922.9,310.1 924,309.7 925,308.7 926,307.3 927.1,305.7 928.1,303.5 929.1,300.3 930.1,296.9 931.2,294.2 932.2,292.3 933.2,290.9 934.3,289.3 935.3,287.1 936.3,282.4 937.4,279 938.4,279.3 939.4,279.8 940.4,280.3 941.5,280.6 942.5,279.4 943.5,278.2 944.6,279.3 945.6,281.5 946.6,283.8 947.7,284.8 948.7,283.8 949.7,282.9 950.8,283.7 951.8,285.9 952.8,288.8 953.8,291.7 954.9,294.2 955.9,295.6 956.9,296.1 958,296.4 959,296.7 960,297.1 961,298.6 962.1,301.1 963.1,303.4 964.1,304.5 965.2,304.4 966.2,304.2 967.2,304 968.3,303.7 969.3,302.8 970.3,300.9 971.3,298.7 972.4,296.5 973.4,294.9 974.4,294.2 975.5,294.6 976.5,295.7 977.5,297.2 978.6,299 979.6,300.7 980.6,302.2 981.6,303.6 982.7,305.2 983.7,306.8 984.7,308.1 985.8,309.1 986.8,309.5 987.8,309.3 988.9,308.8 989.9,308.2 990.9,307.4 991.9,306.5 993,305.7 994,304.9 995,303.9 996.1,303 997.1,302.2 998.1,301.6 999.2,301.1 1000.2,300.7 1001.2,300.3 1002.2,299.6 1003.3,298.7 1004.3,294 1005.3,285 1006.4,276.3 1007.4,272.5 1008.4,273.9 1009.5,277.5 1010.5,282.5 1011.5,288 1012.5,293.2 1013.6,297.1 1014.6,300.2 1015.6,303.2 1016.7,305.6 1017.7,306.6 1018.7,307.7 1019.8,310.8 1020.8,309.9 1021.8,310 1022.8,309.1 1023.9,309.1 1024.9,307.7 1025.9,307.6 1027,307.1 1028,307.4 1029,305.8 1030.1,302.1 1031.1,302.7 1032.1,299.3 1033.1,295.9 1034.2,302.5 1035.2,299.6 1036.2,305.7 1037.3,302.5 1038.3,302.8 1039.3,302.8 1040.4,304.3 1041.4,304.1 1042.4,302.5 1043.5,299.6 1044.5,299.9 1045.5,297.3 1046.5,292.5 1047.6,290.8 1048.6,290.5 1049.6,289.8 1050.7,292.8 1051.7,286.8 1052.7,294 1053.8,288.5 1054.8,291.7 1055.8,294.5 1056.8,295.3 1057.9,296.2 1058.9,297.5 1059.9,298.8 1061,299.9 1062,299.2 1063,301.2 1064,300.1 1065.1,301.8 1066.1,304.2 1067.1,302.2 1068.2,303.3 1069.2,306.3 1070.2,305.2 1071.3,303 1072.3,307.1 1073.3,308.9 1074.3,307.5 1075.4,310.4 1076.4,311.7 1077.4,310.9 1078.5,310.9 1079.5,308.6 1080.5,309.6 1081.6,309.4 1082.6,311.5 1083.6,309.2 1084.6,307.6 1085.7,307.1 1086.7,303.4 1087.7,305 1088.8,302.5 1089.8,303.1 1090.8,306.7 1091.9,302.4 1092.9,305.4 1093.9,306 1094.9,306.4 1096,305.4 1097,306.1 1098,306 1099.1,302.4 1100.1,303.1 1101.1,304.2 1102.2,306.2 1103.2,303.3 1104.2,305.6 1105.2,305.8 1106.3,305.7 1107.3,304.3 1108.3,303.4 1109.4,303.4 1110.4,303 1111.4,303.1 1112.5,301.7 1113.5,303.3 1114.5,299.5 1115.5,299.9 1116.6,303.2 1117.6,305.3 1118.6,305.6 1119.7,309.8 1120.7,306.8 1121.7,305 1122.8,307.6 1123.8,304.6 1124.8,305.9 1125.8,307.8 1126.9,304.1 1127.9,308.3 1128.9,309.5 1130,309.8 1131,309 1132,310.2 1133.1,310.8 1133.3,311.8 1133.5,311.9 1133.7,312 1133.9,312.1 1134.1,312.2 1134.3,312.2 1134.5,312 1134.7,311.5 1134.9,310.8 1135.1,309.8 1135.3,308.7 1135.5,307.5 1135.7,306.2 1135.9,304.9 1136.2,303.7 1136.4,302.5 1136.6,301.3 1136.8,300.1 1137,298.9 1137.2,297.6 1137.4,296.3 1137.6,294.9 1137.8,293.5 1138,292 1138.2,290.4 1138.4,288.7 1138.6,286.9 1138.8,285 1139,282.9 1139.2,280.7 1139.4,278.3 1139.7,275.8 1139.9,273.1 1140.1,270.2 1140.3,267.1 1140.5,262.9 1140.7,257.2 1140.9,250.2 1141.1,242.4 1141.3,234.2 1141.5,225.8 1141.7,217.7 1141.9,209.5 1142.1,200.9 1142.3,192 1142.5,183 1142.7,173.4 1142.9,163.1 1143.2,152.6 1143.4,142.2 1143.6,132.6 1143.8,124.1 1144,117.4 1144.2,111.7 1144.4,106 1144.6,100.4 1144.8,95 1145,89.7 1145.2,84.7 1145.4,79.9 1145.6,75.4 1145.8,71.3 1146,67.7 1146.2,64.4 1146.4,61.7 1146.7,59.4 1146.9,57.8 1147.1,56.8 1147.3,56.4 1147.5,57.2 1147.7,59.5 1147.9,63 1148.1,67.5 1148.3,72.8 1148.5,78.6 1148.7,84.9 1148.9,91.2 1149.1,97.5 1149.3,103.5 1149.5,108.9 1149.7,113.6 1150,117.4 1150.2,120.4 1150.4,123.1 1150.6,125.6 1150.8,127.9 1151,130.1 1151.2,132.2 1151.4,134.3 1151.6,136.6 1151.8,138.9 1152,141.5 1152.2,144.4 1152.4,147.4 1152.6,150.4 1152.8,153.5 1153,156.7 1153.2,160 1153.5,163.5 1153.7,167.1 1153.9,170.9 1154.1,175 1154.3,179.4 1154.5,184.1 1154.7,189.1 1154.9,194.5 1155.1,200.3 1155.3,208.1 1155.5,218.6 1155.7,231 1155.9,244.1 1156.1,256.9 1156.3,268.5 1156.5,277.7 1156.8,283.6 1157,287.5 1157.2,291.1 1157.4,294.5 1157.6,297.6 1157.8,300.3 1158,302.7 1158.2,304.6 1158.4,306 1158.6,306.9 1158.8,307.2 1159,307.2 1159.2,307.2 1159.4,307.1 1159.6,307.1 1159.8,307.1 1160,307 1160.3,307 1160.5,307 1160.7,306.9 1160.9,306.9 1161.1,306.9 1161.3,306.8 1161.5,306.8 1161.7,306.8 1161.9,308.2 1162.1,304.3 1162.3,305 1162.5,309.4 1162.7,307.8 1162.9,308.7 1163.1,306.9 1163.3,307.8 1163.5,310.8 1163.8,306.5 1164,307.6 1165,310.2 1166,306.6 1167,307.2 1168.1,308.7 1169.1,306.1 1170.1,307.6 1171.2,304 1172.2,302.3 1173.2,303.3 1174.3,301.7 1175.3,301.9 1176.3,303.1 1177.3,305.1 1178.4,304.6 1179.4,304.9 1180.4,303.2 1181.5,304.2 1182.5,303.9 1183.5,302.2 1184.6,301.8 1185.6,303 1186.6,303.3 1187.7,296.6 1188.7,288.6 1189.7,280.8 1190.7,278.6 1191.8,277.5 1192.8,278.2 1193.8,283.5 1194.9,287.8 1195.9,288.7 1196.9,296.7 1197.9,299.1 1199,299.8 1200,299.1 1201,295.1 1202.1,293.8 1203.1,290.1 1204.1,289.1 1205.2,284.5 1206.2,284.3 1207.2,287.4 1208.2,288.2 1209.3,288.8 1210.3,292.1 1211.3,292.1 1212.4,292.2 1213.4,294.7 1214.4,296 1215.5,293.9 1216.5,297.7 1217.5,297.8 1218.5,302.6 1219.6,302.2 1220.6,306.6 1221.6,307.1 1222.7,307.3 1223.7,308.1 1224.7,307.5 1225.8,307.6 1226.8,307.6 1227.8,305.7 1228.8,303.7 1229.9,300.3 1230.9,299 1231.9,294.5 1233,291.2 1234,292.7 1235,294 1236.1,296.1 1237.1,296.1 1238.1,296.3 1239.2,299.7 1240.2,300.4 1241.2,300.5 1242.2,298.9 1243.3,300.3 1244.3,299.7 1245.3,301.8 1246.4,302.9 1247.4,303.5 1248.4,307.3 1249.4,307.1 1250.5,306 1251.5,308.8 1252.5,307.7 1253.6,308.2 1254.6,308.9 1255.6,309.6 1256.7,311.6 1257.7,309.9 1258.7,314.4 1259.8,313.8 1260.8,315.4 1261.8,311.4 1262.8,312.8 1263.9,313.1 1264.9,313.6 1265.9,315.9 1267,314.5 1268,311 1269,311 1270,305.5 1271.1,306.4 1272.1,305.6 1273.1,304.7 1274.2,304.8 1275.2,303.7 1276.2,300.9 1277.3,297.3 1278.3,298.2 1279.3,291.4 1280.3,284.2 1281.4,280.9 1282.4,272.8 1283.4,265.5 1284.5,261.5 1285.5,249.3 1286.5,242.1 1287.6,239.2 1288.6,239.2 1289.6,240.1 1290.7,238.4 1291.7,239.7 1292.7,231.9 1293.7,224.5 1294.8,230.8 1295.8,250.6 1296.8,268.6 1297.9,277.7 1298.9,277.8 1299.9,276.8 1300.9,277.1 1302,277.7 1303,282.9 1304,285.2 1305.1,291.1 1306.1,289.9 1307.1,290.7 1308.2,289.7 1309.2,290.8 1310.2,294.3 1311.2,290.5 1312.3,284.7 1313.3,276.1 1314.3,275.7 1315.4,274 1316.4,274.2 1317.4,278.3 1318.5,278.3 1319.5,279.2 1320.5,277.7 1321.5,277.3 1322.6,279.7 1323.6,283 1324.6,285.1 1325.7,285.5 1326.7,285.5 1327.7,288.2 1328.8,288.9 1329.8,291.5 1330.8,291.6 1331.8,291.5 1332.9,291.4 1333.9,292 1334.9,293.7 1336,294.4 1337,293.5 1338,296.6 1339.1,296 1340.1,300.8 1341.1,301.2 1342.2,300.2 1343.2,303.2 1344.2,307 1345.2,307.7 1346.3,310.6 1347.3,310.3 1348.3,308.6 1349.4,308.5 1350.4,310.2 1351.4,308 1352.4,312.2 1353.5,309.8 1354.5,309.6 1355.5,309.8 1356.6,310.5 1357.6,309.6 1358.6,307.6 1359.7,308.7 1360.7,310.4 1361.7,309.8 1362.8,306.3 1363.8,307.1 1364.8,307.9 1365.8,306.5 1366.9,304.2 1367.9,303 1368.9,298.8 1370,302 1371,295.3 1372,293 1373,287.6 1374.1,289.2 1375.1,290.1 1376.1,292.4 1377.2,298 1378.2,299.9 1379.2,299.2 1380.3,297.7 1381.3,301.3 1382.3,298.8 1383.3,298.8 1384.4,297.2 1385.4,295.9 1386.4,298.4 1387.5,296.4 1388.5,298.1 1389.5,297.1 1390.6,297.7 1391.6,299.3 1392.6,300.8 1393.7,302.4 1394.7,300.2 1395.7,296.4 1396.7,297.4 1397.8,300 1398.8,300.7 1399.8,300.6 1400.9,304.1 1401.9,297.1 1402.9,297.3 1403.9,302.8 1405,296.8 1406,290 1407,271.7 1408.1,241.8 1409.1,206.1 1410.1,176.2 1411.2,148.2" /><polyline fill="none" stroke="#008000" stroke-width="1.0" stroke-linejoin="round" points="848.8,264 849.8,277.3 850.8,283.3 851.9,282.7 852.9,282.1 853.9,282.2 855,282.7 856,283.3 857,284 858,286 859.1,289.1 860.1,292.1 861.1,293.5 862.2,293 863.2,291.9 864.2,290.3 865.3,288.5 866.3,285.7 867.3,281.4 868.3,276.6 869.4,272.1 870.4,268.7 871.4,267.4 872.5,271.6 873.5,276.3 874.5,277.4 875.6,278.3 876.6,278.8 877.6,279 878.6,277 879.7,272 880.7,265.6 881.7,259.7 882.8,253.3 883.8,245.9 884.8,239.9 885.9,237.3 886.9,241 887.9,249.5 888.9,259.3 890,266.8 891,271.4 892,275.3 893.1,278.9 894.1,282.7 895.1,287.4 896.2,292.7 897.2,297.1 898.2,299.3 899.2,299.8 900.3,300 901.3,298.9 902.3,296 903.4,291.9 904.4,287 905.4,281.9 906.5,277.1 907.5,271.5 908.5,266.8 909.5,264.1 910.6,261.9 911.6,260.3 912.6,259.7 913.7,262.2 914.7,266.8 915.7,272.4 916.8,279.5 917.8,286.8 918.8,292.9 919.8,298.3 920.9,303.7 921.9,307.8 922.9,309.5 924,308 925,304.6 926,300.5 927.1,297.1 928.1,294.9 929.1,293 930.1,291 931.2,288.5 932.2,285.3 933.2,281.6 934.3,277 935.3,271.3 936.3,261.2 937.4,246.7 938.4,232.9 939.4,225 940.4,222.1 941.5,220.8 942.5,232.9 943.5,249.7 944.6,258.2 945.6,263.2 946.6,264.8 947.7,265.7 948.7,266.5 949.7,268.2 950.8,275.1 951.8,282.9 952.8,286.8 953.8,290.4 954.9,293.6 955.9,296.4 956.9,298.8 958,300.6 959,302 960,302.9 961,303.5 962.1,304 963.1,304.3 964.1,304.5 965.2,304.5 966.2,304.5 967.2,304.5 968.3,304.5 969.3,303.9 970.3,302.4 971.3,300.4 972.4,298.5 973.4,297 974.4,296.4 975.5,296.8 976.5,297.9 977.5,299.4 978.6,301 979.6,302.5 980.6,303.7 981.6,304.6 982.7,305.6 983.7,306.5 984.7,307.2 985.8,307.8 986.8,307.9 987.8,307.7 988.9,307.2 989.9,306.5 990.9,305.8 991.9,305.3 993,305 994,305.6 995,306.9 996.1,308.1 997.1,308.7 998.1,307.9 999.2,305.8 1000.2,302.9 1001.2,299.8 1002.2,295.3 1003.3,288.7 1004.3,281.3 1005.3,274.5 1006.4,269.4 1007.4,267.4 1008.4,268.9 1009.5,272.8 1010.5,278.2 1011.5,284.2 1012.5,289.8 1013.6,294.2 1014.6,297.6 1015.6,300.9 1016.7,303.7 1017.7,305 1018.7,306.2 1019.8,308.4 1020.8,310.9 1021.8,307.7 1022.8,309.5 1023.9,311 1024.9,310.3 1025.9,305.4 1027,305.9 1028,307.1 1029,305.3 1030.1,303.6 1031.1,303.4 1032.1,303.7 1033.1,302.9 1034.2,303.2 1035.2,304.9 1036.2,309 1037.3,305.9 1038.3,310.4 1039.3,309 1040.4,305.8 1041.4,306.2 1042.4,304.4 1043.5,304 1044.5,302.2 1045.5,301.6 1046.5,299.9 1047.6,296.7 1048.6,300.4 1049.6,298.1 1050.7,295.2 1051.7,293 1052.7,297.3 1053.8,295.8 1054.8,297 1055.8,299.7 1056.8,302.5 1057.9,304.1 1058.9,305.9 1059.9,306.4 1061,306.9 1062,309.4 1063,309 1064,312.1 1065.1,310.9 1066.1,313.1 1067.1,312.2 1068.2,311 1069.2,313.3 1070.2,313.1 1071.3,311.2 1072.3,313.2 1073.3,312.8 1074.3,311.7 1075.4,312.5 1076.4,314.3 1077.4,312.5 1078.5,311.5 1079.5,311 1080.5,309.8 1081.6,308.6 1082.6,311.9 1083.6,308.5 1084.6,308.1 1085.7,306 1086.7,303.9 1087.7,306.2 1088.8,305.5 1089.8,305.9 1090.8,308.5 1091.9,306.6 1092.9,310.1 1093.9,307.6 1094.9,310.2 1096,309.1 1097,310 1098,309.7 1099.1,307.6 1100.1,307.2 1101.1,309.3 1102.2,307.2 1103.2,305 1104.2,309.4 1105.2,308.8 1106.3,305.1 1107.3,306.3 1108.3,305.7 1109.4,308.6 1110.4,307.4 1111.4,305.5 1112.5,306 1113.5,307.2 1114.5,307.4 1115.5,306.3 1116.6,308.3 1117.6,306.2 1118.6,307.2 1119.7,309.7 1120.7,307.9 1121.7,308.3 1122.8,307.9 1123.8,306.4 1124.8,307.7 1125.8,305.5 1126.9,307.2 1127.9,308.5 1128.9,310.8 1130,310.3 1131,309.6 1132,309.3 1133.1,312.6 1133.3,311.8 1133.5,311.9 1133.7,312 1133.9,312.1 1134.1,312.2 1134.3,312.2 1134.5,312 1134.7,311.5 1134.9,310.8 1135.1,309.8 1135.3,308.7 1135.5,307.5 1135.7,306.2 1135.9,304.9 1136.2,303.7 1136.4,302.5 1136.6,301.2 1136.8,300 1137,298.6 1137.2,297.2 1137.4,295.8 1137.6,294.3 1137.8,292.8 1138,291.1 1138.2,289.4 1138.4,287.6 1138.6,285.8 1138.8,283.8 1139,281.7 1139.2,279.6 1139.4,277.3 1139.7,274.9 1139.9,272.4 1140.1,269.8 1140.3,267.1 1140.5,263.7 1140.7,259.5 1140.9,254.7 1141.1,249.4 1141.3,244 1141.5,238.7 1141.7,233.7 1141.9,229.2 1142.1,225 1142.3,220.4 1142.5,215.7 1142.7,210.9 1142.9,206.3 1143.2,202.1 1143.4,198.2 1143.6,195 1143.8,192.5 1144,190.9 1144.2,190.3 1144.4,190.3 1144.6,190.4 1144.8,190.5 1145,190.7 1145.2,191 1145.4,191.3 1145.6,191.6 1145.8,192 1146,192.5 1146.2,193 1146.4,193.6 1146.7,194.2 1146.9,194.9 1147.1,195.6 1147.3,196.4 1147.5,197.3 1147.7,198.1 1147.9,199.1 1148.1,200.1 1148.3,201.1 1148.5,202.2 1148.7,203.4 1148.9,204.6 1149.1,206.6 1149.3,210.1 1149.5,214.6 1149.7,220 1150,225.9 1150.2,232.1 1150.4,238.1 1150.6,243.7 1150.8,248.5 1151,252.4 1151.2,255.6 1151.4,258.6 1151.6,261.4 1151.8,264.1 1152,266.7 1152.2,269.1 1152.4,271.5 1152.6,273.7 1152.8,275.8 1153,277.9 1153.2,279.9 1153.5,281.8 1153.7,283.6 1153.9,285.5 1154.1,287.2 1154.3,288.9 1154.5,290.6 1154.7,292.2 1154.9,293.7 1155.1,295.1 1155.3,296.4 1155.5,297.6 1155.7,298.7 1155.9,299.7 1156.1,300.8 1156.3,301.8 1156.5,302.8 1156.8,303.7 1157,304.5 1157.2,305.2 1157.4,305.8 1157.6,306.2 1157.8,306.4 1158,306.5 1158.2,306.6 1158.4,306.7 1158.6,306.7 1158.8,306.8 1159,306.8 1159.2,306.9 1159.4,306.9 1159.6,307 1159.8,307 1160,307 1160.3,307.1 1160.5,307.1 1160.7,307.1 1160.9,307.2 1161.1,307.2 1161.3,307.2 1161.5,307.3 1161.7,307.3 1161.9,308.8 1162.1,306.7 1162.3,307.5 1162.5,308.7 1162.7,306.9 1162.9,309 1163.1,307.9 1163.3,306.9 1163.5,307.7 1163.8,307.9 1164,309 1165,310.1 1166,307.5 1167,306 1168.1,307.4 1169.1,307.5 1170.1,309.1 1171.2,309.5 1172.2,308.8 1173.2,310.3 1174.3,308.8 1175.3,307 1176.3,308.3 1177.3,305.9 1178.4,308.2 1179.4,305.9 1180.4,304 1181.5,308.3 1182.5,306.2 1183.5,303.1 1184.6,302.8 1185.6,304.1 1186.6,303.7 1187.7,300.3 1188.7,291.1 1189.7,282.1 1190.7,281 1191.8,278.3 1192.8,283.1 1193.8,288.3 1194.9,289.4 1195.9,292.9 1196.9,298.2 1197.9,299.2 1199,302.2 1200,298.4 1201,300.8 1202.1,297.5 1203.1,293.6 1204.1,293.6 1205.2,289.6 1206.2,290.5 1207.2,291.6 1208.2,290.6 1209.3,293.4 1210.3,296.2 1211.3,295.4 1212.4,295.1 1213.4,297.2 1214.4,298.7 1215.5,297.8 1216.5,300.8 1217.5,302.9 1218.5,302.1 1219.6,305.9 1220.6,305.2 1221.6,307.7 1222.7,307.8 1223.7,305.8 1224.7,307.5 1225.8,304.9 1226.8,305.1 1227.8,302.8 1228.8,305.2 1229.9,303.2 1230.9,301.6 1231.9,301.3 1233,295.4 1234,299.3 1235,300.2 1236.1,300.4 1237.1,300.9 1238.1,304.6 1239.2,304.1 1240.2,304.9 1241.2,302.8 1242.2,301.2 1243.3,300.8 1244.3,300.2 1245.3,301.8 1246.4,305.5 1247.4,305.4 1248.4,306.7 1249.4,306.9 1250.5,307.3 1251.5,310.2 1252.5,308.6 1253.6,310.1 1254.6,309.9 1255.6,311.2 1256.7,312 1257.7,310.8 1258.7,312.8 1259.8,312.3 1260.8,313.9 1261.8,313.1 1262.8,312.9 1263.9,314.9 1264.9,314 1265.9,317.8 1267,316.2 1268,312.5 1269,311.4 1270,306.7 1271.1,307.5 1272.1,306.8 1273.1,307.6 1274.2,307.8 1275.2,306.7 1276.2,307.1 1277.3,305.7 1278.3,305.3 1279.3,305 1280.3,303.1 1281.4,303.8 1282.4,299.1 1283.4,297 1284.5,295.5 1285.5,289.6 1286.5,284.7 1287.6,278.2 1288.6,272.6 1289.6,270.1 1290.7,266.4 1291.7,260.9 1292.7,251.2 1293.7,247.8 1294.8,252.6 1295.8,260.5 1296.8,273.1 1297.9,277.2 1298.9,278.7 1299.9,280.4 1300.9,282.8 1302,280.3 1303,287.2 1304,288.3 1305.1,290.1 1306.1,294.2 1307.1,294 1308.2,293.7 1309.2,295.8 1310.2,299.2 1311.2,298.9 1312.3,298.2 1313.3,295.4 1314.3,299.5 1315.4,294.3 1316.4,295.4 1317.4,295.6 1318.5,296.9 1319.5,295.9 1320.5,293.2 1321.5,293.4 1322.6,294.9 1323.6,295.5 1324.6,296.3 1325.7,294.3 1326.7,294.6 1327.7,296 1328.8,294.8 1329.8,296.6 1330.8,295.9 1331.8,297.6 1332.9,297.3 1333.9,299.4 1334.9,300.7 1336,297.4 1337,297.9 1338,296.9 1339.1,297.7 1340.1,297.7 1341.1,302 1342.2,301.1 1343.2,302.7 1344.2,307.4 1345.2,308.3 1346.3,310.3 1347.3,309.5 1348.3,307.6 1349.4,308.6 1350.4,310.8 1351.4,309.6 1352.4,312.2 1353.5,312.3 1354.5,309.7 1355.5,310.1 1356.6,311 1357.6,307.8 1358.6,308.1 1359.7,308.6 1360.7,312.1 1361.7,309.8 1362.8,306.4 1363.8,308.5 1364.8,307.6 1365.8,303.1 1366.9,302.5 1367.9,303.4 1368.9,297.9 1370,299.9 1371,299.3 1372,299.1 1373,297 1374.1,298.3 1375.1,298.9 1376.1,299.9 1377.2,298.9 1378.2,302.9 1379.2,300.4 1380.3,300.1 1381.3,299.8 1382.3,298.9 1383.3,298.5 1384.4,299.1 1385.4,299.1 1386.4,300 1387.5,299.2 1388.5,303.9 1389.5,302.7 1390.6,305.1 1391.6,305.4 1392.6,303.7 1393.7,303.8 1394.7,301.2 1395.7,296.7 1396.7,299.5 1397.8,299.2 1398.8,302.4 1399.8,300.4 1400.9,300.4 1401.9,297.2 1402.9,296.3 1403.9,299.7 1405,297.6 1406,290 1407,271.7 1408.1,241.8 1409.1,206.1 1410.1,176.2 1411.2,148.2" /></g><line x1="832.3" y1="256.25" x2="851.3" y2="256.25" stroke="#333" stroke-width="1.2"/><line x1="832.3" y1="179.10" x2="851.3" y2="179.10" stroke="#333" stroke-width="1.2"/><line x1="832.3" y1="101.95" x2="851.3" y2="101.95" stroke="#333" stroke-width="1.2"/><line x1="832.3" y1="294.82" x2="843.3" y2="294.82" stroke="#333" stroke-width="1.2"/><line x1="832.3" y1="217.68" x2="843.3" y2="217.68" stroke="#333" stroke-width="1.2"/><line x1="832.3" y1="140.53" x2="843.3" y2="140.53" stroke="#333" stroke-width="1.2"/><line x1="832.3" y1="63.38" x2="843.3" y2="63.38" stroke="#333" stroke-width="1.2"/><line x1="935.30" y1="333.4" x2="935.30" y2="314.4" stroke="#333" stroke-width="1.2"/><line x1="1038.30" y1="333.4" x2="1038.30" y2="314.4" stroke="#333" stroke-width="1.2"/><line x1="1141.30" y1="333.4" x2="1141.30" y2="314.4" stroke="#333" stroke-width="1.2"/><line x1="1244.30" y1="333.4" x2="1244.30" y2="314.4" stroke="#333" stroke-width="1.2"/><line x1="1347.30" y1="333.4" x2="1347.30" y2="314.4" stroke="#333" stroke-width="1.2"/><line x1="883.80" y1="333.4" x2="883.80" y2="322.4" stroke="#333" stroke-width="1.2"/><line x1="986.80" y1="333.4" x2="986.80" y2="322.4" stroke="#333" stroke-width="1.2"/><line x1="1089.80" y1="333.4" x2="1089.80" y2="322.4" stroke="#333" stroke-width="1.2"/><line x1="1192.80" y1="333.4" x2="1192.80" y2="322.4" stroke="#333" stroke-width="1.2"/><line x1="1295.80" y1="333.4" x2="1295.80" y2="322.4" stroke="#333" stroke-width="1.2"/><line x1="1398.80" y1="333.4" x2="1398.80" y2="322.4" stroke="#333" stroke-width="1.2"/><path d="M832.3,333.4 L832.3,24.8 L1450.3,24.8" fill="none" stroke="#2a2a2a" stroke-width="1.6" stroke-linejoin="miter"/><path d="M831.5,333.4 L1450.3,333.4 L1450.3,24.0" fill="none" stroke="#2a2a2a" stroke-width="2.1" stroke-linejoin="miter"/><text transform="translate(823.50,343.30) scale(0.92,1)" text-anchor="end" font-size="31" font-family="Liberation Serif, serif">0</text><text transform="translate(823.50,266.15) scale(0.92,1)" text-anchor="end" font-size="31" font-family="Liberation Serif, serif">0.2</text><text transform="translate(823.50,189.00) scale(0.92,1)" text-anchor="end" font-size="31" font-family="Liberation Serif, serif">0.4</text><text transform="translate(823.50,111.85) scale(0.92,1)" text-anchor="end" font-size="31" font-family="Liberation Serif, serif">0.6</text><text transform="translate(823.50,34.70) scale(0.92,1)" text-anchor="end" font-size="31" font-family="Liberation Serif, serif">0.8</text><text transform="translate(833.30,368.90) scale(0.92,1)" text-anchor="middle" font-size="31" font-family="Liberation Serif, serif">0</text><text transform="translate(936.30,368.90) scale(0.92,1)" text-anchor="middle" font-size="31" font-family="Liberation Serif, serif">50</text><text transform="translate(1039.30,368.90) scale(0.92,1)" text-anchor="middle" font-size="31" font-family="Liberation Serif, serif">100</text><text transform="translate(1142.30,368.90) scale(0.92,1)" text-anchor="middle" font-size="31" font-family="Liberation Serif, serif">150</text><text transform="translate(1245.30,368.90) scale(0.92,1)" text-anchor="middle" font-size="31" font-family="Liberation Serif, serif">200</text><text transform="translate(1348.30,368.90) scale(0.92,1)" text-anchor="middle" font-size="31" font-family="Liberation Serif, serif">250</text><text transform="translate(1451.30,368.90) scale(0.92,1)" text-anchor="middle" font-size="31" font-family="Liberation Serif, serif">300</text><text transform="translate(770.90,178.00) rotate(-90)" text-anchor="middle" font-size="32" font-family="Liberation Serif, serif">RMSF (nm)</text><text x="1141.50" y="412.80" text-anchor="middle" font-size="32" font-family="Liberation Serif, serif">#Residue</text><text transform="translate(749.8,30.9) scale(0.95,1)" font-size="33" font-weight="bold" font-family="Liberation Sans, sans-serif">B</text><rect x="853.5" y="29" width="283.5" height="203.5" fill="#ffffff"/><g clip-path="url(#clipI)"><polyline fill="none" stroke="#000000" stroke-width="0.9" stroke-linejoin="round" points="884.7,149.3 885.5,148.2 886.2,147.4 887,146.9 887.8,146.5 888.6,146.3 889.3,146.2 890.1,146.1 890.9,146.1 891.7,146.6 892.4,147.8 893.2,149.6 894,151.6 894.8,153.6 895.5,155.4 896.3,156.6 897.1,157.1 897.9,157 898.6,156.9 899.4,156.7 900.2,156.4 901,156 901.7,155.6 902.5,155.2 903.3,154.8 904.1,154 904.8,152.7 905.6,150.9 906.4,148.8 907.2,146.6 907.9,144.3 908.7,142 909.5,139.8 910.3,137.9 911,136.5 911.8,135.5 912.6,135.1 913.4,136.2 914.1,138.5 914.9,140.7 915.7,141.8 916.5,141.8 917.2,141.8 918,141.8 918.8,141.8 919.6,141.8 920.3,141.8 921.1,141.8 921.9,141.8 922.7,141.6 923.4,141.1 924.2,140.3 925,139.3 925.8,138.3 926.5,137.2 927.3,136.1 928.1,135.1 928.9,134.1 929.6,133 930.4,131.7 931.2,130.5 932,129.4 932.7,128.5 933.5,127.9 934.3,127.6 935.1,128.2 935.8,129.9 936.6,132.3 937.4,135.2 938.2,138.2 938.9,141.3 939.7,144 940.5,146.1 941.3,147.8 942,149.3 942.8,150.7 943.6,152 944.4,153.3 945.1,154.6 945.9,155.8 946.7,157.1 947.4,158.5 948.2,160 949,161.6 949.8,163.1 950.5,164.5 951.3,165.6 952.1,166.3 952.9,166.6 953.6,166.6 954.4,166.5 955.2,166.3 956,166.1 956.7,165.8 957.5,165.4 958.3,165 959.1,164.6 959.8,163.2 960.6,160.3 961.4,156.2 962.2,151.3 962.9,146 963.7,140.6 964.5,135.5 965.3,131.1 966,126.8 966.8,121.9 967.6,116.9 968.4,112 969.1,107.6 969.9,104.1 970.7,101.7 971.5,100.8 972.2,101.1 973,101.7 973.8,102.8 974.6,104.1 975.3,105.8 976.1,107.6 976.9,109.5 977.7,111.5 978.4,114 979.2,117.2 980,121.2 980.8,125.5 981.5,130.2 982.3,134.9 983.1,139.5 983.9,143.9 984.6,148.6 985.4,154 986.2,159.7 987,165.3 987.7,170.4 988.5,174.6 989.3,177.4 990.1,178.4 990.8,178.3 991.6,177.9 992.4,177.4 993.2,176.7 993.9,175.9 994.7,175.1 995.5,174.1 996.3,173.2 997,172.2 997.8,170.9 998.6,169.5 999.4,167.9 1000.1,166.2 1000.9,164.5 1001.7,162.8 1002.5,161.1 1003.2,159.6 1004,158.3 1004.8,157 1005.6,155.6 1006.3,154.1 1007.1,152.2 1007.9,150 1008.6,147.3 1009.4,140.8 1010.2,128.8 1011,113.3 1011.7,96.2 1012.5,79.5 1013.3,65.1 1014.1,55 1014.8,51.2 1015.6,51.3 1016.4,51.7 1017.2,52.4 1017.9,53.2 1018.7,55.5 1019.5,60 1020.3,66 1021,72.8 1021.8,84.1 1022.6,100.1 1023.4,114.8 1024.1,122.5 1024.9,124.4 1025.7,125.8 1026.5,126.8 1027.2,127.6 1028,128.3 1028.8,129 1029.6,129.9 1030.3,131.1 1031.1,132.6 1031.9,134.4 1032.7,136.3 1033.4,138.5 1034.2,140.7 1035,142.9 1035.8,145.2 1036.5,147.4 1037.3,149.5 1038.1,151.5 1038.9,153.2 1039.6,154.8 1040.4,156.1 1041.2,157.2 1042,158.3 1042.7,159.3 1043.5,160.3 1044.3,161.3 1045.1,162.3 1045.8,163.4 1046.6,164.7 1047.4,166.2 1048.2,167.9 1048.9,169.5 1049.7,170.9 1050.5,172.1 1051.3,172.9 1052,173.2 1052.8,173.1 1053.6,172.6 1054.4,172 1055.1,171.2 1055.9,170.3 1056.7,169.3 1057.5,168.4 1058.2,167.5 1059,166.5 1059.8,165.3 1060.6,164 1061.3,162.7 1062.1,161.2 1062.9,159.8 1063.7,158.5 1064.4,157.3 1065.2,156.3 1066,155.5 1066.8,154.9 1067.5,154.8 1068.3,155 1069.1,155.6 1069.9,156.5 1070.6,157.6 1071.4,159 1072.2,160.5 1072.9,162 1073.7,163.6 1074.5,165.1 1075.3,166.5 1076,167.7 1076.8,168.6 1077.6,169.4 1078.4,170.3 1079.1,171.2 1079.9,172 1080.7,172.8 1081.5,173.6 1082.2,174.3 1083,174.9 1083.8,175.4 1084.6,175.8 1085.3,176 1086.1,176.1 1086.9,176 1087.7,175.8 1088.4,175.5 1089.2,175.1 1090,174.6 1090.8,174.1 1091.5,173.6 1092.3,173.1 1093.1,172.7 1093.9,172.4 1094.6,172.2 1095.4,172.1 1096.2,172.1 1097,172.1 1097.7,172.1 1098.5,172.1 1099.3,172.1 1100.1,172.1 1100.8,172.1 1101.6,172.1 1102.4,171.9 1103.2,171.3 1103.9,170.4 1104.7,169.3 1105.5,167.9 1106.3,166.5 1107,165 1107.8,163.4 1108.6,161.5 1109.4,158.7 1110.1,155.4 1110.9,151.7 1111.7,147.8 1112.5,143.8 1113.2,140 1114,136.4 1114.8,133.3 1115.6,130.9 1116.3,129.4 1117.1,128.8 1117.9,129.2 1118.7,130.4 1119.4,132.1 1120.2,134.4 1121,137.2 1121.8,140.2 1122.5,143.5 1123.3,146.8 1124.1,150.1 1124.9,153.4 1125.6,156.4 1126.4,159 1127.2,161.5 1128,163.9 1128.7,166.4 1129.5,168.8 1130.3,171.2 1131.1,173.6 1131.8,176 1132.6,178.4" /><polyline fill="none" stroke="#ff0000" stroke-width="0.9" stroke-linejoin="round" points="884.7,125.6 885.5,125.3 886.2,125.1 887,125 887.8,124.9 888.6,124.8 889.3,124.8 890.1,124.8 890.9,124.8 891.7,125.5 892.4,127.3 893.2,129.9 894,132.8 894.8,135.8 895.5,138.4 896.3,140.2 897.1,140.9 897.9,140.8 898.6,140.5 899.4,140.1 900.2,139.5 901,138.9 901.7,138.1 902.5,137.2 903.3,136.3 904.1,134.8 904.8,132.2 905.6,128.9 906.4,124.9 907.2,120.6 907.9,116.1 908.7,111.8 909.5,107.7 910.3,104.1 911,101.3 911.8,99.5 912.6,98.8 913.4,100.8 914.1,105.4 914.9,110.1 915.7,112.6 916.5,113.2 917.2,113.7 918,114.1 918.8,114.4 919.6,114.6 920.3,114.8 921.1,114.9 921.9,114.9 922.7,114.1 923.4,111.7 924.2,108.1 925,103.6 925.8,98.6 926.5,93.4 927.3,88.4 928.1,83.8 928.9,79 929.6,73.3 930.4,67.2 931.2,61.1 932,55.6 932.7,51 933.5,48 934.3,46.9 935.1,49 935.8,54.7 936.6,62.9 937.4,72.7 938.2,83 938.9,93 939.7,101.4 940.5,107.4 941.3,111.9 942,116.1 942.8,120.3 943.6,124.3 944.4,128.1 945.1,131.7 945.9,135.1 946.7,138.3 947.4,141.3 948.2,144.1 949,146.6 949.8,148.8 950.5,150.8 951.3,152.4 952.1,153.7 952.9,154.8 953.6,155.6 954.4,156.3 955.2,156.9 956,157.1 956.7,156.6 957.5,155.1 958.3,152.9 959.1,150 959.8,146.6 960.6,142.8 961.4,138.8 962.2,134.7 962.9,130.7 963.7,126.8 964.5,123.2 965.3,120.1 966,117.2 966.8,113.9 967.6,110.5 968.4,107.1 969.1,103.6 969.9,100.3 970.7,97.3 971.5,94.6 972.2,92.3 973,90.5 973.8,89.4 974.6,89 975.3,89.7 976.1,91.5 976.9,93.9 977.7,96.5 978.4,99.5 979.2,103.4 980,108.1 980.8,113.5 981.5,119.3 982.3,125.4 983.1,131.7 983.9,138 984.6,144.2 985.4,150 986.2,155.4 987,160.2 987.7,164.1 988.5,167.2 989.3,169.1 990.1,169.8 990.8,169.6 991.6,169.2 992.4,168.6 993.2,167.7 993.9,166.5 994.7,165.1 995.5,163.4 996.3,161.5 997,159.3 997.8,156.9 998.6,154.3 999.4,151.4 1000.1,148.2 1000.9,144.9 1001.7,141.3 1002.5,137.5 1003.2,129.4 1004,116.3 1004.8,103 1005.6,94.2 1006.3,89.7 1007.1,86.1 1007.9,83.3 1008.6,81.5 1009.4,80.2 1010.2,79.2 1011,78.3 1011.7,77.6 1012.5,76.9 1013.3,76.3 1014.1,75.6 1014.8,74.8 1015.6,73.9 1016.4,72.9 1017.2,72 1017.9,71.7 1018.7,74 1019.5,79.6 1020.3,86.3 1021,92.2 1021.8,96.9 1022.6,101.6 1023.4,105.9 1024.1,109.4 1024.9,112.2 1025.7,114.6 1026.5,116.8 1027.2,118.7 1028,120.6 1028.8,122.5 1029.6,124.5 1030.3,126.7 1031.1,129 1031.9,131.5 1032.7,134 1033.4,136.6 1034.2,139.1 1035,141.6 1035.8,143.9 1036.5,146.1 1037.3,148.4 1038.1,150.8 1038.9,152.7 1039.6,153.6 1040.4,153.9 1041.2,154 1042,154.1 1042.7,154.2 1043.5,154.3 1044.3,154.4 1045.1,154.5 1045.8,154.8 1046.6,155.3 1047.4,156.4 1048.2,157.8 1048.9,159.3 1049.7,160.9 1050.5,162.2 1051.3,163.1 1052,163.4 1052.8,163.3 1053.6,163 1054.4,162.4 1055.1,161.8 1055.9,161.1 1056.7,160.4 1057.5,159.7 1058.2,159 1059,158.4 1059.8,157.7 1060.6,156.9 1061.3,156 1062.1,155.2 1062.9,154.4 1063.7,153.6 1064.4,152.9 1065.2,152.3 1066,151.9 1066.8,151.6 1067.5,151.5 1068.3,151.7 1069.1,152.4 1069.9,153.5 1070.6,154.9 1071.4,156.5 1072.2,158.3 1072.9,160.1 1073.7,161.9 1074.5,163.7 1075.3,165.2 1076,166.6 1076.8,167.6 1077.6,168.5 1078.4,169.4 1079.1,170.3 1079.9,171.1 1080.7,171.9 1081.5,172.7 1082.2,173.4 1083,174 1083.8,174.5 1084.6,174.9 1085.3,175.1 1086.1,175.2 1086.9,175.2 1087.7,175.1 1088.4,174.9 1089.2,174.7 1090,174.5 1090.8,174.2 1091.5,173.9 1092.3,173.5 1093.1,173.2 1093.9,172.8 1094.6,172.4 1095.4,172.1 1096.2,171.7 1097,171.2 1097.7,170.7 1098.5,170.1 1099.3,169.6 1100.1,168.9 1100.8,168.3 1101.6,167.6 1102.4,167 1103.2,166.4 1103.9,165.8 1104.7,165.2 1105.5,164.4 1106.3,163.5 1107,162.5 1107.8,161.1 1108.6,157.4 1109.4,150.1 1110.1,140.4 1110.9,129.4 1111.7,118.4 1112.5,108.4 1113.2,100.7 1114,96.5 1114.8,94.5 1115.6,92.6 1116.3,90.9 1117.1,89.5 1117.9,88.4 1118.7,87.5 1119.4,87 1120.2,86.8 1121,87.9 1121.8,90.8 1122.5,95.3 1123.3,100.7 1124.1,106.8 1124.9,113.1 1125.6,119.1 1126.4,124.5 1127.2,129.4 1128,134.4 1128.7,139.5 1129.5,144.6 1130.3,149.7 1131.1,154.9 1131.8,160.2 1132.6,165.5" /><polyline fill="none" stroke="#0000ff" stroke-width="0.9" stroke-linejoin="round" points="884.7,131.1 885.5,129.6 886.2,128.5 887,127.7 887.8,127.2 888.6,126.9 889.3,126.7 890.1,126.7 890.9,126.7 891.7,127.5 892.4,129.7 893.2,132.9 894,136.7 894.8,140.5 895.5,144.1 896.3,146.8 897.1,148.4 897.9,149.2 898.6,150 899.4,150.7 900.2,151.3 901,151.8 901.7,152.1 902.5,152.4 903.3,152.5 904.1,152.1 904.8,151 905.6,149.4 906.4,147.4 907.2,145.2 907.9,142.8 908.7,140.4 909.5,138.1 910.3,136.1 911,134.6 911.8,133.5 912.6,133.1 913.4,134.2 914.1,136.7 914.9,139.5 915.7,141.8 916.5,143.4 917.2,145.1 918,146.7 918.8,148.2 919.6,149.5 920.3,150.6 921.1,151.2 921.9,151.5 922.7,148 923.4,140 924.2,131 925,124.5 925.8,120.4 926.5,116.5 927.3,112.9 928.1,109.6 928.9,106.8 929.6,104.7 930.4,103.3 931.2,102.8 932,103.3 932.7,104.6 933.5,106.4 934.3,108.3 935.1,111 935.8,114.7 936.6,119.3 937.4,124.3 938.2,129.4 938.9,134.3 939.7,138.5 940.5,141.8 941.3,144.5 942,147.2 942.8,149.9 943.6,152.5 944.4,154.9 945.1,157.2 945.9,159.3 946.7,161 947.4,162.5 948.2,163.6 949,164.3 949.8,164.6 950.5,164.6 951.3,164.5 952.1,164.4 952.9,164.3 953.6,164.1 954.4,163.9 955.2,163.7 956,163.4 956.7,162.5 957.5,160.6 958.3,157.7 959.1,154.2 959.8,150.2 960.6,146 961.4,141.6 962.2,137.5 962.9,132.5 963.7,126.1 964.5,119 965.3,111.8 966,105 966.8,99.4 967.6,95.6 968.4,94.2 969.1,94.4 969.9,94.9 970.7,95.7 971.5,96.8 972.2,98.1 973,99.6 973.8,101.2 974.6,102.8 975.3,105 976.1,108.1 976.9,111.9 977.7,116.1 978.4,120.5 979.2,125 980,129.2 980.8,133.1 981.5,137 982.3,141.2 983.1,145.6 983.9,150.2 984.6,154.7 985.4,159 986.2,163.1 987,166.7 987.7,169.8 988.5,172.1 989.3,173.6 990.1,174.1 990.8,174 991.6,173.6 992.4,172.9 993.2,172.1 993.9,171.1 994.7,170 995.5,168.8 996.3,167.6 997,166.2 997.8,164.2 998.6,161.9 999.4,159.5 1000.1,156.9 1000.9,154.5 1001.7,152.2 1002.5,150.4 1003.2,148.9 1004,147.6 1004.8,146.4 1005.6,145.4 1006.3,144.2 1007.1,143 1007.9,141.5 1008.6,139.8 1009.4,136.8 1010.2,132.7 1011,129.2 1011.7,127.6 1012.5,127.7 1013.3,128 1014.1,128.4 1014.8,128.8 1015.6,129.2 1016.4,129.6 1017.2,129.9 1017.9,130 1018.7,129.4 1019.5,128.2 1020.3,127 1021,126.5 1021.8,126.9 1022.6,128 1023.4,129.6 1024.1,131.4 1024.9,133.2 1025.7,134.8 1026.5,135.9 1027.2,136.3 1028,135.8 1028.8,134.9 1029.6,133.9 1030.3,133.4 1031.1,133.8 1031.9,134.7 1032.7,136.1 1033.4,137.9 1034.2,140 1035,142.2 1035.8,144.5 1036.5,146.7 1037.3,148.7 1038.1,150.4 1038.9,151.7 1039.6,152.5 1040.4,152.9 1041.2,153.2 1042,153.4 1042.7,153.6 1043.5,153.8 1044.3,154 1045.1,154.3 1045.8,154.8 1046.6,155.6 1047.4,157 1048.2,158.8 1048.9,160.7 1049.7,162.6 1050.5,164.2 1051.3,165.3 1052,165.7 1052.8,165.7 1053.6,165.6 1054.4,165.5 1055.1,165.4 1055.9,165.2 1056.7,165 1057.5,164.8 1058.2,164.6 1059,164.1 1059.8,163.2 1060.6,161.9 1061.3,160.5 1062.1,158.8 1062.9,157.1 1063.7,155.4 1064.4,153.8 1065.2,152.5 1066,151.4 1066.8,150.6 1067.5,150.4 1068.3,150.5 1069.1,151 1069.9,151.7 1070.6,152.6 1071.4,153.7 1072.2,154.9 1072.9,156.2 1073.7,157.5 1074.5,158.8 1075.3,160.1 1076,161.2 1076.8,162.3 1077.6,163.3 1078.4,164.4 1079.1,165.6 1079.9,166.8 1080.7,168 1081.5,169.2 1082.2,170.3 1083,171.2 1083.8,172 1084.6,172.7 1085.3,173.1 1086.1,173.2 1086.9,173.2 1087.7,173 1088.4,172.7 1089.2,172.3 1090,171.8 1090.8,171.3 1091.5,170.7 1092.3,170.1 1093.1,169.4 1093.9,168.8 1094.6,168.2 1095.4,167.6 1096.2,167 1097,166.4 1097.7,165.7 1098.5,164.9 1099.3,164.2 1100.1,163.5 1100.8,162.8 1101.6,162.3 1102.4,161.8 1103.2,161.4 1103.9,161 1104.7,160.7 1105.5,160.4 1106.3,160.1 1107,159.8 1107.8,159.4 1108.6,159 1109.4,158.5 1110.1,157.8 1110.9,157.1 1111.7,154.7 1112.5,150 1113.2,143.7 1114,136.6 1114.8,129.7 1115.6,123.6 1116.3,119.4 1117.1,117.8 1117.9,118.4 1118.7,119.9 1119.4,122.3 1120.2,125.4 1121,128.9 1121.8,132.9 1122.5,137 1123.3,141.1 1124.1,145.1 1124.9,148.8 1125.6,152.1 1126.4,154.8 1127.2,157 1128,159.2 1128.7,161.2 1129.5,163.2 1130.3,165 1131.1,166.7 1131.8,168.3 1132.6,169.8" /><polyline fill="none" stroke="#008000" stroke-width="0.9" stroke-linejoin="round" points="884.7,132.3 885.5,132.3 886.2,132.5 887,132.8 887.8,133.1 888.6,133.5 889.3,134 890.1,134.6 890.9,135.1 891.7,136.2 892.4,138 893.2,140.3 894,142.8 894.8,145.2 895.5,147.3 896.3,148.7 897.1,149.3 897.9,149.1 898.6,148.6 899.4,147.8 900.2,146.9 901,145.7 901.7,144.5 902.5,143.1 903.3,141.8 904.1,140 904.8,137.6 905.6,134.6 906.4,131.2 907.2,127.7 907.9,124 908.7,120.5 909.5,117.3 910.3,114.5 911,112.3 911.8,110.8 912.6,110.3 913.4,112.2 914.1,116.5 914.9,121 915.7,123.6 916.5,124.5 917.2,125.3 918,126 918.8,126.6 919.6,127 920.3,127.4 921.1,127.6 921.9,127.6 922.7,126.8 923.4,124.6 924.2,121.2 925,117.1 925.8,112.5 926.5,107.7 927.3,103 928.1,98.8 928.9,94.4 929.6,89.2 930.4,83.7 931.2,78.2 932,73.2 932.7,69.1 933.5,66.3 934.3,65.3 935.1,66.8 935.8,70.8 936.6,76.6 937.4,83.5 938.2,90.9 938.9,98.2 939.7,104.6 940.5,109.4 941.3,113 942,116.3 942.8,119.3 943.6,122.1 944.4,124.8 945.1,127.5 945.9,130.2 946.7,133.1 947.4,136.5 948.2,140.2 949,144.2 949.8,148.1 950.5,151.7 951.3,154.7 952.1,156.8 952.9,157.9 953.6,158.4 954.4,158.7 955.2,158.9 956,159 956.7,158.6 957.5,157.4 958.3,155.6 959.1,153.1 959.8,150.2 960.6,146.9 961.4,143.4 962.2,139.6 962.9,135.8 963.7,132 964.5,128.3 965.3,124.8 966,120.9 966.8,116.4 967.6,112.4 968.4,109.4 969.1,107.4 969.9,105.4 970.7,103.6 971.5,102 972.2,100.7 973,99.7 973.8,99 974.6,98.8 975.3,99.8 976.1,102.4 976.9,105.9 977.7,109.4 978.4,113.2 979.2,117.8 980,123 980.8,128.4 981.5,134 982.3,139.3 983.1,144.2 983.9,148.4 984.6,152.4 985.4,156.6 986.2,160.7 987,164.6 987.7,168 988.5,170.8 989.3,172.6 990.1,173.2 990.8,172.6 991.6,171.1 992.4,168.7 993.2,165.9 993.9,162.8 994.7,159.8 995.5,157 996.3,154.8 997,153 997.8,151.4 998.6,149.9 999.4,148.5 1000.1,147.1 1000.9,145.5 1001.7,143.8 1002.5,141.8 1003.2,139.5 1004,137.1 1004.8,134.4 1005.6,131.5 1006.3,128.2 1007.1,124.6 1007.9,120.6 1008.6,116.1 1009.4,109.8 1010.2,101 1011,90.5 1011.7,79.3 1012.5,68.4 1013.3,58.7 1014.1,51.2 1014.8,46.9 1015.6,44.5 1016.4,42.4 1017.2,41 1017.9,40.5 1018.7,46 1019.5,58.7 1020.3,73.2 1021,83.8 1021.8,90.5 1022.6,96.5 1023.4,101.2 1024.1,104 1024.9,105.4 1025.7,106.4 1026.5,107.1 1027.2,107.7 1028,108.3 1028.8,109 1029.6,110 1030.3,111.5 1031.1,115.3 1031.9,121.8 1032.7,128.6 1033.4,133.4 1034.2,136.4 1035,139.3 1035.8,142.1 1036.5,144.7 1037.3,147.2 1038.1,149.5 1038.9,151.7 1039.6,153.7 1040.4,155.5 1041.2,157.2 1042,158.7 1042.7,160 1043.5,161.1 1044.3,162.1 1045.1,162.9 1045.8,163.4 1046.6,163.9 1047.4,164.3 1048.2,164.7 1048.9,165 1049.7,165.3 1050.5,165.5 1051.3,165.7 1052,165.7 1052.8,165.7 1053.6,165.7 1054.4,165.7 1055.1,165.7 1055.9,165.7 1056.7,165.7 1057.5,165.7 1058.2,165.7 1059,165.5 1059.8,164.8 1060.6,163.8 1061.3,162.6 1062.1,161.2 1062.9,159.7 1063.7,158.2 1064.4,156.7 1065.2,155.5 1066,154.5 1066.8,153.8 1067.5,153.6 1068.3,153.8 1069.1,154.2 1069.9,154.9 1070.6,155.9 1071.4,156.9 1072.2,158.1 1072.9,159.3 1073.7,160.5 1074.5,161.7 1075.3,162.8 1076,163.8 1076.8,164.6 1077.6,165.3 1078.4,166 1079.1,166.7 1079.9,167.4 1080.7,168.1 1081.5,168.7 1082.2,169.3 1083,169.9 1083.8,170.3 1084.6,170.6 1085.3,170.8 1086.1,170.9 1086.9,170.8 1087.7,170.6 1088.4,170.2 1089.2,169.8 1090,169.3 1090.8,168.8 1091.5,168.2 1092.3,167.7 1093.1,167.3 1093.9,166.9 1094.6,166.7 1095.4,166.6 1096.2,166.8 1097,167.4 1097.7,168.3 1098.5,169.3 1099.3,170.3 1100.1,171.2 1100.8,171.8 1101.6,172.1 1102.4,171.8 1103.2,170.9 1103.9,169.5 1104.7,167.7 1105.5,165.7 1106.3,163.4 1107,161.1 1107.8,158.8 1108.6,155.9 1109.4,152 1110.1,147.4 1110.9,142.2 1111.7,136.7 1112.5,131.1 1113.2,125.8 1114,120.9 1114.8,116.6 1115.6,113.3 1116.3,111.1 1117.1,110.3 1117.9,110.9 1118.7,112.6 1119.4,115.1 1120.2,118.4 1121,122.3 1121.8,126.5 1122.5,130.9 1123.3,135.4 1124.1,139.8 1124.9,143.8 1125.6,147.4 1126.4,150.4 1127.2,152.9 1128,155.3 1128.7,157.7 1129.5,159.9 1130.3,162 1131.1,164 1131.8,165.9 1132.6,167.6" /></g><line x1="884.7" y1="151.30" x2="890.2" y2="151.30" stroke="#333" stroke-width="1"/><line x1="884.7" y1="93.60" x2="890.2" y2="93.60" stroke="#333" stroke-width="1"/><line x1="884.7" y1="180.15" x2="887.7" y2="180.15" stroke="#333" stroke-width="1"/><line x1="884.7" y1="122.45" x2="887.7" y2="122.45" stroke="#333" stroke-width="1"/><line x1="884.7" y1="64.75" x2="887.7" y2="64.75" stroke="#333" stroke-width="1"/><line x1="915.69" y1="209.0" x2="915.69" y2="204.5" stroke="#333" stroke-width="1"/><line x1="946.67" y1="209.0" x2="946.67" y2="204.5" stroke="#333" stroke-width="1"/><line x1="977.66" y1="209.0" x2="977.66" y2="204.5" stroke="#333" stroke-width="1"/><line x1="1008.65" y1="209.0" x2="1008.65" y2="204.5" stroke="#333" stroke-width="1"/><line x1="1039.64" y1="209.0" x2="1039.64" y2="204.5" stroke="#333" stroke-width="1"/><line x1="1070.62" y1="209.0" x2="1070.62" y2="204.5" stroke="#333" stroke-width="1"/><line x1="1101.61" y1="209.0" x2="1101.61" y2="204.5" stroke="#333" stroke-width="1"/><line x1="900.19" y1="209.0" x2="900.19" y2="206.5" stroke="#333" stroke-width="1"/><line x1="931.18" y1="209.0" x2="931.18" y2="206.5" stroke="#333" stroke-width="1"/><line x1="962.17" y1="209.0" x2="962.17" y2="206.5" stroke="#333" stroke-width="1"/><line x1="993.16" y1="209.0" x2="993.16" y2="206.5" stroke="#333" stroke-width="1"/><line x1="1024.14" y1="209.0" x2="1024.14" y2="206.5" stroke="#333" stroke-width="1"/><line x1="1055.13" y1="209.0" x2="1055.13" y2="206.5" stroke="#333" stroke-width="1"/><line x1="1086.12" y1="209.0" x2="1086.12" y2="206.5" stroke="#333" stroke-width="1"/><line x1="1117.11" y1="209.0" x2="1117.11" y2="206.5" stroke="#333" stroke-width="1"/><rect x="884.7" y="35.9" width="247.9" height="173.1" fill="none" stroke="#222" stroke-width="1.3"/><text x="883.20" y="213.00" text-anchor="end" font-size="11.3" stroke="#000" stroke-width="0.15" font-family="Liberation Serif, serif">0</text><text x="883.20" y="155.30" text-anchor="end" font-size="11.3" stroke="#000" stroke-width="0.15" font-family="Liberation Serif, serif">0.1</text><text x="883.20" y="97.60" text-anchor="end" font-size="11.3" stroke="#000" stroke-width="0.15" font-family="Liberation Serif, serif">0.2</text><text x="883.20" y="39.90" text-anchor="end" font-size="11.3" stroke="#000" stroke-width="0.15" font-family="Liberation Serif, serif">0.3</text><text x="884.70" y="219.8" text-anchor="middle" font-size="11.3" stroke="#000" stroke-width="0.15" font-family="Liberation Serif, serif">10</text><text x="915.69" y="219.8" text-anchor="middle" font-size="11.3" stroke="#000" stroke-width="0.15" font-family="Liberation Serif, serif">20</text><text x="946.67" y="219.8" text-anchor="middle" font-size="11.3" stroke="#000" stroke-width="0.15" font-family="Liberation Serif, serif">30</text><text x="977.66" y="219.8" text-anchor="middle" font-size="11.3" stroke="#000" stroke-width="0.15" font-family="Liberation Serif, serif">40</text><text x="1008.65" y="219.8" text-anchor="middle" font-size="11.3" stroke="#000" stroke-width="0.15" font-family="Liberation Serif, serif">50</text><text x="1039.64" y="219.8" text-anchor="middle" font-size="11.3" stroke="#000" stroke-width="0.15" font-family="Liberation Serif, serif">60</text><text x="1070.62" y="219.8" text-anchor="middle" font-size="11.3" stroke="#000" stroke-width="0.15" font-family="Liberation Serif, serif">70</text><text x="1101.61" y="219.8" text-anchor="middle" font-size="11.3" stroke="#000" stroke-width="0.15" font-family="Liberation Serif, serif">80</text><text x="1132.60" y="219.8" text-anchor="middle" font-size="11.3" stroke="#000" stroke-width="0.15" font-family="Liberation Serif, serif">90</text><text transform="translate(865.6,122) rotate(-90)" text-anchor="middle" font-size="10.6" stroke="#000" stroke-width="0.3" font-family="Liberation Serif, serif">RMSF (NM)</text><text x="1008.7" y="228.6" text-anchor="middle" font-size="10.6" stroke="#000" stroke-width="0.3" font-family="Liberation Serif, serif">#Residue</text><polyline fill="none" stroke="#000000" stroke-width="1.2" stroke-linejoin="round" points="89.3,747 243.9,741.8 398.4,443.6 552.9,747 707.5,747" /><polyline fill="none" stroke="#ff0000" stroke-width="1.2" stroke-linejoin="round" points="89.3,747 243.9,706 398.4,488.7 552.9,738.4 707.5,747" /><polyline fill="none" stroke="#0000ff" stroke-width="1.2" stroke-linejoin="round" points="89.3,747 243.9,687.1 398.4,565.9 552.9,680.3 707.5,747" /><polyline fill="none" stroke="#008000" stroke-width="1.2" stroke-linejoin="round" points="89.3,747 243.9,661.2 398.4,536.2 552.9,735.3 707.5,747" /><line x1="89.3" y1="685.28" x2="108.3" y2="685.28" stroke="#333" stroke-width="1.2"/><line x1="89.3" y1="623.56" x2="108.3" y2="623.56" stroke="#333" stroke-width="1.2"/><line x1="89.3" y1="561.84" x2="108.3" y2="561.84" stroke="#333" stroke-width="1.2"/><line x1="89.3" y1="500.12" x2="108.3" y2="500.12" stroke="#333" stroke-width="1.2"/><line x1="89.3" y1="716.14" x2="100.3" y2="716.14" stroke="#333" stroke-width="1.2"/><line x1="89.3" y1="654.42" x2="100.3" y2="654.42" stroke="#333" stroke-width="1.2"/><line x1="89.3" y1="592.70" x2="100.3" y2="592.70" stroke="#333" stroke-width="1.2"/><line x1="89.3" y1="530.98" x2="100.3" y2="530.98" stroke="#333" stroke-width="1.2"/><line x1="89.3" y1="469.26" x2="100.3" y2="469.26" stroke="#333" stroke-width="1.2"/><line x1="243.85" y1="747.0" x2="243.85" y2="728.0" stroke="#333" stroke-width="1.2"/><line x1="398.40" y1="747.0" x2="398.40" y2="728.0" stroke="#333" stroke-width="1.2"/><line x1="552.95" y1="747.0" x2="552.95" y2="728.0" stroke="#333" stroke-width="1.2"/><line x1="166.57" y1="747.0" x2="166.57" y2="736.0" stroke="#333" stroke-width="1.2"/><line x1="321.12" y1="747.0" x2="321.12" y2="736.0" stroke="#333" stroke-width="1.2"/><line x1="475.68" y1="747.0" x2="475.68" y2="736.0" stroke="#333" stroke-width="1.2"/><line x1="630.22" y1="747.0" x2="630.22" y2="736.0" stroke="#333" stroke-width="1.2"/><path d="M89.3,747.0 L89.3,438.4 L707.5,438.4" fill="none" stroke="#2a2a2a" stroke-width="1.6" stroke-linejoin="miter"/><path d="M88.5,747.0 L707.5,747.0 L707.5,437.59999999999997" fill="none" stroke="#2a2a2a" stroke-width="2.1" stroke-linejoin="miter"/><text transform="translate(81.30,757.50) scale(0.92,1)" text-anchor="end" font-size="31" font-family="Liberation Serif, serif">0</text><text transform="translate(81.30,695.78) scale(0.92,1)" text-anchor="end" font-size="31" font-family="Liberation Serif, serif">2</text><text transform="translate(81.30,634.06) scale(0.92,1)" text-anchor="end" font-size="31" font-family="Liberation Serif, serif">4</text><text transform="translate(81.30,572.34) scale(0.92,1)" text-anchor="end" font-size="31" font-family="Liberation Serif, serif">6</text><text transform="translate(81.30,510.62) scale(0.92,1)" text-anchor="end" font-size="31" font-family="Liberation Serif, serif">8</text><text transform="translate(81.30,448.90) scale(0.92,1)" text-anchor="end" font-size="31" font-family="Liberation Serif, serif">10</text><text transform="translate(90.30,783.30) scale(0.92,1)" text-anchor="middle" font-size="31" font-family="Liberation Serif, serif">0</text><text transform="translate(244.85,783.30) scale(0.92,1)" text-anchor="middle" font-size="31" font-family="Liberation Serif, serif">0.1</text><text transform="translate(399.40,783.30) scale(0.92,1)" text-anchor="middle" font-size="31" font-family="Liberation Serif, serif">0.2</text><text transform="translate(553.95,783.30) scale(0.92,1)" text-anchor="middle" font-size="31" font-family="Liberation Serif, serif">0.3</text><text transform="translate(708.50,783.30) scale(0.92,1)" text-anchor="middle" font-size="31" font-family="Liberation Serif, serif">0.4</text><text transform="translate(33.00,592.00) rotate(-90)" text-anchor="middle" font-size="32" font-family="Liberation Serif, serif">PDF</text><text x="398.20" y="828.30" text-anchor="middle" font-size="32" font-family="Liberation Serif, serif">RMSD (nm)</text><polyline fill="none" stroke="#000000" stroke-width="1.2" stroke-linejoin="round" points="837.6,741.8 940.5,470.3 1043.3,724.2 1146.2,738.7 1249,741.8 1351.8,742.4 1454.7,741.8" /><polyline fill="none" stroke="#ff0000" stroke-width="1.2" stroke-linejoin="round" points="837.6,743.3 940.5,500.5 1043.3,692.4 1146.2,734.7 1249,741.8 1351.8,742.4 1454.7,741.8" /><polyline fill="none" stroke="#008000" stroke-width="1.2" stroke-linejoin="round" points="837.6,738.7 940.5,486.6 1043.3,711.2 1146.2,735.3 1249,741.8 1351.8,742.4 1454.7,742.1" /><polyline fill="none" stroke="#0000ff" stroke-width="1.2" stroke-linejoin="round" points="837.6,743.3 940.5,470.3 1043.3,720.5 1146.2,738.7 1249,741.8 1351.8,740.2 1454.7,741.8" /><line x1="837.6" y1="681.60" x2="856.6" y2="681.60" stroke="#333" stroke-width="1.2"/><line x1="837.6" y1="619.90" x2="856.6" y2="619.90" stroke="#333" stroke-width="1.2"/><line x1="837.6" y1="558.20" x2="856.6" y2="558.20" stroke="#333" stroke-width="1.2"/><line x1="837.6" y1="496.50" x2="856.6" y2="496.50" stroke="#333" stroke-width="1.2"/><line x1="837.6" y1="712.45" x2="848.6" y2="712.45" stroke="#333" stroke-width="1.2"/><line x1="837.6" y1="650.75" x2="848.6" y2="650.75" stroke="#333" stroke-width="1.2"/><line x1="837.6" y1="589.05" x2="848.6" y2="589.05" stroke="#333" stroke-width="1.2"/><line x1="837.6" y1="527.35" x2="848.6" y2="527.35" stroke="#333" stroke-width="1.2"/><line x1="837.6" y1="465.65" x2="848.6" y2="465.65" stroke="#333" stroke-width="1.2"/><line x1="940.45" y1="743.3" x2="940.45" y2="724.3" stroke="#333" stroke-width="1.2"/><line x1="1043.30" y1="743.3" x2="1043.30" y2="724.3" stroke="#333" stroke-width="1.2"/><line x1="1146.15" y1="743.3" x2="1146.15" y2="724.3" stroke="#333" stroke-width="1.2"/><line x1="1249.00" y1="743.3" x2="1249.00" y2="724.3" stroke="#333" stroke-width="1.2"/><line x1="1351.85" y1="743.3" x2="1351.85" y2="724.3" stroke="#333" stroke-width="1.2"/><line x1="889.03" y1="743.3" x2="889.03" y2="732.3" stroke="#333" stroke-width="1.2"/><line x1="991.88" y1="743.3" x2="991.88" y2="732.3" stroke="#333" stroke-width="1.2"/><line x1="1094.72" y1="743.3" x2="1094.72" y2="732.3" stroke="#333" stroke-width="1.2"/><line x1="1197.58" y1="743.3" x2="1197.58" y2="732.3" stroke="#333" stroke-width="1.2"/><line x1="1300.42" y1="743.3" x2="1300.42" y2="732.3" stroke="#333" stroke-width="1.2"/><line x1="1403.28" y1="743.3" x2="1403.28" y2="732.3" stroke="#333" stroke-width="1.2"/><path d="M837.6,743.3 L837.6,434.8 L1454.7,434.8" fill="none" stroke="#2a2a2a" stroke-width="1.6" stroke-linejoin="miter"/><path d="M836.8000000000001,743.3 L1454.7,743.3 L1454.7,434.0" fill="none" stroke="#2a2a2a" stroke-width="2.1" stroke-linejoin="miter"/><text transform="translate(829.30,753.80) scale(0.92,1)" text-anchor="end" font-size="31" font-family="Liberation Serif, serif">0</text><text transform="translate(829.30,692.10) scale(0.92,1)" text-anchor="end" font-size="31" font-family="Liberation Serif, serif">2</text><text transform="translate(829.30,630.40) scale(0.92,1)" text-anchor="end" font-size="31" font-family="Liberation Serif, serif">4</text><text transform="translate(829.30,568.70) scale(0.92,1)" text-anchor="end" font-size="31" font-family="Liberation Serif, serif">6</text><text transform="translate(829.30,507.00) scale(0.92,1)" text-anchor="end" font-size="31" font-family="Liberation Serif, serif">8</text><text transform="translate(829.30,445.30) scale(0.92,1)" text-anchor="end" font-size="31" font-family="Liberation Serif, serif">10</text><text transform="translate(838.60,779.30) scale(0.92,1)" text-anchor="middle" font-size="31" font-family="Liberation Serif, serif">0</text><text transform="translate(941.45,779.30) scale(0.92,1)" text-anchor="middle" font-size="31" font-family="Liberation Serif, serif">0.1</text><text transform="translate(1044.30,779.30) scale(0.92,1)" text-anchor="middle" font-size="31" font-family="Liberation Serif, serif">0.2</text><text transform="translate(1147.15,779.30) scale(0.92,1)" text-anchor="middle" font-size="31" font-family="Liberation Serif, serif">0.3</text><text transform="translate(1250.00,779.30) scale(0.92,1)" text-anchor="middle" font-size="31" font-family="Liberation Serif, serif">0.4</text><text transform="translate(1352.85,779.30) scale(0.92,1)" text-anchor="middle" font-size="31" font-family="Liberation Serif, serif">0.5</text><text transform="translate(1455.70,779.30) scale(0.92,1)" text-anchor="middle" font-size="31" font-family="Liberation Serif, serif">0.6</text><text transform="translate(780.70,589.40) rotate(-90)" text-anchor="middle" font-size="32" font-family="Liberation Serif, serif">PDF</text><text x="1146.40" y="823.20" text-anchor="middle" font-size="32" font-family="Liberation Serif, serif">RMSF (nm)</text><rect x="1232.8" y="454.1" width="50.6" height="8.4" fill="#000000"/><text x="1294.2" y="463.0" font-size="19.6" font-family="Liberation Serif, serif">ULK1</text><rect x="1232.8" y="481.5" width="50.6" height="8.4" fill="#ff0000"/><text x="1294.2" y="489.8" font-size="19.6" font-family="Liberation Serif, serif">ULK1-Candidine</text><rect x="1232.8" y="507.8" width="50.6" height="8.4" fill="#0000ff"/><text x="1294.2" y="517.8" font-size="19.6" font-family="Liberation Serif, serif">ULK1-Delavinone</text><rect x="1232.8" y="537.4" width="50.6" height="8.4" fill="#008000"/><text x="1294.2" y="547.4" font-size="19.6" font-family="Liberation Serif, serif">ULK1-BL-918</text>
</svg></body></html>
